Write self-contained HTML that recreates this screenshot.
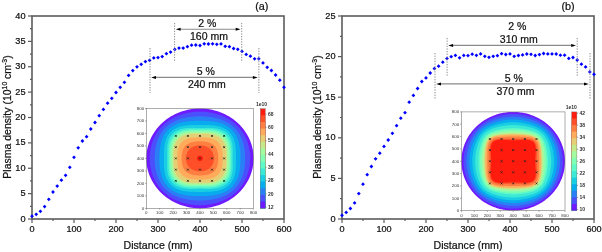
<!DOCTYPE html>
<html><head><meta charset="utf-8"><style>
html,body{margin:0;padding:0;background:#fff;}
svg{display:block;font-family:"Liberation Sans", sans-serif;will-change:transform;}
.t{stroke:#111;stroke-width:0.22px;}
</style></head><body>
<svg width="602" height="252" viewBox="0 0 602 252">
<rect width="602" height="252" fill="#fff"/>
<polygon points="253.60,158.40 253.59,157.53 253.57,156.66 253.53,155.79 253.47,154.92 253.40,154.05 253.31,153.18 253.20,152.32 253.08,151.46 252.94,150.59 252.78,149.73 252.61,148.88 252.43,148.03 252.22,147.17 252.01,146.33 251.77,145.48 251.52,144.65 251.26,143.81 250.97,142.98 250.68,142.15 250.36,141.33 250.04,140.52 249.69,139.71 249.34,138.90 248.96,138.10 248.57,137.31 248.17,136.53 247.75,135.75 247.32,134.97 246.87,134.21 246.41,133.45 245.94,132.70 245.45,131.96 244.94,131.22 244.43,130.50 243.90,129.78 243.35,129.07 242.80,128.37 242.23,127.68 241.64,127.00 241.05,126.32 240.44,125.66 239.82,125.01 239.19,124.37 238.54,123.74 237.89,123.12 237.22,122.50 236.54,121.91 235.85,121.32 235.15,120.74 234.44,120.17 233.71,119.62 232.98,119.08 232.24,118.55 231.48,118.03 230.72,117.52 229.95,117.03 229.17,116.55 228.38,116.08 227.58,115.63 226.77,115.19 225.96,114.76 225.14,114.34 224.31,113.94 223.47,113.55 222.62,113.18 221.77,112.81 220.91,112.47 220.05,112.13 219.18,111.81 218.30,111.51 217.42,111.22 216.53,110.94 215.64,110.68 214.74,110.43 213.84,110.20 212.93,109.98 212.02,109.78 211.10,109.59 210.19,109.42 209.27,109.26 208.34,109.11 207.42,108.99 206.49,108.87 205.56,108.77 204.63,108.69 203.69,108.62 202.76,108.57 201.82,108.53 200.89,108.51 199.95,108.50 199.01,108.51 198.08,108.53 197.14,108.57 196.21,108.62 195.27,108.69 194.34,108.77 193.41,108.87 192.48,108.99 191.56,109.11 190.63,109.26 189.71,109.42 188.80,109.59 187.88,109.78 186.97,109.98 186.06,110.20 185.16,110.43 184.26,110.68 183.37,110.94 182.48,111.22 181.60,111.51 180.72,111.81 179.85,112.13 178.99,112.47 178.13,112.81 177.28,113.18 176.43,113.55 175.59,113.94 174.76,114.34 173.94,114.76 173.13,115.19 172.32,115.63 171.52,116.08 170.73,116.55 169.95,117.03 169.18,117.52 168.42,118.03 167.66,118.55 166.92,119.08 166.19,119.62 165.46,120.17 164.75,120.74 164.05,121.32 163.36,121.91 162.68,122.50 162.01,123.12 161.36,123.74 160.71,124.37 160.08,125.01 159.46,125.66 158.85,126.32 158.26,127.00 157.67,127.68 157.10,128.37 156.55,129.07 156.00,129.78 155.47,130.50 154.96,131.22 154.45,131.96 153.96,132.70 153.49,133.45 153.03,134.21 152.58,134.97 152.15,135.75 151.73,136.53 151.33,137.31 150.94,138.10 150.56,138.90 150.21,139.71 149.86,140.52 149.54,141.33 149.22,142.15 148.93,142.98 148.64,143.81 148.38,144.65 148.13,145.48 147.89,146.33 147.68,147.17 147.47,148.03 147.29,148.88 147.12,149.73 146.96,150.59 146.82,151.46 146.70,152.32 146.59,153.18 146.50,154.05 146.43,154.92 146.37,155.79 146.33,156.66 146.31,157.53 146.30,158.40 146.31,159.27 146.33,160.14 146.37,161.01 146.43,161.88 146.50,162.75 146.59,163.62 146.70,164.48 146.82,165.34 146.96,166.21 147.12,167.07 147.29,167.92 147.47,168.77 147.68,169.63 147.89,170.47 148.13,171.32 148.38,172.15 148.64,172.99 148.93,173.82 149.22,174.65 149.54,175.47 149.86,176.28 150.21,177.09 150.56,177.90 150.94,178.70 151.33,179.49 151.73,180.27 152.15,181.05 152.58,181.83 153.03,182.59 153.49,183.35 153.96,184.10 154.45,184.84 154.96,185.58 155.47,186.30 156.00,187.02 156.55,187.73 157.10,188.43 157.67,189.12 158.26,189.80 158.85,190.48 159.46,191.14 160.08,191.79 160.71,192.43 161.36,193.06 162.01,193.68 162.68,194.30 163.36,194.89 164.05,195.48 164.75,196.06 165.46,196.63 166.19,197.18 166.92,197.72 167.66,198.25 168.42,198.77 169.18,199.28 169.95,199.77 170.73,200.25 171.52,200.72 172.32,201.17 173.12,201.61 173.94,202.04 174.76,202.46 175.59,202.86 176.43,203.25 177.28,203.62 178.13,203.99 178.99,204.33 179.85,204.67 180.72,204.99 181.60,205.29 182.48,205.58 183.37,205.86 184.26,206.12 185.16,206.37 186.06,206.60 186.97,206.82 187.88,207.02 188.80,207.21 189.71,207.38 190.63,207.54 191.56,207.69 192.48,207.81 193.41,207.93 194.34,208.03 195.27,208.11 196.21,208.18 197.14,208.23 198.08,208.27 199.01,208.29 199.95,208.30 200.89,208.29 201.82,208.27 202.76,208.23 203.69,208.18 204.63,208.11 205.56,208.03 206.49,207.93 207.42,207.81 208.34,207.69 209.27,207.54 210.19,207.38 211.10,207.21 212.02,207.02 212.93,206.82 213.84,206.60 214.74,206.37 215.64,206.12 216.53,205.86 217.42,205.58 218.30,205.29 219.18,204.99 220.05,204.67 220.91,204.33 221.77,203.99 222.62,203.62 223.47,203.25 224.31,202.86 225.14,202.46 225.96,202.04 226.77,201.61 227.58,201.17 228.38,200.72 229.17,200.25 229.95,199.77 230.72,199.28 231.48,198.77 232.24,198.25 232.98,197.72 233.71,197.18 234.44,196.63 235.15,196.06 235.85,195.48 236.54,194.89 237.22,194.30 237.89,193.68 238.54,193.06 239.19,192.43 239.82,191.79 240.44,191.14 241.05,190.48 241.64,189.80 242.23,189.12 242.80,188.43 243.35,187.73 243.90,187.02 244.43,186.30 244.94,185.58 245.45,184.84 245.94,184.10 246.41,183.35 246.87,182.59 247.32,181.83 247.75,181.05 248.17,180.27 248.57,179.49 248.96,178.70 249.34,177.90 249.69,177.09 250.04,176.28 250.36,175.47 250.68,174.65 250.97,173.82 251.26,172.99 251.52,172.15 251.77,171.32 252.01,170.47 252.22,169.63 252.43,168.77 252.61,167.92 252.78,167.07 252.94,166.21 253.08,165.34 253.20,164.48 253.31,163.62 253.40,162.75 253.47,161.88 253.53,161.01 253.57,160.14 253.59,159.27" fill="#6e1bff"/>
<polygon points="250.22,158.40 250.21,157.58 250.19,156.77 250.16,155.95 250.12,155.14 250.06,154.32 249.98,153.51 249.90,152.70 249.80,151.88 249.69,151.07 249.56,150.26 249.42,149.46 249.27,148.65 249.10,147.85 248.92,147.04 248.73,146.24 248.52,145.45 248.29,144.65 248.06,143.86 247.81,143.07 247.54,142.29 247.26,141.51 246.97,140.73 246.66,139.96 246.34,139.19 246.00,138.43 245.65,137.67 245.28,136.92 244.90,136.17 244.50,135.43 244.09,134.70 243.67,133.97 243.23,133.25 242.77,132.54 242.30,131.83 241.82,131.13 241.32,130.45 240.80,129.77 240.27,129.10 239.73,128.44 239.17,127.79 238.60,127.15 238.02,126.52 237.42,125.90 236.80,125.30 236.18,124.70 235.54,124.12 234.89,123.55 234.23,122.99 233.55,122.45 232.86,121.92 232.16,121.40 231.45,120.89 230.73,120.40 230.00,119.92 229.26,119.46 228.52,119.01 227.76,118.57 226.99,118.15 226.22,117.74 225.44,117.34 224.65,116.96 223.85,116.59 223.05,116.24 222.24,115.90 221.42,115.57 220.60,115.26 219.78,114.96 218.95,114.67 218.11,114.40 217.27,114.14 216.43,113.89 215.58,113.66 214.73,113.43 213.88,113.23 213.02,113.03 212.16,112.85 211.30,112.68 210.43,112.53 209.57,112.39 208.70,112.26 207.83,112.14 206.96,112.03 206.08,111.94 205.21,111.86 204.33,111.80 203.46,111.74 202.58,111.70 201.70,111.67 200.83,111.65 199.95,111.64 199.07,111.65 198.20,111.67 197.32,111.70 196.44,111.74 195.57,111.80 194.69,111.86 193.82,111.94 192.94,112.03 192.07,112.14 191.20,112.26 190.33,112.39 189.47,112.53 188.60,112.68 187.74,112.85 186.88,113.03 186.02,113.23 185.17,113.43 184.32,113.66 183.47,113.89 182.63,114.14 181.79,114.40 180.95,114.67 180.12,114.96 179.30,115.26 178.48,115.57 177.66,115.90 176.85,116.24 176.05,116.59 175.25,116.96 174.46,117.34 173.68,117.74 172.91,118.15 172.14,118.57 171.38,119.01 170.64,119.46 169.90,119.92 169.17,120.40 168.45,120.89 167.74,121.40 167.04,121.92 166.35,122.45 165.67,122.99 165.01,123.55 164.36,124.12 163.72,124.70 163.10,125.30 162.48,125.90 161.88,126.52 161.30,127.15 160.73,127.79 160.17,128.44 159.63,129.10 159.10,129.77 158.58,130.45 158.08,131.13 157.60,131.83 157.13,132.54 156.67,133.25 156.23,133.97 155.81,134.70 155.40,135.43 155.00,136.17 154.62,136.92 154.25,137.67 153.90,138.43 153.56,139.19 153.24,139.96 152.93,140.73 152.64,141.51 152.36,142.29 152.09,143.07 151.84,143.86 151.61,144.65 151.38,145.45 151.17,146.24 150.98,147.04 150.80,147.85 150.63,148.65 150.48,149.46 150.34,150.26 150.21,151.07 150.10,151.88 150.00,152.70 149.92,153.51 149.84,154.32 149.78,155.14 149.74,155.95 149.71,156.77 149.69,157.58 149.68,158.40 149.69,159.22 149.71,160.03 149.74,160.85 149.78,161.66 149.84,162.48 149.92,163.29 150.00,164.10 150.10,164.92 150.21,165.73 150.34,166.54 150.48,167.34 150.63,168.15 150.80,168.95 150.98,169.76 151.17,170.56 151.38,171.35 151.61,172.15 151.84,172.94 152.09,173.73 152.36,174.51 152.64,175.29 152.93,176.07 153.24,176.84 153.56,177.61 153.90,178.37 154.25,179.13 154.62,179.88 155.00,180.63 155.40,181.37 155.81,182.10 156.23,182.83 156.67,183.55 157.13,184.26 157.60,184.97 158.08,185.67 158.58,186.35 159.10,187.03 159.63,187.70 160.17,188.36 160.73,189.01 161.30,189.65 161.88,190.28 162.48,190.90 163.10,191.50 163.72,192.10 164.36,192.68 165.01,193.25 165.67,193.81 166.35,194.35 167.04,194.88 167.74,195.40 168.45,195.91 169.17,196.40 169.90,196.88 170.64,197.34 171.38,197.79 172.14,198.23 172.91,198.65 173.68,199.06 174.46,199.46 175.25,199.84 176.05,200.21 176.85,200.56 177.66,200.90 178.48,201.23 179.30,201.54 180.12,201.84 180.95,202.13 181.79,202.40 182.63,202.66 183.47,202.91 184.32,203.14 185.17,203.37 186.02,203.57 186.88,203.77 187.74,203.95 188.60,204.12 189.47,204.27 190.33,204.41 191.20,204.54 192.07,204.66 192.94,204.77 193.82,204.86 194.69,204.94 195.57,205.00 196.44,205.06 197.32,205.10 198.20,205.13 199.07,205.15 199.95,205.16 200.83,205.15 201.70,205.13 202.58,205.10 203.46,205.06 204.33,205.00 205.21,204.94 206.08,204.86 206.96,204.77 207.83,204.66 208.70,204.54 209.57,204.41 210.43,204.27 211.30,204.12 212.16,203.95 213.02,203.77 213.88,203.57 214.73,203.37 215.58,203.14 216.43,202.91 217.27,202.66 218.11,202.40 218.95,202.13 219.78,201.84 220.60,201.54 221.42,201.23 222.24,200.90 223.05,200.56 223.85,200.21 224.65,199.84 225.44,199.46 226.22,199.06 226.99,198.65 227.76,198.23 228.52,197.79 229.26,197.34 230.00,196.88 230.73,196.40 231.45,195.91 232.16,195.40 232.86,194.88 233.55,194.35 234.23,193.81 234.89,193.25 235.54,192.68 236.18,192.10 236.80,191.50 237.42,190.90 238.02,190.28 238.60,189.65 239.17,189.01 239.73,188.36 240.27,187.70 240.80,187.03 241.32,186.35 241.82,185.67 242.30,184.97 242.77,184.26 243.23,183.55 243.67,182.83 244.09,182.10 244.50,181.37 244.90,180.63 245.28,179.88 245.65,179.13 246.00,178.37 246.34,177.61 246.66,176.84 246.97,176.07 247.26,175.29 247.54,174.51 247.81,173.73 248.06,172.94 248.29,172.15 248.52,171.35 248.73,170.56 248.92,169.76 249.10,168.95 249.27,168.15 249.42,167.34 249.56,166.54 249.69,165.73 249.80,164.92 249.90,164.10 249.98,163.29 250.06,162.48 250.12,161.66 250.16,160.85 250.19,160.03 250.21,159.22" fill="#4c4ffc"/>
<polygon points="245.18,158.40 245.17,157.67 245.16,156.93 245.14,156.20 245.11,155.46 245.08,154.73 245.03,153.99 244.98,153.26 244.92,152.52 244.85,151.79 244.77,151.05 244.67,150.31 244.57,149.58 244.46,148.84 244.34,148.11 244.21,147.37 244.06,146.63 243.91,145.90 243.74,145.17 243.56,144.43 243.37,143.70 243.17,142.97 242.95,142.24 242.72,141.51 242.47,140.79 242.22,140.07 241.94,139.35 241.66,138.63 241.35,137.92 241.04,137.22 240.70,136.52 240.35,135.82 239.99,135.13 239.61,134.45 239.21,133.77 238.79,133.10 238.36,132.44 237.91,131.79 237.44,131.15 236.96,130.52 236.46,129.90 235.94,129.30 235.41,128.70 234.86,128.12 234.29,127.55 233.71,127.00 233.12,126.46 232.50,125.93 231.88,125.42 231.24,124.92 230.59,124.44 229.92,123.98 229.24,123.53 228.56,123.09 227.86,122.67 227.15,122.27 226.43,121.89 225.70,121.52 224.97,121.16 224.23,120.82 223.48,120.50 222.72,120.19 221.96,119.89 221.20,119.61 220.43,119.34 219.66,119.09 218.88,118.85 218.10,118.62 217.32,118.41 216.54,118.20 215.75,118.01 214.97,117.84 214.18,117.67 213.39,117.51 212.60,117.37 211.81,117.24 211.02,117.11 210.23,117.00 209.43,116.90 208.64,116.80 207.85,116.72 207.06,116.64 206.27,116.57 205.48,116.52 204.69,116.47 203.90,116.43 203.11,116.39 202.32,116.37 201.53,116.35 200.74,116.34 199.95,116.33 199.16,116.34 198.37,116.35 197.58,116.37 196.79,116.39 196.00,116.43 195.21,116.47 194.42,116.52 193.63,116.57 192.84,116.64 192.05,116.72 191.26,116.80 190.47,116.90 189.67,117.00 188.88,117.11 188.09,117.24 187.30,117.37 186.51,117.51 185.72,117.67 184.93,117.84 184.15,118.01 183.36,118.20 182.58,118.41 181.80,118.62 181.02,118.85 180.24,119.09 179.47,119.34 178.70,119.61 177.94,119.89 177.18,120.19 176.42,120.50 175.67,120.82 174.93,121.16 174.20,121.52 173.47,121.89 172.75,122.27 172.04,122.67 171.34,123.09 170.66,123.53 169.98,123.98 169.31,124.44 168.66,124.92 168.02,125.42 167.40,125.93 166.78,126.46 166.19,127.00 165.61,127.55 165.04,128.12 164.49,128.70 163.96,129.30 163.44,129.90 162.94,130.52 162.46,131.15 161.99,131.79 161.54,132.44 161.11,133.10 160.69,133.77 160.29,134.45 159.91,135.13 159.55,135.82 159.20,136.52 158.86,137.22 158.55,137.92 158.24,138.63 157.96,139.35 157.68,140.07 157.43,140.79 157.18,141.51 156.95,142.24 156.73,142.97 156.53,143.70 156.34,144.43 156.16,145.17 155.99,145.90 155.84,146.63 155.69,147.37 155.56,148.11 155.44,148.84 155.33,149.58 155.23,150.31 155.13,151.05 155.05,151.79 154.98,152.52 154.92,153.26 154.87,153.99 154.82,154.73 154.79,155.46 154.76,156.20 154.74,156.93 154.73,157.67 154.72,158.40 154.73,159.13 154.74,159.87 154.76,160.60 154.79,161.34 154.82,162.07 154.87,162.81 154.92,163.54 154.98,164.28 155.05,165.01 155.13,165.75 155.23,166.49 155.33,167.22 155.44,167.96 155.56,168.69 155.69,169.43 155.84,170.17 155.99,170.90 156.16,171.63 156.34,172.37 156.53,173.10 156.73,173.83 156.95,174.56 157.18,175.29 157.43,176.01 157.68,176.73 157.96,177.45 158.24,178.17 158.55,178.88 158.86,179.58 159.20,180.28 159.55,180.98 159.91,181.67 160.29,182.35 160.69,183.03 161.11,183.70 161.54,184.36 161.99,185.01 162.46,185.65 162.94,186.28 163.44,186.90 163.96,187.50 164.49,188.10 165.04,188.68 165.61,189.25 166.19,189.80 166.78,190.34 167.40,190.87 168.02,191.38 168.66,191.88 169.31,192.36 169.98,192.82 170.66,193.27 171.34,193.71 172.04,194.13 172.75,194.53 173.47,194.91 174.20,195.28 174.93,195.64 175.67,195.98 176.42,196.30 177.18,196.61 177.94,196.91 178.70,197.19 179.47,197.46 180.24,197.71 181.02,197.95 181.80,198.18 182.58,198.39 183.36,198.60 184.15,198.79 184.93,198.96 185.72,199.13 186.51,199.29 187.30,199.43 188.09,199.56 188.88,199.69 189.67,199.80 190.47,199.90 191.26,200.00 192.05,200.08 192.84,200.16 193.63,200.23 194.42,200.28 195.21,200.33 196.00,200.37 196.79,200.41 197.58,200.43 198.37,200.45 199.16,200.46 199.95,200.47 200.74,200.46 201.53,200.45 202.32,200.43 203.11,200.41 203.90,200.37 204.69,200.33 205.48,200.28 206.27,200.23 207.06,200.16 207.85,200.08 208.64,200.00 209.43,199.90 210.23,199.80 211.02,199.69 211.81,199.56 212.60,199.43 213.39,199.29 214.18,199.13 214.97,198.96 215.75,198.79 216.54,198.60 217.32,198.39 218.10,198.18 218.88,197.95 219.66,197.71 220.43,197.46 221.20,197.19 221.96,196.91 222.72,196.61 223.48,196.30 224.23,195.98 224.97,195.64 225.70,195.28 226.43,194.91 227.15,194.53 227.86,194.13 228.56,193.71 229.24,193.27 229.92,192.82 230.59,192.36 231.24,191.88 231.88,191.38 232.50,190.87 233.12,190.34 233.71,189.80 234.29,189.25 234.86,188.68 235.41,188.10 235.94,187.50 236.46,186.90 236.96,186.28 237.44,185.65 237.91,185.01 238.36,184.36 238.79,183.70 239.21,183.03 239.61,182.35 239.99,181.67 240.35,180.98 240.70,180.28 241.04,179.58 241.35,178.88 241.66,178.17 241.94,177.45 242.22,176.73 242.47,176.01 242.72,175.29 242.95,174.56 243.17,173.83 243.37,173.10 243.56,172.37 243.74,171.63 243.91,170.90 244.06,170.17 244.21,169.43 244.34,168.69 244.46,167.96 244.57,167.22 244.67,166.49 244.77,165.75 244.85,165.01 244.92,164.28 244.98,163.54 245.03,162.81 245.08,162.07 245.11,161.34 245.14,160.60 245.16,159.87 245.17,159.13" fill="#2b7ff6"/>
<polygon points="240.46,158.40 240.45,157.74 240.45,157.08 240.44,156.43 240.43,155.77 240.41,155.11 240.39,154.45 240.36,153.78 240.33,153.12 240.29,152.46 240.25,151.79 240.20,151.12 240.14,150.45 240.08,149.78 240.01,149.11 239.93,148.44 239.84,147.76 239.74,147.09 239.63,146.41 239.51,145.73 239.38,145.05 239.24,144.37 239.09,143.69 238.93,143.01 238.75,142.33 238.56,141.65 238.36,140.98 238.14,140.30 237.91,139.63 237.66,138.96 237.39,138.29 237.11,137.63 236.81,136.98 236.49,136.33 236.16,135.69 235.80,135.05 235.43,134.42 235.04,133.81 234.63,133.20 234.20,132.60 233.76,132.02 233.29,131.44 232.81,130.88 232.31,130.34 231.79,129.81 231.25,129.29 230.69,128.79 230.12,128.31 229.54,127.84 228.93,127.39 228.32,126.96 227.69,126.54 227.05,126.14 226.39,125.76 225.73,125.40 225.05,125.05 224.37,124.72 223.68,124.41 222.98,124.12 222.28,123.84 221.57,123.58 220.85,123.33 220.13,123.10 219.41,122.88 218.68,122.68 217.96,122.49 217.23,122.31 216.50,122.15 215.76,121.99 215.03,121.85 214.30,121.72 213.57,121.60 212.84,121.49 212.11,121.39 211.39,121.30 210.66,121.22 209.94,121.14 209.21,121.08 208.49,121.02 207.77,120.96 207.06,120.92 206.34,120.88 205.63,120.84 204.91,120.81 204.20,120.79 203.49,120.77 202.78,120.75 202.07,120.74 201.36,120.73 200.66,120.73 199.95,120.73 199.24,120.73 198.54,120.73 197.83,120.74 197.12,120.75 196.41,120.77 195.70,120.79 194.99,120.81 194.27,120.84 193.56,120.88 192.84,120.92 192.13,120.96 191.41,121.02 190.69,121.08 189.96,121.14 189.24,121.22 188.51,121.30 187.79,121.39 187.06,121.49 186.33,121.60 185.60,121.72 184.87,121.85 184.14,121.99 183.40,122.15 182.67,122.31 181.94,122.49 181.22,122.68 180.49,122.88 179.77,123.10 179.05,123.33 178.33,123.58 177.62,123.84 176.92,124.12 176.22,124.41 175.53,124.72 174.85,125.05 174.17,125.40 173.51,125.76 172.85,126.14 172.21,126.54 171.58,126.96 170.97,127.39 170.36,127.84 169.78,128.31 169.21,128.79 168.65,129.29 168.11,129.81 167.59,130.34 167.09,130.88 166.61,131.44 166.14,132.02 165.70,132.60 165.27,133.20 164.86,133.81 164.47,134.42 164.10,135.05 163.74,135.69 163.41,136.33 163.09,136.98 162.79,137.63 162.51,138.29 162.24,138.96 161.99,139.63 161.76,140.30 161.54,140.98 161.34,141.65 161.15,142.33 160.97,143.01 160.81,143.69 160.66,144.37 160.52,145.05 160.39,145.73 160.27,146.41 160.16,147.09 160.06,147.76 159.97,148.44 159.89,149.11 159.82,149.78 159.76,150.45 159.70,151.12 159.65,151.79 159.61,152.46 159.57,153.12 159.54,153.78 159.51,154.45 159.49,155.11 159.47,155.77 159.46,156.43 159.45,157.08 159.45,157.74 159.44,158.40 159.45,159.06 159.45,159.72 159.46,160.37 159.47,161.03 159.49,161.69 159.51,162.35 159.54,163.02 159.57,163.68 159.61,164.34 159.65,165.01 159.70,165.68 159.76,166.35 159.82,167.02 159.89,167.69 159.97,168.36 160.06,169.04 160.16,169.71 160.27,170.39 160.39,171.07 160.52,171.75 160.66,172.43 160.81,173.11 160.97,173.79 161.15,174.47 161.34,175.15 161.54,175.82 161.76,176.50 161.99,177.17 162.24,177.84 162.51,178.51 162.79,179.17 163.09,179.82 163.41,180.47 163.74,181.11 164.10,181.75 164.47,182.38 164.86,182.99 165.27,183.60 165.70,184.20 166.14,184.78 166.61,185.36 167.09,185.92 167.59,186.46 168.11,186.99 168.65,187.51 169.21,188.01 169.78,188.49 170.36,188.96 170.97,189.41 171.58,189.84 172.21,190.26 172.85,190.66 173.51,191.04 174.17,191.40 174.85,191.75 175.53,192.08 176.22,192.39 176.92,192.68 177.62,192.96 178.33,193.22 179.05,193.47 179.77,193.70 180.49,193.92 181.22,194.12 181.94,194.31 182.67,194.49 183.40,194.65 184.14,194.81 184.87,194.95 185.60,195.08 186.33,195.20 187.06,195.31 187.79,195.41 188.51,195.50 189.24,195.58 189.96,195.66 190.69,195.72 191.41,195.78 192.13,195.84 192.84,195.88 193.56,195.92 194.27,195.96 194.99,195.99 195.70,196.01 196.41,196.03 197.12,196.05 197.83,196.06 198.54,196.07 199.24,196.07 199.95,196.07 200.66,196.07 201.36,196.07 202.07,196.06 202.78,196.05 203.49,196.03 204.20,196.01 204.91,195.99 205.63,195.96 206.34,195.92 207.06,195.88 207.77,195.84 208.49,195.78 209.21,195.72 209.94,195.66 210.66,195.58 211.39,195.50 212.11,195.41 212.84,195.31 213.57,195.20 214.30,195.08 215.03,194.95 215.76,194.81 216.50,194.65 217.23,194.49 217.96,194.31 218.68,194.12 219.41,193.92 220.13,193.70 220.85,193.47 221.57,193.22 222.28,192.96 222.98,192.68 223.68,192.39 224.37,192.08 225.05,191.75 225.73,191.40 226.39,191.04 227.05,190.66 227.69,190.26 228.32,189.84 228.93,189.41 229.54,188.96 230.12,188.49 230.69,188.01 231.25,187.51 231.79,186.99 232.31,186.46 232.81,185.92 233.29,185.36 233.76,184.78 234.20,184.20 234.63,183.60 235.04,182.99 235.43,182.38 235.80,181.75 236.16,181.11 236.49,180.47 236.81,179.82 237.11,179.17 237.39,178.51 237.66,177.84 237.91,177.17 238.14,176.50 238.36,175.82 238.56,175.15 238.75,174.47 238.93,173.79 239.09,173.11 239.24,172.43 239.38,171.75 239.51,171.07 239.63,170.39 239.74,169.71 239.84,169.04 239.93,168.36 240.01,167.69 240.08,167.02 240.14,166.35 240.20,165.68 240.25,165.01 240.29,164.34 240.33,163.68 240.36,163.02 240.39,162.35 240.41,161.69 240.43,161.03 240.44,160.37 240.45,159.72 240.45,159.06" fill="#08abee"/>
<polygon points="235.95,158.40 235.95,157.82 235.95,157.23 235.95,156.65 235.95,156.06 235.95,155.47 235.95,154.88 235.95,154.29 235.94,153.70 235.93,153.10 235.92,152.50 235.91,151.90 235.89,151.29 235.87,150.69 235.84,150.08 235.80,149.46 235.76,148.85 235.72,148.23 235.66,147.61 235.60,146.98 235.52,146.36 235.44,145.73 235.35,145.10 235.24,144.47 235.12,143.83 234.99,143.20 234.85,142.57 234.69,141.93 234.52,141.30 234.33,140.67 234.13,140.05 233.91,139.42 233.67,138.80 233.41,138.19 233.13,137.58 232.84,136.98 232.52,136.39 232.19,135.81 231.83,135.23 231.46,134.67 231.06,134.12 230.64,133.58 230.21,133.06 229.75,132.55 229.28,132.06 228.78,131.58 228.27,131.12 227.74,130.68 227.19,130.26 226.63,129.85 226.05,129.47 225.46,129.10 224.86,128.75 224.24,128.42 223.61,128.11 222.98,127.81 222.33,127.54 221.68,127.28 221.02,127.04 220.35,126.82 219.68,126.61 219.01,126.42 218.33,126.25 217.65,126.08 216.97,125.94 216.29,125.81 215.61,125.68 214.93,125.58 214.25,125.48 213.57,125.39 212.90,125.31 212.22,125.25 211.55,125.19 210.88,125.13 210.22,125.09 209.56,125.05 208.90,125.02 208.24,124.99 207.59,124.97 206.94,124.95 206.29,124.94 205.65,124.93 205.01,124.92 204.37,124.92 203.73,124.92 203.10,124.91 202.47,124.91 201.84,124.92 201.21,124.92 200.58,124.92 199.95,124.92 199.32,124.92 198.69,124.92 198.06,124.92 197.43,124.91 196.80,124.91 196.17,124.92 195.53,124.92 194.89,124.92 194.25,124.93 193.61,124.94 192.96,124.95 192.31,124.97 191.66,124.99 191.00,125.02 190.34,125.05 189.68,125.09 189.02,125.13 188.35,125.19 187.68,125.25 187.00,125.31 186.33,125.39 185.65,125.48 184.97,125.58 184.29,125.68 183.61,125.81 182.93,125.94 182.25,126.08 181.57,126.25 180.89,126.42 180.22,126.61 179.55,126.82 178.88,127.04 178.22,127.28 177.57,127.54 176.92,127.81 176.29,128.11 175.66,128.42 175.04,128.75 174.44,129.10 173.85,129.47 173.27,129.85 172.71,130.26 172.16,130.68 171.63,131.12 171.12,131.58 170.62,132.06 170.15,132.55 169.69,133.06 169.26,133.58 168.84,134.12 168.44,134.67 168.07,135.23 167.71,135.81 167.38,136.39 167.06,136.98 166.77,137.58 166.49,138.19 166.23,138.80 165.99,139.42 165.77,140.05 165.57,140.67 165.38,141.30 165.21,141.93 165.05,142.57 164.91,143.20 164.78,143.83 164.66,144.47 164.55,145.10 164.46,145.73 164.38,146.36 164.30,146.98 164.24,147.61 164.18,148.23 164.14,148.85 164.10,149.46 164.06,150.08 164.03,150.69 164.01,151.29 163.99,151.90 163.98,152.50 163.97,153.10 163.96,153.70 163.95,154.29 163.95,154.88 163.95,155.47 163.95,156.06 163.95,156.65 163.95,157.23 163.95,157.82 163.95,158.40 163.95,158.98 163.95,159.57 163.95,160.15 163.95,160.74 163.95,161.33 163.95,161.92 163.95,162.51 163.96,163.10 163.97,163.70 163.98,164.30 163.99,164.90 164.01,165.51 164.03,166.11 164.06,166.72 164.10,167.34 164.14,167.95 164.18,168.57 164.24,169.19 164.30,169.82 164.38,170.44 164.46,171.07 164.55,171.70 164.66,172.33 164.78,172.97 164.91,173.60 165.05,174.23 165.21,174.87 165.38,175.50 165.57,176.13 165.77,176.75 165.99,177.38 166.23,178.00 166.49,178.61 166.77,179.22 167.06,179.82 167.38,180.41 167.71,180.99 168.07,181.57 168.44,182.13 168.84,182.68 169.26,183.22 169.69,183.74 170.15,184.25 170.62,184.74 171.12,185.22 171.63,185.68 172.16,186.12 172.71,186.54 173.27,186.95 173.85,187.33 174.44,187.70 175.04,188.05 175.66,188.38 176.29,188.69 176.92,188.99 177.57,189.26 178.22,189.52 178.88,189.76 179.55,189.98 180.22,190.19 180.89,190.38 181.57,190.55 182.25,190.72 182.93,190.86 183.61,190.99 184.29,191.12 184.97,191.22 185.65,191.32 186.33,191.41 187.00,191.49 187.68,191.55 188.35,191.61 189.02,191.67 189.68,191.71 190.34,191.75 191.00,191.78 191.66,191.81 192.31,191.83 192.96,191.85 193.61,191.86 194.25,191.87 194.89,191.88 195.53,191.88 196.17,191.88 196.80,191.89 197.43,191.89 198.06,191.88 198.69,191.88 199.32,191.88 199.95,191.88 200.58,191.88 201.21,191.88 201.84,191.88 202.47,191.89 203.10,191.89 203.73,191.88 204.37,191.88 205.01,191.88 205.65,191.87 206.29,191.86 206.94,191.85 207.59,191.83 208.24,191.81 208.90,191.78 209.56,191.75 210.22,191.71 210.88,191.67 211.55,191.61 212.22,191.55 212.90,191.49 213.57,191.41 214.25,191.32 214.93,191.22 215.61,191.12 216.29,190.99 216.97,190.86 217.65,190.72 218.33,190.55 219.01,190.38 219.68,190.19 220.35,189.98 221.02,189.76 221.68,189.52 222.33,189.26 222.98,188.99 223.61,188.69 224.24,188.38 224.86,188.05 225.46,187.70 226.05,187.33 226.63,186.95 227.19,186.54 227.74,186.12 228.27,185.68 228.78,185.22 229.28,184.74 229.75,184.25 230.21,183.74 230.64,183.22 231.06,182.68 231.46,182.13 231.83,181.57 232.19,180.99 232.52,180.41 232.84,179.82 233.13,179.22 233.41,178.61 233.67,178.00 233.91,177.38 234.13,176.75 234.33,176.13 234.52,175.50 234.69,174.87 234.85,174.23 234.99,173.60 235.12,172.97 235.24,172.33 235.35,171.70 235.44,171.07 235.52,170.44 235.60,169.82 235.66,169.19 235.72,168.57 235.76,167.95 235.80,167.34 235.84,166.72 235.87,166.11 235.89,165.51 235.91,164.90 235.92,164.30 235.93,163.70 235.94,163.10 235.95,162.51 235.95,161.92 235.95,161.33 235.95,160.74 235.95,160.15 235.95,159.57 235.95,158.98" fill="#19cee3"/>
<polygon points="232.68,158.40 232.68,157.87 232.68,157.34 232.69,156.80 232.70,156.27 232.71,155.73 232.72,155.20 232.73,154.66 232.74,154.11 232.76,153.57 232.77,153.02 232.77,152.47 232.78,151.91 232.78,151.35 232.78,150.79 232.78,150.22 232.77,149.65 232.75,149.07 232.73,148.49 232.70,147.91 232.66,147.33 232.62,146.74 232.56,146.15 232.49,145.55 232.42,144.96 232.33,144.36 232.22,143.76 232.11,143.16 231.98,142.56 231.83,141.96 231.66,141.37 231.48,140.78 231.29,140.19 231.07,139.60 230.83,139.03 230.58,138.45 230.30,137.89 230.00,137.34 229.69,136.79 229.35,136.26 228.99,135.74 228.61,135.23 228.21,134.74 227.79,134.26 227.35,133.79 226.88,133.35 226.41,132.92 225.91,132.51 225.39,132.12 224.86,131.74 224.32,131.39 223.76,131.06 223.18,130.74 222.60,130.45 222.00,130.17 221.39,129.91 220.78,129.68 220.16,129.46 219.53,129.25 218.90,129.07 218.26,128.90 217.62,128.75 216.98,128.61 216.33,128.49 215.69,128.38 215.05,128.29 214.41,128.20 213.76,128.13 213.13,128.07 212.49,128.02 211.86,127.97 211.23,127.94 210.60,127.91 209.98,127.89 209.36,127.88 208.75,127.87 208.14,127.86 207.53,127.86 206.93,127.87 206.33,127.87 205.74,127.88 205.15,127.89 204.56,127.90 203.98,127.91 203.39,127.92 202.82,127.93 202.24,127.94 201.67,127.95 201.09,127.96 200.52,127.96 199.95,127.96 199.38,127.96 198.81,127.96 198.23,127.95 197.66,127.94 197.08,127.93 196.51,127.92 195.92,127.91 195.34,127.90 194.75,127.89 194.16,127.88 193.57,127.87 192.97,127.87 192.37,127.86 191.76,127.86 191.15,127.87 190.54,127.88 189.92,127.89 189.30,127.91 188.67,127.94 188.04,127.97 187.41,128.02 186.77,128.07 186.14,128.13 185.49,128.20 184.85,128.29 184.21,128.38 183.57,128.49 182.92,128.61 182.28,128.75 181.64,128.90 181.00,129.07 180.37,129.25 179.74,129.46 179.12,129.68 178.51,129.91 177.90,130.17 177.30,130.45 176.72,130.74 176.14,131.06 175.58,131.39 175.04,131.74 174.51,132.12 173.99,132.51 173.49,132.92 173.02,133.35 172.55,133.79 172.11,134.26 171.69,134.74 171.29,135.23 170.91,135.74 170.55,136.26 170.21,136.79 169.90,137.34 169.60,137.89 169.32,138.45 169.07,139.03 168.83,139.60 168.61,140.19 168.42,140.78 168.24,141.37 168.07,141.96 167.92,142.56 167.79,143.16 167.68,143.76 167.57,144.36 167.48,144.96 167.41,145.55 167.34,146.15 167.28,146.74 167.24,147.33 167.20,147.91 167.17,148.49 167.15,149.07 167.13,149.65 167.12,150.22 167.12,150.79 167.12,151.35 167.12,151.91 167.13,152.47 167.13,153.02 167.14,153.57 167.16,154.11 167.17,154.66 167.18,155.20 167.19,155.73 167.20,156.27 167.21,156.80 167.22,157.34 167.22,157.87 167.22,158.40 167.22,158.93 167.22,159.46 167.21,160.00 167.20,160.53 167.19,161.07 167.18,161.60 167.17,162.14 167.16,162.69 167.14,163.23 167.13,163.78 167.13,164.33 167.12,164.89 167.12,165.45 167.12,166.01 167.12,166.58 167.13,167.15 167.15,167.73 167.17,168.31 167.20,168.89 167.24,169.47 167.28,170.06 167.34,170.65 167.41,171.25 167.48,171.84 167.57,172.44 167.68,173.04 167.79,173.64 167.92,174.24 168.07,174.84 168.24,175.43 168.42,176.02 168.61,176.61 168.83,177.20 169.07,177.77 169.32,178.35 169.60,178.91 169.90,179.46 170.21,180.01 170.55,180.54 170.91,181.06 171.29,181.57 171.69,182.06 172.11,182.54 172.55,183.01 173.02,183.45 173.49,183.88 173.99,184.29 174.51,184.68 175.04,185.06 175.58,185.41 176.14,185.74 176.72,186.06 177.30,186.35 177.90,186.63 178.51,186.89 179.12,187.12 179.74,187.34 180.37,187.55 181.00,187.73 181.64,187.90 182.28,188.05 182.92,188.19 183.57,188.31 184.21,188.42 184.85,188.51 185.49,188.60 186.14,188.67 186.77,188.73 187.41,188.78 188.04,188.83 188.67,188.86 189.30,188.89 189.92,188.91 190.54,188.92 191.15,188.93 191.76,188.94 192.37,188.94 192.97,188.93 193.57,188.93 194.16,188.92 194.75,188.91 195.34,188.90 195.92,188.89 196.51,188.88 197.08,188.87 197.66,188.86 198.23,188.85 198.81,188.84 199.38,188.84 199.95,188.84 200.52,188.84 201.09,188.84 201.67,188.85 202.24,188.86 202.82,188.87 203.39,188.88 203.98,188.89 204.56,188.90 205.15,188.91 205.74,188.92 206.33,188.93 206.93,188.93 207.53,188.94 208.14,188.94 208.75,188.93 209.36,188.92 209.98,188.91 210.60,188.89 211.23,188.86 211.86,188.83 212.49,188.78 213.13,188.73 213.76,188.67 214.41,188.60 215.05,188.51 215.69,188.42 216.33,188.31 216.98,188.19 217.62,188.05 218.26,187.90 218.90,187.73 219.53,187.55 220.16,187.34 220.78,187.12 221.39,186.89 222.00,186.63 222.60,186.35 223.18,186.06 223.76,185.74 224.32,185.41 224.86,185.06 225.39,184.68 225.91,184.29 226.41,183.88 226.88,183.45 227.35,183.01 227.79,182.54 228.21,182.06 228.61,181.57 228.99,181.06 229.35,180.54 229.69,180.01 230.00,179.46 230.30,178.91 230.58,178.35 230.83,177.77 231.07,177.20 231.29,176.61 231.48,176.02 231.66,175.43 231.83,174.84 231.98,174.24 232.11,173.64 232.22,173.04 232.33,172.44 232.42,171.84 232.49,171.25 232.56,170.65 232.62,170.06 232.66,169.47 232.70,168.89 232.73,168.31 232.75,167.73 232.77,167.15 232.78,166.58 232.78,166.01 232.78,165.45 232.78,164.89 232.77,164.33 232.77,163.78 232.76,163.23 232.74,162.69 232.73,162.14 232.72,161.60 232.71,161.07 232.70,160.53 232.69,160.00 232.68,159.46 232.68,158.93" fill="#3be9d6"/>
<polygon points="231.34,158.40 231.34,157.89 231.34,157.38 231.34,156.87 231.35,156.36 231.35,155.84 231.35,155.33 231.36,154.81 231.36,154.29 231.36,153.77 231.36,153.25 231.35,152.72 231.34,152.19 231.33,151.66 231.32,151.13 231.30,150.59 231.27,150.05 231.24,149.50 231.21,148.95 231.16,148.40 231.11,147.85 231.05,147.30 230.98,146.74 230.90,146.18 230.81,145.62 230.70,145.06 230.59,144.50 230.46,143.94 230.32,143.38 230.17,142.82 230.00,142.26 229.81,141.71 229.61,141.16 229.39,140.62 229.16,140.08 228.90,139.54 228.63,139.02 228.34,138.50 228.04,137.99 227.71,137.49 227.37,137.00 227.00,136.53 226.62,136.06 226.22,135.61 225.80,135.18 225.37,134.76 224.92,134.35 224.45,133.97 223.96,133.59 223.47,133.24 222.95,132.90 222.43,132.58 221.89,132.28 221.35,131.99 220.79,131.72 220.22,131.47 219.65,131.23 219.07,131.02 218.48,130.81 217.89,130.63 217.30,130.45 216.70,130.29 216.10,130.15 215.50,130.02 214.89,129.90 214.29,129.80 213.69,129.70 213.09,129.62 212.49,129.54 211.89,129.48 211.29,129.42 210.70,129.37 210.11,129.33 209.52,129.29 208.93,129.27 208.35,129.24 207.77,129.22 207.20,129.21 206.62,129.20 206.05,129.19 205.49,129.19 204.92,129.19 204.36,129.19 203.81,129.19 203.25,129.19 202.70,129.20 202.15,129.20 201.60,129.20 201.05,129.21 200.50,129.21 199.95,129.21 199.40,129.21 198.85,129.21 198.30,129.20 197.75,129.20 197.20,129.20 196.65,129.19 196.09,129.19 195.54,129.19 194.98,129.19 194.41,129.19 193.85,129.19 193.28,129.20 192.70,129.21 192.13,129.22 191.55,129.24 190.97,129.27 190.38,129.29 189.79,129.33 189.20,129.37 188.61,129.42 188.01,129.48 187.41,129.54 186.81,129.62 186.21,129.70 185.61,129.80 185.01,129.90 184.40,130.02 183.80,130.15 183.20,130.29 182.60,130.45 182.01,130.63 181.42,130.81 180.83,131.02 180.25,131.23 179.68,131.47 179.11,131.72 178.55,131.99 178.01,132.28 177.47,132.58 176.95,132.90 176.43,133.24 175.94,133.59 175.45,133.97 174.98,134.35 174.53,134.76 174.10,135.18 173.68,135.61 173.28,136.06 172.90,136.53 172.53,137.00 172.19,137.49 171.86,137.99 171.56,138.50 171.27,139.02 171.00,139.54 170.74,140.08 170.51,140.62 170.29,141.16 170.09,141.71 169.90,142.26 169.73,142.82 169.58,143.38 169.44,143.94 169.31,144.50 169.20,145.06 169.09,145.62 169.00,146.18 168.92,146.74 168.85,147.30 168.79,147.85 168.74,148.40 168.69,148.95 168.66,149.50 168.63,150.05 168.60,150.59 168.58,151.13 168.57,151.66 168.56,152.19 168.55,152.72 168.54,153.25 168.54,153.77 168.54,154.29 168.54,154.81 168.55,155.33 168.55,155.84 168.55,156.36 168.56,156.87 168.56,157.38 168.56,157.89 168.56,158.40 168.56,158.91 168.56,159.42 168.56,159.93 168.55,160.44 168.55,160.96 168.55,161.47 168.54,161.99 168.54,162.51 168.54,163.03 168.54,163.55 168.55,164.08 168.56,164.61 168.57,165.14 168.58,165.67 168.60,166.21 168.63,166.75 168.66,167.30 168.69,167.85 168.74,168.40 168.79,168.95 168.85,169.50 168.92,170.06 169.00,170.62 169.09,171.18 169.20,171.74 169.31,172.30 169.44,172.86 169.58,173.42 169.73,173.98 169.90,174.54 170.09,175.09 170.29,175.64 170.51,176.18 170.74,176.72 171.00,177.26 171.27,177.78 171.56,178.30 171.86,178.81 172.19,179.31 172.53,179.80 172.90,180.27 173.28,180.74 173.68,181.19 174.10,181.62 174.53,182.04 174.98,182.45 175.45,182.83 175.94,183.21 176.43,183.56 176.95,183.90 177.47,184.22 178.01,184.52 178.55,184.81 179.11,185.08 179.68,185.33 180.25,185.57 180.83,185.78 181.42,185.99 182.01,186.17 182.60,186.35 183.20,186.51 183.80,186.65 184.40,186.78 185.01,186.90 185.61,187.00 186.21,187.10 186.81,187.18 187.41,187.26 188.01,187.32 188.61,187.38 189.20,187.43 189.79,187.47 190.38,187.51 190.97,187.53 191.55,187.56 192.13,187.58 192.70,187.59 193.28,187.60 193.85,187.61 194.41,187.61 194.98,187.61 195.54,187.61 196.09,187.61 196.65,187.61 197.20,187.60 197.75,187.60 198.30,187.60 198.85,187.59 199.40,187.59 199.95,187.59 200.50,187.59 201.05,187.59 201.60,187.60 202.15,187.60 202.70,187.60 203.25,187.61 203.81,187.61 204.36,187.61 204.92,187.61 205.49,187.61 206.05,187.61 206.62,187.60 207.20,187.59 207.77,187.58 208.35,187.56 208.93,187.53 209.52,187.51 210.11,187.47 210.70,187.43 211.29,187.38 211.89,187.32 212.49,187.26 213.09,187.18 213.69,187.10 214.29,187.00 214.89,186.90 215.50,186.78 216.10,186.65 216.70,186.51 217.30,186.35 217.89,186.17 218.48,185.99 219.07,185.78 219.65,185.57 220.22,185.33 220.79,185.08 221.35,184.81 221.89,184.52 222.43,184.22 222.95,183.90 223.47,183.56 223.96,183.21 224.45,182.83 224.92,182.45 225.37,182.04 225.80,181.62 226.22,181.19 226.62,180.74 227.00,180.27 227.37,179.80 227.71,179.31 228.04,178.81 228.34,178.30 228.63,177.78 228.90,177.26 229.16,176.72 229.39,176.18 229.61,175.64 229.81,175.09 230.00,174.54 230.17,173.98 230.32,173.42 230.46,172.86 230.59,172.30 230.70,171.74 230.81,171.18 230.90,170.62 230.98,170.06 231.05,169.50 231.11,168.95 231.16,168.40 231.21,167.85 231.24,167.30 231.27,166.75 231.30,166.21 231.32,165.67 231.33,165.14 231.34,164.61 231.35,164.08 231.36,163.55 231.36,163.03 231.36,162.51 231.36,161.99 231.35,161.47 231.35,160.96 231.35,160.44 231.34,159.93 231.34,159.42 231.34,158.91" fill="#5ef9c6"/>
<polygon points="229.99,158.40 229.99,157.91 230.00,157.42 230.00,156.94 230.00,156.45 230.01,155.95 230.01,155.46 230.01,154.97 230.01,154.47 230.01,153.97 230.01,153.47 230.00,152.97 229.99,152.46 229.98,151.95 229.96,151.44 229.94,150.93 229.92,150.41 229.89,149.89 229.85,149.36 229.80,148.84 229.75,148.31 229.69,147.78 229.62,147.25 229.54,146.72 229.45,146.18 229.35,145.65 229.24,145.11 229.12,144.58 228.98,144.04 228.83,143.51 228.67,142.98 228.49,142.45 228.29,141.93 228.08,141.41 227.86,140.89 227.62,140.38 227.36,139.88 227.08,139.39 226.78,138.90 226.47,138.43 226.14,137.96 225.79,137.51 225.43,137.06 225.04,136.63 224.64,136.22 224.23,135.82 223.80,135.43 223.35,135.06 222.89,134.70 222.41,134.36 221.93,134.04 221.43,133.73 220.91,133.44 220.39,133.17 219.86,132.91 219.32,132.67 218.77,132.44 218.22,132.23 217.66,132.04 217.10,131.86 216.53,131.69 215.96,131.54 215.39,131.40 214.81,131.27 214.24,131.16 213.66,131.05 213.09,130.96 212.51,130.88 211.94,130.80 211.37,130.74 210.80,130.68 210.23,130.63 209.66,130.59 209.10,130.56 208.54,130.53 207.99,130.50 207.43,130.48 206.88,130.47 206.34,130.46 205.79,130.45 205.25,130.44 204.71,130.44 204.17,130.44 203.64,130.44 203.11,130.44 202.58,130.45 202.05,130.45 201.52,130.45 201.00,130.45 200.47,130.46 199.95,130.46 199.43,130.46 198.90,130.45 198.38,130.45 197.85,130.45 197.32,130.45 196.79,130.44 196.26,130.44 195.73,130.44 195.19,130.44 194.65,130.44 194.11,130.45 193.56,130.46 193.02,130.47 192.47,130.48 191.91,130.50 191.36,130.53 190.80,130.56 190.24,130.59 189.67,130.63 189.10,130.68 188.53,130.74 187.96,130.80 187.39,130.88 186.81,130.96 186.24,131.05 185.66,131.16 185.09,131.27 184.51,131.40 183.94,131.54 183.37,131.69 182.80,131.86 182.24,132.04 181.68,132.23 181.13,132.44 180.58,132.67 180.04,132.91 179.51,133.17 178.99,133.44 178.47,133.73 177.97,134.04 177.49,134.36 177.01,134.70 176.55,135.06 176.10,135.43 175.67,135.82 175.26,136.22 174.86,136.63 174.47,137.06 174.11,137.51 173.76,137.96 173.43,138.43 173.12,138.90 172.82,139.39 172.54,139.88 172.28,140.38 172.04,140.89 171.82,141.41 171.61,141.93 171.41,142.45 171.23,142.98 171.07,143.51 170.92,144.04 170.78,144.58 170.66,145.11 170.55,145.65 170.45,146.18 170.36,146.72 170.28,147.25 170.21,147.78 170.15,148.31 170.10,148.84 170.05,149.36 170.01,149.89 169.98,150.41 169.96,150.93 169.94,151.44 169.92,151.95 169.91,152.46 169.90,152.97 169.89,153.47 169.89,153.97 169.89,154.47 169.89,154.97 169.89,155.46 169.89,155.95 169.90,156.45 169.90,156.94 169.90,157.42 169.91,157.91 169.91,158.40 169.91,158.89 169.90,159.38 169.90,159.86 169.90,160.35 169.89,160.85 169.89,161.34 169.89,161.83 169.89,162.33 169.89,162.83 169.89,163.33 169.90,163.83 169.91,164.34 169.92,164.85 169.94,165.36 169.96,165.87 169.98,166.39 170.01,166.91 170.05,167.44 170.10,167.96 170.15,168.49 170.21,169.02 170.28,169.55 170.36,170.08 170.45,170.62 170.55,171.15 170.66,171.69 170.78,172.22 170.92,172.76 171.07,173.29 171.23,173.82 171.41,174.35 171.61,174.87 171.82,175.39 172.04,175.91 172.28,176.42 172.54,176.92 172.82,177.41 173.12,177.90 173.43,178.37 173.76,178.84 174.11,179.29 174.47,179.74 174.86,180.17 175.26,180.58 175.67,180.98 176.10,181.37 176.55,181.74 177.01,182.10 177.49,182.44 177.97,182.76 178.47,183.07 178.99,183.36 179.51,183.63 180.04,183.89 180.58,184.13 181.13,184.36 181.68,184.57 182.24,184.76 182.80,184.94 183.37,185.11 183.94,185.26 184.51,185.40 185.09,185.53 185.66,185.64 186.24,185.75 186.81,185.84 187.39,185.92 187.96,186.00 188.53,186.06 189.10,186.12 189.67,186.17 190.24,186.21 190.80,186.24 191.36,186.27 191.91,186.30 192.47,186.32 193.02,186.33 193.56,186.34 194.11,186.35 194.65,186.36 195.19,186.36 195.73,186.36 196.26,186.36 196.79,186.36 197.32,186.35 197.85,186.35 198.38,186.35 198.90,186.35 199.43,186.34 199.95,186.34 200.47,186.34 201.00,186.35 201.52,186.35 202.05,186.35 202.58,186.35 203.11,186.36 203.64,186.36 204.17,186.36 204.71,186.36 205.25,186.36 205.79,186.35 206.34,186.34 206.88,186.33 207.43,186.32 207.99,186.30 208.54,186.27 209.10,186.24 209.66,186.21 210.23,186.17 210.80,186.12 211.37,186.06 211.94,186.00 212.51,185.92 213.09,185.84 213.66,185.75 214.24,185.64 214.81,185.53 215.39,185.40 215.96,185.26 216.53,185.11 217.10,184.94 217.66,184.76 218.22,184.57 218.77,184.36 219.32,184.13 219.86,183.89 220.39,183.63 220.91,183.36 221.43,183.07 221.93,182.76 222.41,182.44 222.89,182.10 223.35,181.74 223.80,181.37 224.23,180.98 224.64,180.58 225.04,180.17 225.43,179.74 225.79,179.29 226.14,178.84 226.47,178.37 226.78,177.90 227.08,177.41 227.36,176.92 227.62,176.42 227.86,175.91 228.08,175.39 228.29,174.87 228.49,174.35 228.67,173.82 228.83,173.29 228.98,172.76 229.12,172.22 229.24,171.69 229.35,171.15 229.45,170.62 229.54,170.08 229.62,169.55 229.69,169.02 229.75,168.49 229.80,167.96 229.85,167.44 229.89,166.91 229.92,166.39 229.94,165.87 229.96,165.36 229.98,164.85 229.99,164.34 230.00,163.83 230.01,163.33 230.01,162.83 230.01,162.33 230.01,161.83 230.01,161.34 230.01,160.85 230.00,160.35 230.00,159.86 230.00,159.38 229.99,158.89" fill="#80ffb4"/>
<polygon points="228.65,158.40 228.65,157.93 228.65,157.47 228.66,157.00 228.66,156.53 228.66,156.06 228.66,155.59 228.66,155.12 228.66,154.65 228.66,154.17 228.66,153.69 228.65,153.21 228.64,152.73 228.63,152.24 228.61,151.75 228.59,151.26 228.56,150.77 228.53,150.27 228.49,149.78 228.44,149.27 228.39,148.77 228.33,148.27 228.26,147.76 228.19,147.25 228.10,146.74 228.00,146.23 227.89,145.72 227.77,145.21 227.64,144.71 227.50,144.20 227.34,143.69 227.16,143.19 226.98,142.69 226.78,142.20 226.56,141.71 226.33,141.22 226.08,140.74 225.81,140.27 225.53,139.81 225.23,139.36 224.91,138.92 224.58,138.48 224.23,138.06 223.87,137.65 223.49,137.26 223.09,136.88 222.68,136.51 222.25,136.15 221.81,135.81 221.36,135.49 220.90,135.18 220.42,134.89 219.93,134.61 219.44,134.35 218.93,134.10 218.42,133.87 217.90,133.65 217.37,133.45 216.84,133.26 216.30,133.09 215.76,132.93 215.22,132.78 214.67,132.65 214.13,132.52 213.58,132.41 213.03,132.31 212.48,132.22 211.94,132.14 211.39,132.07 210.84,132.00 210.30,131.95 209.76,131.90 209.22,131.86 208.69,131.82 208.15,131.79 207.62,131.77 207.10,131.75 206.57,131.73 206.05,131.72 205.53,131.71 205.01,131.70 204.50,131.70 203.99,131.69 203.48,131.69 202.97,131.69 202.46,131.70 201.96,131.70 201.45,131.70 200.95,131.70 200.45,131.70 199.95,131.70 199.45,131.70 198.95,131.70 198.45,131.70 197.94,131.70 197.44,131.70 196.93,131.69 196.42,131.69 195.91,131.69 195.40,131.70 194.89,131.70 194.37,131.71 193.85,131.72 193.33,131.73 192.80,131.75 192.28,131.77 191.75,131.79 191.21,131.82 190.68,131.86 190.14,131.90 189.60,131.95 189.06,132.00 188.51,132.07 187.96,132.14 187.42,132.22 186.87,132.31 186.32,132.41 185.77,132.52 185.23,132.65 184.68,132.78 184.14,132.93 183.60,133.09 183.06,133.26 182.53,133.45 182.00,133.65 181.48,133.87 180.97,134.10 180.46,134.35 179.97,134.61 179.48,134.89 179.00,135.18 178.54,135.49 178.09,135.81 177.65,136.15 177.22,136.51 176.81,136.88 176.41,137.26 176.03,137.65 175.67,138.06 175.32,138.48 174.99,138.92 174.67,139.36 174.37,139.81 174.09,140.27 173.82,140.74 173.57,141.22 173.34,141.71 173.12,142.20 172.92,142.69 172.74,143.19 172.56,143.69 172.40,144.20 172.26,144.71 172.13,145.21 172.01,145.72 171.90,146.23 171.80,146.74 171.71,147.25 171.64,147.76 171.57,148.27 171.51,148.77 171.46,149.27 171.41,149.78 171.37,150.27 171.34,150.77 171.31,151.26 171.29,151.75 171.27,152.24 171.26,152.73 171.25,153.21 171.24,153.69 171.24,154.17 171.24,154.65 171.24,155.12 171.24,155.59 171.24,156.06 171.24,156.53 171.24,157.00 171.25,157.47 171.25,157.93 171.25,158.40 171.25,158.87 171.25,159.33 171.24,159.80 171.24,160.27 171.24,160.74 171.24,161.21 171.24,161.68 171.24,162.15 171.24,162.63 171.24,163.11 171.25,163.59 171.26,164.07 171.27,164.56 171.29,165.05 171.31,165.54 171.34,166.03 171.37,166.53 171.41,167.02 171.46,167.53 171.51,168.03 171.57,168.53 171.64,169.04 171.71,169.55 171.80,170.06 171.90,170.57 172.01,171.08 172.13,171.59 172.26,172.09 172.40,172.60 172.56,173.11 172.74,173.61 172.92,174.11 173.12,174.60 173.34,175.09 173.57,175.58 173.82,176.06 174.09,176.53 174.37,176.99 174.67,177.44 174.99,177.88 175.32,178.32 175.67,178.74 176.03,179.15 176.41,179.54 176.81,179.92 177.22,180.29 177.65,180.65 178.09,180.99 178.54,181.31 179.00,181.62 179.48,181.91 179.97,182.19 180.46,182.45 180.97,182.70 181.48,182.93 182.00,183.15 182.53,183.35 183.06,183.54 183.60,183.71 184.14,183.87 184.68,184.02 185.23,184.15 185.77,184.28 186.32,184.39 186.87,184.49 187.42,184.58 187.96,184.66 188.51,184.73 189.06,184.80 189.60,184.85 190.14,184.90 190.68,184.94 191.21,184.98 191.75,185.01 192.28,185.03 192.80,185.05 193.33,185.07 193.85,185.08 194.37,185.09 194.89,185.10 195.40,185.10 195.91,185.11 196.42,185.11 196.93,185.11 197.44,185.10 197.94,185.10 198.45,185.10 198.95,185.10 199.45,185.10 199.95,185.10 200.45,185.10 200.95,185.10 201.45,185.10 201.96,185.10 202.46,185.10 202.97,185.11 203.48,185.11 203.99,185.11 204.50,185.10 205.01,185.10 205.53,185.09 206.05,185.08 206.57,185.07 207.10,185.05 207.62,185.03 208.15,185.01 208.69,184.98 209.22,184.94 209.76,184.90 210.30,184.85 210.84,184.80 211.39,184.73 211.94,184.66 212.48,184.58 213.03,184.49 213.58,184.39 214.13,184.28 214.67,184.15 215.22,184.02 215.76,183.87 216.30,183.71 216.84,183.54 217.37,183.35 217.90,183.15 218.42,182.93 218.93,182.70 219.44,182.45 219.93,182.19 220.42,181.91 220.90,181.62 221.36,181.31 221.81,180.99 222.25,180.65 222.68,180.29 223.09,179.92 223.49,179.54 223.87,179.15 224.23,178.74 224.58,178.32 224.91,177.88 225.23,177.44 225.53,176.99 225.81,176.53 226.08,176.06 226.33,175.58 226.56,175.09 226.78,174.60 226.98,174.11 227.16,173.61 227.34,173.11 227.50,172.60 227.64,172.09 227.77,171.59 227.89,171.08 228.00,170.57 228.10,170.06 228.19,169.55 228.26,169.04 228.33,168.53 228.39,168.03 228.44,167.53 228.49,167.02 228.53,166.53 228.56,166.03 228.59,165.54 228.61,165.05 228.63,164.56 228.64,164.07 228.65,163.59 228.66,163.11 228.66,162.63 228.66,162.15 228.66,161.68 228.66,161.21 228.66,160.74 228.66,160.27 228.66,159.80 228.65,159.33 228.65,158.87" fill="#a2f9a0"/>
<polygon points="227.31,158.40 227.31,157.96 227.31,157.51 227.31,157.07 227.32,156.62 227.32,156.17 227.32,155.72 227.32,155.27 227.32,154.82 227.31,154.37 227.31,153.91 227.30,153.46 227.29,153.00 227.27,152.53 227.25,152.07 227.23,151.60 227.20,151.13 227.17,150.66 227.13,150.19 227.09,149.71 227.03,149.23 226.97,148.75 226.91,148.27 226.83,147.79 226.74,147.30 226.65,146.82 226.54,146.34 226.43,145.85 226.30,145.37 226.16,144.89 226.01,144.41 225.84,143.93 225.66,143.46 225.47,142.99 225.26,142.52 225.04,142.06 224.80,141.61 224.54,141.16 224.27,140.72 223.99,140.29 223.69,139.87 223.37,139.46 223.04,139.06 222.69,138.67 222.33,138.30 221.95,137.93 221.56,137.58 221.16,137.25 220.74,136.92 220.31,136.62 219.87,136.32 219.42,136.04 218.95,135.78 218.48,135.53 218.00,135.29 217.52,135.07 217.02,134.86 216.52,134.67 216.02,134.49 215.51,134.32 214.99,134.16 214.48,134.02 213.96,133.89 213.44,133.77 212.92,133.66 212.40,133.57 211.88,133.48 211.36,133.40 210.84,133.33 210.32,133.27 209.81,133.21 209.29,133.16 208.78,133.12 208.27,133.08 207.76,133.05 207.26,133.03 206.76,133.01 206.26,132.99 205.76,132.97 205.27,132.96 204.77,132.96 204.28,132.95 203.80,132.95 203.31,132.95 202.83,132.95 202.34,132.95 201.86,132.95 201.38,132.95 200.91,132.95 200.43,132.95 199.95,132.95 199.47,132.95 198.99,132.95 198.52,132.95 198.04,132.95 197.56,132.95 197.07,132.95 196.59,132.95 196.10,132.95 195.62,132.95 195.13,132.96 194.63,132.96 194.14,132.97 193.64,132.99 193.14,133.01 192.64,133.03 192.14,133.05 191.63,133.08 191.12,133.12 190.61,133.16 190.09,133.21 189.58,133.27 189.06,133.33 188.54,133.40 188.02,133.48 187.50,133.57 186.98,133.66 186.46,133.77 185.94,133.89 185.42,134.02 184.91,134.16 184.39,134.32 183.88,134.49 183.38,134.67 182.88,134.86 182.38,135.07 181.90,135.29 181.42,135.53 180.95,135.78 180.48,136.04 180.03,136.32 179.59,136.62 179.16,136.92 178.74,137.25 178.34,137.58 177.95,137.93 177.57,138.30 177.21,138.67 176.86,139.06 176.53,139.46 176.21,139.87 175.91,140.29 175.63,140.72 175.36,141.16 175.10,141.61 174.86,142.06 174.64,142.52 174.43,142.99 174.24,143.46 174.06,143.93 173.89,144.41 173.74,144.89 173.60,145.37 173.47,145.85 173.36,146.34 173.25,146.82 173.16,147.30 173.07,147.79 172.99,148.27 172.93,148.75 172.87,149.23 172.81,149.71 172.77,150.19 172.73,150.66 172.70,151.13 172.67,151.60 172.65,152.07 172.63,152.53 172.61,153.00 172.60,153.46 172.59,153.91 172.59,154.37 172.58,154.82 172.58,155.27 172.58,155.72 172.58,156.17 172.58,156.62 172.59,157.07 172.59,157.51 172.59,157.96 172.59,158.40 172.59,158.84 172.59,159.29 172.59,159.73 172.58,160.18 172.58,160.63 172.58,161.08 172.58,161.53 172.58,161.98 172.59,162.43 172.59,162.89 172.60,163.34 172.61,163.80 172.63,164.27 172.65,164.73 172.67,165.20 172.70,165.67 172.73,166.14 172.77,166.61 172.81,167.09 172.87,167.57 172.93,168.05 172.99,168.53 173.07,169.01 173.16,169.50 173.25,169.98 173.36,170.46 173.47,170.95 173.60,171.43 173.74,171.91 173.89,172.39 174.06,172.87 174.24,173.34 174.43,173.81 174.64,174.28 174.86,174.74 175.10,175.19 175.36,175.64 175.63,176.08 175.91,176.51 176.21,176.93 176.53,177.34 176.86,177.74 177.21,178.13 177.57,178.50 177.95,178.87 178.34,179.22 178.74,179.55 179.16,179.88 179.59,180.18 180.03,180.48 180.48,180.76 180.95,181.02 181.42,181.27 181.90,181.51 182.38,181.73 182.88,181.94 183.38,182.13 183.88,182.31 184.39,182.48 184.91,182.64 185.42,182.78 185.94,182.91 186.46,183.03 186.98,183.14 187.50,183.23 188.02,183.32 188.54,183.40 189.06,183.47 189.58,183.53 190.09,183.59 190.61,183.64 191.12,183.68 191.63,183.72 192.14,183.75 192.64,183.77 193.14,183.79 193.64,183.81 194.14,183.83 194.63,183.84 195.13,183.84 195.62,183.85 196.10,183.85 196.59,183.85 197.07,183.85 197.56,183.85 198.04,183.85 198.52,183.85 198.99,183.85 199.47,183.85 199.95,183.85 200.43,183.85 200.91,183.85 201.38,183.85 201.86,183.85 202.34,183.85 202.83,183.85 203.31,183.85 203.80,183.85 204.28,183.85 204.77,183.84 205.27,183.84 205.76,183.83 206.26,183.81 206.76,183.79 207.26,183.77 207.76,183.75 208.27,183.72 208.78,183.68 209.29,183.64 209.81,183.59 210.32,183.53 210.84,183.47 211.36,183.40 211.88,183.32 212.40,183.23 212.92,183.14 213.44,183.03 213.96,182.91 214.48,182.78 214.99,182.64 215.51,182.48 216.02,182.31 216.52,182.13 217.02,181.94 217.52,181.73 218.00,181.51 218.48,181.27 218.95,181.02 219.42,180.76 219.87,180.48 220.31,180.18 220.74,179.88 221.16,179.55 221.56,179.22 221.95,178.87 222.33,178.50 222.69,178.13 223.04,177.74 223.37,177.34 223.69,176.93 223.99,176.51 224.27,176.08 224.54,175.64 224.80,175.19 225.04,174.74 225.26,174.28 225.47,173.81 225.66,173.34 225.84,172.87 226.01,172.39 226.16,171.91 226.30,171.43 226.43,170.95 226.54,170.46 226.65,169.98 226.74,169.50 226.83,169.01 226.91,168.53 226.97,168.05 227.03,167.57 227.09,167.09 227.13,166.61 227.17,166.14 227.20,165.67 227.23,165.20 227.25,164.73 227.27,164.27 227.29,163.80 227.30,163.34 227.31,162.89 227.31,162.43 227.32,161.98 227.32,161.53 227.32,161.08 227.32,160.63 227.32,160.18 227.31,159.73 227.31,159.29 227.31,158.84" fill="#c3e98b"/>
<polygon points="226.24,158.40 226.24,157.97 226.24,157.55 226.24,157.12 226.24,156.69 226.23,156.26 226.23,155.83 226.22,155.40 226.21,154.97 226.20,154.53 226.19,154.10 226.17,153.66 226.15,153.22 226.13,152.78 226.10,152.33 226.07,151.89 226.04,151.44 225.99,150.99 225.94,150.54 225.89,150.09 225.83,149.64 225.76,149.18 225.68,148.73 225.60,148.27 225.51,147.82 225.41,147.36 225.29,146.90 225.17,146.45 225.04,145.99 224.90,145.54 224.74,145.09 224.57,144.64 224.39,144.19 224.20,143.75 223.99,143.32 223.78,142.88 223.54,142.46 223.30,142.04 223.03,141.63 222.76,141.22 222.47,140.82 222.17,140.44 221.85,140.06 221.52,139.69 221.17,139.34 220.81,138.99 220.44,138.66 220.06,138.34 219.67,138.03 219.26,137.74 218.85,137.45 218.42,137.19 217.99,136.93 217.54,136.69 217.09,136.46 216.63,136.24 216.17,136.04 215.70,135.84 215.22,135.67 214.74,135.50 214.26,135.34 213.78,135.20 213.29,135.06 212.80,134.94 212.31,134.83 211.82,134.72 211.33,134.63 210.84,134.54 210.35,134.46 209.86,134.39 209.37,134.33 208.88,134.27 208.40,134.22 207.91,134.18 207.43,134.14 206.95,134.10 206.47,134.07 205.99,134.05 205.52,134.03 205.05,134.01 204.58,133.99 204.11,133.98 203.64,133.97 203.18,133.96 202.71,133.96 202.25,133.95 201.79,133.95 201.33,133.95 200.87,133.95 200.41,133.95 199.95,133.95 199.49,133.95 199.03,133.95 198.57,133.95 198.11,133.95 197.65,133.95 197.19,133.96 196.72,133.96 196.26,133.97 195.79,133.98 195.32,133.99 194.85,134.01 194.38,134.03 193.91,134.05 193.43,134.07 192.95,134.10 192.47,134.14 191.99,134.18 191.50,134.22 191.02,134.27 190.53,134.33 190.04,134.39 189.55,134.46 189.06,134.54 188.57,134.63 188.08,134.72 187.59,134.83 187.10,134.94 186.61,135.06 186.12,135.20 185.64,135.34 185.16,135.50 184.68,135.67 184.20,135.84 183.73,136.04 183.27,136.24 182.81,136.46 182.36,136.69 181.91,136.93 181.48,137.19 181.05,137.45 180.64,137.74 180.23,138.03 179.84,138.34 179.46,138.66 179.09,138.99 178.73,139.34 178.38,139.69 178.05,140.06 177.73,140.44 177.43,140.82 177.14,141.22 176.87,141.63 176.60,142.04 176.36,142.46 176.12,142.88 175.91,143.32 175.70,143.75 175.51,144.19 175.33,144.64 175.16,145.09 175.00,145.54 174.86,145.99 174.73,146.45 174.61,146.90 174.49,147.36 174.39,147.82 174.30,148.27 174.22,148.73 174.14,149.18 174.07,149.64 174.01,150.09 173.96,150.54 173.91,150.99 173.86,151.44 173.83,151.89 173.80,152.33 173.77,152.78 173.75,153.22 173.73,153.66 173.71,154.10 173.70,154.53 173.69,154.97 173.68,155.40 173.67,155.83 173.67,156.26 173.66,156.69 173.66,157.12 173.66,157.55 173.66,157.97 173.66,158.40 173.66,158.83 173.66,159.25 173.66,159.68 173.66,160.11 173.67,160.54 173.67,160.97 173.68,161.40 173.69,161.83 173.70,162.27 173.71,162.70 173.73,163.14 173.75,163.58 173.77,164.02 173.80,164.47 173.83,164.91 173.86,165.36 173.91,165.81 173.96,166.26 174.01,166.71 174.07,167.16 174.14,167.62 174.22,168.07 174.30,168.53 174.39,168.98 174.49,169.44 174.61,169.90 174.73,170.35 174.86,170.81 175.00,171.26 175.16,171.71 175.33,172.16 175.51,172.61 175.70,173.05 175.91,173.48 176.12,173.92 176.36,174.34 176.60,174.76 176.87,175.17 177.14,175.58 177.43,175.98 177.73,176.36 178.05,176.74 178.38,177.11 178.73,177.46 179.09,177.81 179.46,178.14 179.84,178.46 180.23,178.77 180.64,179.06 181.05,179.35 181.48,179.61 181.91,179.87 182.36,180.11 182.81,180.34 183.27,180.56 183.73,180.76 184.20,180.96 184.68,181.13 185.16,181.30 185.64,181.46 186.12,181.60 186.61,181.74 187.10,181.86 187.59,181.97 188.08,182.08 188.57,182.17 189.06,182.26 189.55,182.34 190.04,182.41 190.53,182.47 191.02,182.53 191.50,182.58 191.99,182.62 192.47,182.66 192.95,182.70 193.43,182.73 193.91,182.75 194.38,182.77 194.85,182.79 195.32,182.81 195.79,182.82 196.26,182.83 196.72,182.84 197.19,182.84 197.65,182.85 198.11,182.85 198.57,182.85 199.03,182.85 199.49,182.85 199.95,182.85 200.41,182.85 200.87,182.85 201.33,182.85 201.79,182.85 202.25,182.85 202.71,182.84 203.18,182.84 203.64,182.83 204.11,182.82 204.58,182.81 205.05,182.79 205.52,182.77 205.99,182.75 206.47,182.73 206.95,182.70 207.43,182.66 207.91,182.62 208.40,182.58 208.88,182.53 209.37,182.47 209.86,182.41 210.35,182.34 210.84,182.26 211.33,182.17 211.82,182.08 212.31,181.97 212.80,181.86 213.29,181.74 213.78,181.60 214.26,181.46 214.74,181.30 215.22,181.13 215.70,180.96 216.17,180.76 216.63,180.56 217.09,180.34 217.54,180.11 217.99,179.87 218.42,179.61 218.85,179.35 219.26,179.06 219.67,178.77 220.06,178.46 220.44,178.14 220.81,177.81 221.17,177.46 221.52,177.11 221.85,176.74 222.17,176.36 222.47,175.98 222.76,175.58 223.03,175.17 223.30,174.76 223.54,174.34 223.78,173.92 223.99,173.48 224.20,173.05 224.39,172.61 224.57,172.16 224.74,171.71 224.90,171.26 225.04,170.81 225.17,170.35 225.29,169.90 225.41,169.44 225.51,168.98 225.60,168.53 225.68,168.07 225.76,167.62 225.83,167.16 225.89,166.71 225.94,166.26 225.99,165.81 226.04,165.36 226.07,164.91 226.10,164.47 226.13,164.02 226.15,163.58 226.17,163.14 226.19,162.70 226.20,162.27 226.21,161.83 226.22,161.40 226.23,160.97 226.23,160.54 226.24,160.11 226.24,159.68 226.24,159.25 226.24,158.83" fill="#e5ce74"/>
<polygon points="222.59,158.40 222.59,158.03 222.59,157.66 222.59,157.30 222.58,156.93 222.58,156.56 222.57,156.19 222.57,155.82 222.56,155.45 222.54,155.07 222.53,154.70 222.51,154.32 222.49,153.94 222.46,153.57 222.43,153.19 222.40,152.80 222.37,152.42 222.32,152.04 222.28,151.65 222.22,151.27 222.17,150.88 222.10,150.49 222.03,150.10 221.95,149.71 221.87,149.32 221.77,148.94 221.67,148.55 221.56,148.16 221.44,147.77 221.31,147.39 221.18,147.00 221.03,146.62 220.87,146.24 220.70,145.87 220.52,145.50 220.33,145.13 220.13,144.77 219.91,144.41 219.69,144.06 219.45,143.71 219.20,143.38 218.94,143.05 218.66,142.73 218.38,142.41 218.09,142.11 217.78,141.82 217.46,141.53 217.14,141.26 216.80,140.99 216.46,140.74 216.10,140.50 215.74,140.27 215.37,140.04 214.99,139.83 214.61,139.63 214.22,139.45 213.82,139.27 213.43,139.10 213.02,138.94 212.61,138.80 212.20,138.66 211.79,138.53 211.38,138.41 210.96,138.30 210.54,138.20 210.13,138.10 209.71,138.02 209.29,137.94 208.87,137.86 208.45,137.80 208.04,137.74 207.62,137.68 207.20,137.63 206.79,137.59 206.38,137.55 205.97,137.52 205.56,137.49 205.15,137.46 204.74,137.44 204.34,137.42 203.93,137.40 203.53,137.39 203.13,137.37 202.73,137.37 202.33,137.36 201.93,137.35 201.53,137.35 201.14,137.35 200.74,137.34 200.35,137.34 199.95,137.34 199.55,137.34 199.16,137.34 198.76,137.35 198.37,137.35 197.97,137.35 197.57,137.36 197.17,137.37 196.77,137.37 196.37,137.39 195.97,137.40 195.56,137.42 195.16,137.44 194.75,137.46 194.34,137.49 193.93,137.52 193.52,137.55 193.11,137.59 192.70,137.63 192.28,137.68 191.86,137.74 191.45,137.80 191.03,137.86 190.61,137.94 190.19,138.02 189.77,138.10 189.36,138.20 188.94,138.30 188.52,138.41 188.11,138.53 187.70,138.66 187.29,138.80 186.88,138.94 186.47,139.10 186.08,139.27 185.68,139.45 185.29,139.63 184.91,139.83 184.53,140.04 184.16,140.27 183.80,140.50 183.44,140.74 183.10,140.99 182.76,141.26 182.44,141.53 182.12,141.82 181.81,142.11 181.52,142.41 181.24,142.73 180.96,143.05 180.70,143.38 180.45,143.71 180.21,144.06 179.99,144.41 179.77,144.77 179.57,145.13 179.38,145.50 179.20,145.87 179.03,146.24 178.87,146.62 178.72,147.00 178.59,147.39 178.46,147.77 178.34,148.16 178.23,148.55 178.13,148.94 178.03,149.32 177.95,149.71 177.87,150.10 177.80,150.49 177.73,150.88 177.68,151.27 177.62,151.65 177.58,152.04 177.53,152.42 177.50,152.80 177.47,153.19 177.44,153.57 177.41,153.94 177.39,154.32 177.37,154.70 177.36,155.07 177.34,155.45 177.33,155.82 177.33,156.19 177.32,156.56 177.32,156.93 177.31,157.30 177.31,157.66 177.31,158.03 177.31,158.40 177.31,158.77 177.31,159.14 177.31,159.50 177.32,159.87 177.32,160.24 177.33,160.61 177.33,160.98 177.34,161.35 177.36,161.73 177.37,162.10 177.39,162.48 177.41,162.86 177.44,163.23 177.47,163.61 177.50,164.00 177.53,164.38 177.58,164.76 177.62,165.15 177.68,165.53 177.73,165.92 177.80,166.31 177.87,166.70 177.95,167.09 178.03,167.48 178.13,167.86 178.23,168.25 178.34,168.64 178.46,169.03 178.59,169.41 178.72,169.80 178.87,170.18 179.03,170.56 179.20,170.93 179.38,171.30 179.57,171.67 179.77,172.03 179.99,172.39 180.21,172.74 180.45,173.09 180.70,173.42 180.96,173.75 181.24,174.07 181.52,174.39 181.81,174.69 182.12,174.98 182.44,175.27 182.76,175.54 183.10,175.81 183.44,176.06 183.80,176.30 184.16,176.53 184.53,176.76 184.91,176.97 185.29,177.17 185.68,177.35 186.08,177.53 186.47,177.70 186.88,177.86 187.29,178.00 187.70,178.14 188.11,178.27 188.52,178.39 188.94,178.50 189.36,178.60 189.77,178.70 190.19,178.78 190.61,178.86 191.03,178.94 191.45,179.00 191.86,179.06 192.28,179.12 192.70,179.17 193.11,179.21 193.52,179.25 193.93,179.28 194.34,179.31 194.75,179.34 195.16,179.36 195.56,179.38 195.97,179.40 196.37,179.41 196.77,179.43 197.17,179.43 197.57,179.44 197.97,179.45 198.37,179.45 198.76,179.45 199.16,179.46 199.55,179.46 199.95,179.46 200.35,179.46 200.74,179.46 201.14,179.45 201.53,179.45 201.93,179.45 202.33,179.44 202.73,179.43 203.13,179.43 203.53,179.41 203.93,179.40 204.34,179.38 204.74,179.36 205.15,179.34 205.56,179.31 205.97,179.28 206.38,179.25 206.79,179.21 207.20,179.17 207.62,179.12 208.04,179.06 208.45,179.00 208.87,178.94 209.29,178.86 209.71,178.78 210.13,178.70 210.54,178.60 210.96,178.50 211.38,178.39 211.79,178.27 212.20,178.14 212.61,178.00 213.02,177.86 213.43,177.70 213.82,177.53 214.22,177.35 214.61,177.17 214.99,176.97 215.37,176.76 215.74,176.53 216.10,176.30 216.46,176.06 216.80,175.81 217.14,175.54 217.46,175.27 217.78,174.98 218.09,174.69 218.38,174.39 218.66,174.07 218.94,173.75 219.20,173.42 219.45,173.09 219.69,172.74 219.91,172.39 220.13,172.03 220.33,171.67 220.52,171.30 220.70,170.93 220.87,170.56 221.03,170.18 221.18,169.80 221.31,169.41 221.44,169.03 221.56,168.64 221.67,168.25 221.77,167.86 221.87,167.48 221.95,167.09 222.03,166.70 222.10,166.31 222.17,165.92 222.22,165.53 222.28,165.15 222.32,164.76 222.37,164.38 222.40,164.00 222.43,163.61 222.46,163.23 222.49,162.86 222.51,162.48 222.53,162.10 222.54,161.73 222.56,161.35 222.57,160.98 222.57,160.61 222.58,160.24 222.58,159.87 222.59,159.50 222.59,159.14 222.59,158.77" fill="#ffab5b"/>
<polygon points="218.30,158.40 218.30,158.10 218.29,157.80 218.29,157.51 218.28,157.21 218.27,156.91 218.26,156.61 218.25,156.31 218.23,156.01 218.21,155.71 218.18,155.41 218.16,155.11 218.13,154.81 218.09,154.50 218.05,154.20 218.01,153.90 217.97,153.59 217.92,153.29 217.86,152.99 217.80,152.68 217.74,152.38 217.67,152.07 217.60,151.77 217.52,151.46 217.43,151.16 217.34,150.86 217.24,150.56 217.14,150.25 217.03,149.95 216.91,149.66 216.78,149.36 216.65,149.07 216.51,148.77 216.37,148.48 216.21,148.20 216.05,147.92 215.88,147.64 215.70,147.36 215.51,147.09 215.32,146.82 215.12,146.56 214.91,146.31 214.69,146.06 214.46,145.81 214.23,145.58 213.99,145.34 213.74,145.12 213.48,144.90 213.22,144.69 212.95,144.49 212.68,144.29 212.40,144.10 212.11,143.92 211.82,143.75 211.52,143.58 211.22,143.43 210.92,143.28 210.61,143.13 210.30,142.99 209.99,142.86 209.67,142.74 209.35,142.63 209.03,142.52 208.71,142.41 208.38,142.32 208.06,142.23 207.73,142.14 207.41,142.06 207.08,141.99 206.75,141.92 206.43,141.85 206.10,141.79 205.77,141.74 205.44,141.69 205.12,141.64 204.79,141.60 204.46,141.56 204.14,141.53 203.81,141.49 203.49,141.47 203.17,141.44 202.84,141.42 202.52,141.40 202.20,141.38 201.87,141.37 201.55,141.36 201.23,141.35 200.91,141.34 200.59,141.34 200.27,141.34 199.95,141.33 199.63,141.34 199.31,141.34 198.99,141.34 198.67,141.35 198.35,141.36 198.03,141.37 197.70,141.38 197.38,141.40 197.06,141.42 196.73,141.44 196.41,141.47 196.09,141.49 195.76,141.53 195.44,141.56 195.11,141.60 194.78,141.64 194.46,141.69 194.13,141.74 193.80,141.79 193.47,141.85 193.15,141.92 192.82,141.99 192.49,142.06 192.17,142.14 191.84,142.23 191.52,142.32 191.19,142.41 190.87,142.52 190.55,142.63 190.23,142.74 189.91,142.86 189.60,142.99 189.29,143.13 188.98,143.28 188.68,143.43 188.38,143.58 188.08,143.75 187.79,143.92 187.50,144.10 187.22,144.29 186.95,144.49 186.68,144.69 186.42,144.90 186.16,145.12 185.91,145.34 185.67,145.58 185.44,145.81 185.21,146.06 184.99,146.31 184.78,146.56 184.58,146.82 184.39,147.09 184.20,147.36 184.02,147.64 183.85,147.92 183.69,148.20 183.53,148.48 183.39,148.77 183.25,149.07 183.12,149.36 182.99,149.66 182.87,149.95 182.76,150.25 182.66,150.56 182.56,150.86 182.47,151.16 182.38,151.46 182.30,151.77 182.23,152.07 182.16,152.38 182.10,152.68 182.04,152.99 181.98,153.29 181.93,153.59 181.89,153.90 181.85,154.20 181.81,154.50 181.77,154.81 181.74,155.11 181.72,155.41 181.69,155.71 181.67,156.01 181.65,156.31 181.64,156.61 181.63,156.91 181.62,157.21 181.61,157.51 181.61,157.80 181.60,158.10 181.60,158.40 181.60,158.70 181.61,159.00 181.61,159.29 181.62,159.59 181.63,159.89 181.64,160.19 181.65,160.49 181.67,160.79 181.69,161.09 181.72,161.39 181.74,161.69 181.77,161.99 181.81,162.30 181.85,162.60 181.89,162.90 181.93,163.21 181.98,163.51 182.04,163.81 182.10,164.12 182.16,164.42 182.23,164.73 182.30,165.03 182.38,165.34 182.47,165.64 182.56,165.94 182.66,166.24 182.76,166.55 182.87,166.85 182.99,167.14 183.12,167.44 183.25,167.73 183.39,168.03 183.53,168.32 183.69,168.60 183.85,168.88 184.02,169.16 184.20,169.44 184.39,169.71 184.58,169.98 184.78,170.24 184.99,170.49 185.21,170.74 185.44,170.99 185.67,171.22 185.91,171.46 186.16,171.68 186.42,171.90 186.68,172.11 186.95,172.31 187.22,172.51 187.50,172.70 187.79,172.88 188.08,173.05 188.38,173.22 188.68,173.37 188.98,173.52 189.29,173.67 189.60,173.81 189.91,173.94 190.23,174.06 190.55,174.17 190.87,174.28 191.19,174.39 191.52,174.48 191.84,174.57 192.17,174.66 192.49,174.74 192.82,174.81 193.15,174.88 193.47,174.95 193.80,175.01 194.13,175.06 194.46,175.11 194.78,175.16 195.11,175.20 195.44,175.24 195.76,175.27 196.09,175.31 196.41,175.33 196.73,175.36 197.06,175.38 197.38,175.40 197.70,175.42 198.03,175.43 198.35,175.44 198.67,175.45 198.99,175.46 199.31,175.46 199.63,175.46 199.95,175.47 200.27,175.46 200.59,175.46 200.91,175.46 201.23,175.45 201.55,175.44 201.87,175.43 202.20,175.42 202.52,175.40 202.84,175.38 203.17,175.36 203.49,175.33 203.81,175.31 204.14,175.27 204.46,175.24 204.79,175.20 205.12,175.16 205.44,175.11 205.77,175.06 206.10,175.01 206.43,174.95 206.75,174.88 207.08,174.81 207.41,174.74 207.73,174.66 208.06,174.57 208.38,174.48 208.71,174.39 209.03,174.28 209.35,174.17 209.67,174.06 209.99,173.94 210.30,173.81 210.61,173.67 210.92,173.52 211.22,173.37 211.52,173.22 211.82,173.05 212.11,172.88 212.40,172.70 212.68,172.51 212.95,172.31 213.22,172.11 213.48,171.90 213.74,171.68 213.99,171.46 214.23,171.22 214.46,170.99 214.69,170.74 214.91,170.49 215.12,170.24 215.32,169.98 215.51,169.71 215.70,169.44 215.88,169.16 216.05,168.88 216.21,168.60 216.37,168.32 216.51,168.03 216.65,167.73 216.78,167.44 216.91,167.14 217.03,166.85 217.14,166.55 217.24,166.24 217.34,165.94 217.43,165.64 217.52,165.34 217.60,165.03 217.67,164.73 217.74,164.42 217.80,164.12 217.86,163.81 217.92,163.51 217.97,163.21 218.01,162.90 218.05,162.60 218.09,162.30 218.13,161.99 218.16,161.69 218.18,161.39 218.21,161.09 218.23,160.79 218.25,160.49 218.26,160.19 218.27,159.89 218.28,159.59 218.29,159.29 218.29,159.00 218.30,158.70" fill="#ff7f42"/>
<polygon points="213.90,158.40 213.90,158.17 213.89,157.95 213.88,157.72 213.87,157.49 213.86,157.27 213.84,157.04 213.82,156.82 213.79,156.59 213.77,156.36 213.73,156.14 213.70,155.91 213.66,155.69 213.62,155.47 213.57,155.24 213.52,155.02 213.47,154.79 213.41,154.57 213.35,154.35 213.28,154.13 213.21,153.91 213.14,153.69 213.06,153.47 212.98,153.25 212.90,153.04 212.81,152.82 212.72,152.61 212.62,152.40 212.52,152.19 212.41,151.98 212.30,151.77 212.19,151.56 212.07,151.36 211.94,151.16 211.81,150.96 211.68,150.76 211.54,150.56 211.40,150.37 211.26,150.18 211.11,150.00 210.95,149.81 210.79,149.63 210.63,149.45 210.46,149.28 210.29,149.11 210.12,148.94 209.94,148.78 209.75,148.62 209.57,148.47 209.38,148.31 209.18,148.17 208.99,148.02 208.78,147.88 208.58,147.75 208.37,147.62 208.16,147.49 207.95,147.36 207.74,147.25 207.52,147.13 207.30,147.02 207.08,146.91 206.86,146.81 206.63,146.71 206.40,146.62 206.18,146.53 205.95,146.44 205.72,146.36 205.48,146.28 205.25,146.20 205.01,146.13 204.78,146.06 204.54,146.00 204.30,145.94 204.07,145.88 203.83,145.83 203.59,145.78 203.35,145.73 203.11,145.69 202.86,145.65 202.62,145.61 202.38,145.58 202.14,145.55 201.90,145.52 201.65,145.50 201.41,145.48 201.17,145.46 200.92,145.45 200.68,145.44 200.44,145.43 200.19,145.43 199.95,145.43 199.71,145.43 199.46,145.43 199.22,145.44 198.98,145.45 198.73,145.46 198.49,145.48 198.25,145.50 198.00,145.52 197.76,145.55 197.52,145.58 197.28,145.61 197.04,145.65 196.79,145.69 196.55,145.73 196.31,145.78 196.07,145.83 195.83,145.88 195.60,145.94 195.36,146.00 195.12,146.06 194.89,146.13 194.65,146.20 194.42,146.28 194.18,146.36 193.95,146.44 193.72,146.53 193.50,146.62 193.27,146.71 193.04,146.81 192.82,146.91 192.60,147.02 192.38,147.13 192.16,147.25 191.95,147.36 191.74,147.49 191.53,147.62 191.32,147.75 191.12,147.88 190.91,148.02 190.72,148.17 190.52,148.31 190.33,148.47 190.15,148.62 189.96,148.78 189.78,148.94 189.61,149.11 189.44,149.28 189.27,149.45 189.11,149.63 188.95,149.81 188.79,150.00 188.64,150.18 188.50,150.37 188.36,150.56 188.22,150.76 188.09,150.96 187.96,151.16 187.83,151.36 187.71,151.56 187.60,151.77 187.49,151.98 187.38,152.19 187.28,152.40 187.18,152.61 187.09,152.82 187.00,153.04 186.92,153.25 186.84,153.47 186.76,153.69 186.69,153.91 186.62,154.13 186.55,154.35 186.49,154.57 186.43,154.79 186.38,155.02 186.33,155.24 186.28,155.47 186.24,155.69 186.20,155.91 186.17,156.14 186.13,156.36 186.11,156.59 186.08,156.82 186.06,157.04 186.04,157.27 186.03,157.49 186.02,157.72 186.01,157.95 186.00,158.17 186.00,158.40 186.00,158.63 186.01,158.85 186.02,159.08 186.03,159.31 186.04,159.53 186.06,159.76 186.08,159.98 186.11,160.21 186.13,160.44 186.17,160.66 186.20,160.89 186.24,161.11 186.28,161.33 186.33,161.56 186.38,161.78 186.43,162.01 186.49,162.23 186.55,162.45 186.62,162.67 186.69,162.89 186.76,163.11 186.84,163.33 186.92,163.55 187.00,163.76 187.09,163.98 187.18,164.19 187.28,164.40 187.38,164.61 187.49,164.82 187.60,165.03 187.71,165.24 187.83,165.44 187.96,165.64 188.09,165.84 188.22,166.04 188.36,166.24 188.50,166.43 188.64,166.62 188.79,166.80 188.95,166.99 189.11,167.17 189.27,167.35 189.44,167.52 189.61,167.69 189.78,167.86 189.96,168.02 190.15,168.18 190.33,168.33 190.52,168.49 190.72,168.63 190.91,168.78 191.12,168.92 191.32,169.05 191.53,169.18 191.74,169.31 191.95,169.44 192.16,169.55 192.38,169.67 192.60,169.78 192.82,169.89 193.04,169.99 193.27,170.09 193.50,170.18 193.72,170.27 193.95,170.36 194.18,170.44 194.42,170.52 194.65,170.60 194.89,170.67 195.12,170.74 195.36,170.80 195.60,170.86 195.83,170.92 196.07,170.97 196.31,171.02 196.55,171.07 196.79,171.11 197.04,171.15 197.28,171.19 197.52,171.22 197.76,171.25 198.00,171.28 198.25,171.30 198.49,171.32 198.73,171.34 198.98,171.35 199.22,171.36 199.46,171.37 199.71,171.37 199.95,171.37 200.19,171.37 200.44,171.37 200.68,171.36 200.92,171.35 201.17,171.34 201.41,171.32 201.65,171.30 201.90,171.28 202.14,171.25 202.38,171.22 202.62,171.19 202.86,171.15 203.11,171.11 203.35,171.07 203.59,171.02 203.83,170.97 204.07,170.92 204.30,170.86 204.54,170.80 204.78,170.74 205.01,170.67 205.25,170.60 205.48,170.52 205.72,170.44 205.95,170.36 206.18,170.27 206.40,170.18 206.63,170.09 206.86,169.99 207.08,169.89 207.30,169.78 207.52,169.67 207.74,169.55 207.95,169.44 208.16,169.31 208.37,169.18 208.58,169.05 208.78,168.92 208.99,168.78 209.18,168.63 209.38,168.49 209.57,168.33 209.75,168.18 209.94,168.02 210.12,167.86 210.29,167.69 210.46,167.52 210.63,167.35 210.79,167.17 210.95,166.99 211.11,166.80 211.26,166.62 211.40,166.43 211.54,166.24 211.68,166.04 211.81,165.84 211.94,165.64 212.07,165.44 212.19,165.24 212.30,165.03 212.41,164.82 212.52,164.61 212.62,164.40 212.72,164.19 212.81,163.98 212.90,163.76 212.98,163.55 213.06,163.33 213.14,163.11 213.21,162.89 213.28,162.67 213.35,162.45 213.41,162.23 213.47,162.01 213.52,161.78 213.57,161.56 213.62,161.33 213.66,161.11 213.70,160.89 213.73,160.66 213.77,160.44 213.79,160.21 213.82,159.98 213.84,159.76 213.86,159.53 213.87,159.31 213.88,159.08 213.89,158.85 213.90,158.63" fill="#ff4f28"/>
<polygon points="202.85,158.40 202.85,158.35 202.85,158.31 202.84,158.26 202.84,158.21 202.84,158.16 202.84,158.12 202.83,158.07 202.83,158.02 202.82,157.98 202.81,157.93 202.81,157.88 202.80,157.84 202.79,157.79 202.78,157.74 202.77,157.70 202.76,157.65 202.75,157.60 202.74,157.56 202.73,157.51 202.71,157.47 202.70,157.42 202.68,157.37 202.67,157.33 202.65,157.28 202.63,157.24 202.61,157.19 202.59,157.15 202.57,157.10 202.55,157.06 202.53,157.02 202.50,156.97 202.48,156.93 202.45,156.89 202.43,156.85 202.40,156.80 202.37,156.76 202.34,156.72 202.31,156.68 202.28,156.64 202.25,156.61 202.22,156.57 202.18,156.53 202.15,156.49 202.11,156.46 202.07,156.42 202.04,156.39 202.00,156.36 201.96,156.32 201.92,156.29 201.88,156.26 201.84,156.23 201.80,156.20 201.75,156.18 201.71,156.15 201.67,156.12 201.62,156.10 201.58,156.07 201.53,156.05 201.48,156.03 201.44,156.00 201.39,155.98 201.34,155.96 201.30,155.94 201.25,155.92 201.20,155.91 201.15,155.89 201.10,155.87 201.05,155.86 201.00,155.85 200.96,155.83 200.91,155.82 200.86,155.81 200.81,155.80 200.76,155.78 200.71,155.77 200.66,155.77 200.61,155.76 200.56,155.75 200.51,155.74 200.46,155.74 200.40,155.73 200.35,155.72 200.30,155.72 200.25,155.72 200.20,155.71 200.15,155.71 200.10,155.71 200.05,155.71 200.00,155.71 199.95,155.71 199.90,155.71 199.85,155.71 199.80,155.71 199.75,155.71 199.70,155.71 199.65,155.72 199.60,155.72 199.55,155.72 199.50,155.73 199.44,155.74 199.39,155.74 199.34,155.75 199.29,155.76 199.24,155.77 199.19,155.77 199.14,155.78 199.09,155.80 199.04,155.81 198.99,155.82 198.94,155.83 198.90,155.85 198.85,155.86 198.80,155.87 198.75,155.89 198.70,155.91 198.65,155.92 198.60,155.94 198.56,155.96 198.51,155.98 198.46,156.00 198.42,156.03 198.37,156.05 198.32,156.07 198.28,156.10 198.23,156.12 198.19,156.15 198.15,156.18 198.10,156.20 198.06,156.23 198.02,156.26 197.98,156.29 197.94,156.32 197.90,156.36 197.86,156.39 197.83,156.42 197.79,156.46 197.75,156.49 197.72,156.53 197.68,156.57 197.65,156.61 197.62,156.64 197.59,156.68 197.56,156.72 197.53,156.76 197.50,156.80 197.47,156.85 197.45,156.89 197.42,156.93 197.40,156.97 197.37,157.02 197.35,157.06 197.33,157.10 197.31,157.15 197.29,157.19 197.27,157.24 197.25,157.28 197.23,157.33 197.22,157.37 197.20,157.42 197.19,157.47 197.17,157.51 197.16,157.56 197.15,157.60 197.14,157.65 197.13,157.70 197.12,157.74 197.11,157.79 197.10,157.84 197.09,157.88 197.09,157.93 197.08,157.98 197.07,158.02 197.07,158.07 197.06,158.12 197.06,158.16 197.06,158.21 197.06,158.26 197.05,158.31 197.05,158.35 197.05,158.40 197.05,158.45 197.05,158.49 197.06,158.54 197.06,158.59 197.06,158.64 197.06,158.68 197.07,158.73 197.07,158.78 197.08,158.82 197.09,158.87 197.09,158.92 197.10,158.96 197.11,159.01 197.12,159.06 197.13,159.10 197.14,159.15 197.15,159.20 197.16,159.24 197.17,159.29 197.19,159.33 197.20,159.38 197.22,159.43 197.23,159.47 197.25,159.52 197.27,159.56 197.29,159.61 197.31,159.65 197.33,159.70 197.35,159.74 197.37,159.78 197.40,159.83 197.42,159.87 197.45,159.91 197.47,159.95 197.50,160.00 197.53,160.04 197.56,160.08 197.59,160.12 197.62,160.16 197.65,160.19 197.68,160.23 197.72,160.27 197.75,160.31 197.79,160.34 197.83,160.38 197.86,160.41 197.90,160.44 197.94,160.48 197.98,160.51 198.02,160.54 198.06,160.57 198.10,160.60 198.15,160.62 198.19,160.65 198.23,160.68 198.28,160.70 198.32,160.73 198.37,160.75 198.42,160.77 198.46,160.80 198.51,160.82 198.56,160.84 198.60,160.86 198.65,160.88 198.70,160.89 198.75,160.91 198.80,160.93 198.85,160.94 198.90,160.95 198.94,160.97 198.99,160.98 199.04,160.99 199.09,161.00 199.14,161.02 199.19,161.03 199.24,161.03 199.29,161.04 199.34,161.05 199.39,161.06 199.44,161.06 199.50,161.07 199.55,161.08 199.60,161.08 199.65,161.08 199.70,161.09 199.75,161.09 199.80,161.09 199.85,161.09 199.90,161.09 199.95,161.09 200.00,161.09 200.05,161.09 200.10,161.09 200.15,161.09 200.20,161.09 200.25,161.08 200.30,161.08 200.35,161.08 200.40,161.07 200.46,161.06 200.51,161.06 200.56,161.05 200.61,161.04 200.66,161.03 200.71,161.03 200.76,161.02 200.81,161.00 200.86,160.99 200.91,160.98 200.96,160.97 201.00,160.95 201.05,160.94 201.10,160.93 201.15,160.91 201.20,160.89 201.25,160.88 201.30,160.86 201.34,160.84 201.39,160.82 201.44,160.80 201.48,160.77 201.53,160.75 201.58,160.73 201.62,160.70 201.67,160.68 201.71,160.65 201.75,160.62 201.80,160.60 201.84,160.57 201.88,160.54 201.92,160.51 201.96,160.48 202.00,160.44 202.04,160.41 202.07,160.38 202.11,160.34 202.15,160.31 202.18,160.27 202.22,160.23 202.25,160.19 202.28,160.16 202.31,160.12 202.34,160.08 202.37,160.04 202.40,160.00 202.43,159.95 202.45,159.91 202.48,159.87 202.50,159.83 202.53,159.78 202.55,159.74 202.57,159.70 202.59,159.65 202.61,159.61 202.63,159.56 202.65,159.52 202.67,159.47 202.68,159.43 202.70,159.38 202.71,159.33 202.73,159.29 202.74,159.24 202.75,159.20 202.76,159.15 202.77,159.10 202.78,159.06 202.79,159.01 202.80,158.96 202.81,158.92 202.81,158.87 202.82,158.82 202.83,158.78 202.83,158.73 202.84,158.68 202.84,158.64 202.84,158.59 202.84,158.54 202.85,158.49 202.85,158.45" fill="#ff1b0d"/>
<rect x="146.3" y="108.5" width="107.30" height="99.80" fill="none" stroke="#777" stroke-width="0.6"/>
<line x1="146.30" y1="208.3" x2="146.30" y2="209.60000000000002" stroke="#555" stroke-width="0.5"/>
<line x1="145.0" y1="208.30" x2="146.3" y2="208.30" stroke="#555" stroke-width="0.5"/>
<text x="146.30" y="214.30" text-anchor="middle" font-size="4.4" fill="#333">0</text>
<text x="144.10" y="209.80" text-anchor="end" font-size="4.4" fill="#333">0</text>
<line x1="159.71" y1="208.3" x2="159.71" y2="209.60000000000002" stroke="#555" stroke-width="0.5"/>
<line x1="145.0" y1="195.83" x2="146.3" y2="195.83" stroke="#555" stroke-width="0.5"/>
<text x="159.71" y="214.30" text-anchor="middle" font-size="4.4" fill="#333">100</text>
<text x="144.10" y="197.33" text-anchor="end" font-size="4.4" fill="#333">100</text>
<line x1="173.12" y1="208.3" x2="173.12" y2="209.60000000000002" stroke="#555" stroke-width="0.5"/>
<line x1="145.0" y1="183.35" x2="146.3" y2="183.35" stroke="#555" stroke-width="0.5"/>
<text x="173.12" y="214.30" text-anchor="middle" font-size="4.4" fill="#333">200</text>
<text x="144.10" y="184.85" text-anchor="end" font-size="4.4" fill="#333">200</text>
<line x1="186.54" y1="208.3" x2="186.54" y2="209.60000000000002" stroke="#555" stroke-width="0.5"/>
<line x1="145.0" y1="170.88" x2="146.3" y2="170.88" stroke="#555" stroke-width="0.5"/>
<text x="186.54" y="214.30" text-anchor="middle" font-size="4.4" fill="#333">300</text>
<text x="144.10" y="172.38" text-anchor="end" font-size="4.4" fill="#333">300</text>
<line x1="199.95" y1="208.3" x2="199.95" y2="209.60000000000002" stroke="#555" stroke-width="0.5"/>
<line x1="145.0" y1="158.40" x2="146.3" y2="158.40" stroke="#555" stroke-width="0.5"/>
<text x="199.95" y="214.30" text-anchor="middle" font-size="4.4" fill="#333">400</text>
<text x="144.10" y="159.90" text-anchor="end" font-size="4.4" fill="#333">400</text>
<line x1="213.36" y1="208.3" x2="213.36" y2="209.60000000000002" stroke="#555" stroke-width="0.5"/>
<line x1="145.0" y1="145.93" x2="146.3" y2="145.93" stroke="#555" stroke-width="0.5"/>
<text x="213.36" y="214.30" text-anchor="middle" font-size="4.4" fill="#333">500</text>
<text x="144.10" y="147.43" text-anchor="end" font-size="4.4" fill="#333">500</text>
<line x1="226.77" y1="208.3" x2="226.77" y2="209.60000000000002" stroke="#555" stroke-width="0.5"/>
<line x1="145.0" y1="133.45" x2="146.3" y2="133.45" stroke="#555" stroke-width="0.5"/>
<text x="226.77" y="214.30" text-anchor="middle" font-size="4.4" fill="#333">600</text>
<text x="144.10" y="134.95" text-anchor="end" font-size="4.4" fill="#333">600</text>
<line x1="240.19" y1="208.3" x2="240.19" y2="209.60000000000002" stroke="#555" stroke-width="0.5"/>
<line x1="145.0" y1="120.98" x2="146.3" y2="120.98" stroke="#555" stroke-width="0.5"/>
<text x="240.19" y="214.30" text-anchor="middle" font-size="4.4" fill="#333">700</text>
<text x="144.10" y="122.48" text-anchor="end" font-size="4.4" fill="#333">700</text>
<line x1="253.60" y1="208.3" x2="253.60" y2="209.60000000000002" stroke="#555" stroke-width="0.5"/>
<line x1="145.0" y1="108.50" x2="146.3" y2="108.50" stroke="#555" stroke-width="0.5"/>
<text x="253.60" y="214.30" text-anchor="middle" font-size="4.4" fill="#333">800</text>
<text x="144.10" y="110.00" text-anchor="end" font-size="4.4" fill="#333">800</text>
<path d="M174.91 179.96L176.71 181.76M174.91 181.76L176.71 179.96M174.91 168.73L176.71 170.53M174.91 170.53L176.71 168.73M174.91 157.50L176.71 159.30M174.91 159.30L176.71 157.50M174.91 146.27L176.71 148.07M174.91 148.07L176.71 146.27M174.91 135.04L176.71 136.84M174.91 136.84L176.71 135.04M186.98 179.96L188.78 181.76M186.98 181.76L188.78 179.96M186.98 168.73L188.78 170.53M186.98 170.53L188.78 168.73M186.98 157.50L188.78 159.30M186.98 159.30L188.78 157.50M186.98 146.27L188.78 148.07M186.98 148.07L188.78 146.27M186.98 135.04L188.78 136.84M186.98 136.84L188.78 135.04M199.05 179.96L200.85 181.76M199.05 181.76L200.85 179.96M199.05 168.73L200.85 170.53M199.05 170.53L200.85 168.73M199.05 157.50L200.85 159.30M199.05 159.30L200.85 157.50M199.05 146.27L200.85 148.07M199.05 148.07L200.85 146.27M199.05 135.04L200.85 136.84M199.05 136.84L200.85 135.04M211.12 179.96L212.92 181.76M211.12 181.76L212.92 179.96M211.12 168.73L212.92 170.53M211.12 170.53L212.92 168.73M211.12 157.50L212.92 159.30M211.12 159.30L212.92 157.50M211.12 146.27L212.92 148.07M211.12 148.07L212.92 146.27M211.12 135.04L212.92 136.84M211.12 136.84L212.92 135.04M223.19 179.96L224.99 181.76M223.19 181.76L224.99 179.96M223.19 168.73L224.99 170.53M223.19 170.53L224.99 168.73M223.19 157.50L224.99 159.30M223.19 159.30L224.99 157.50M223.19 146.27L224.99 148.07M223.19 148.07L224.99 146.27M223.19 135.04L224.99 136.84M223.19 136.84L224.99 135.04" stroke="#222" stroke-width="0.85" fill="none"/>
<rect x="260.3" y="108.70" width="5.00" height="99.50" fill="#ff1b0d"/>
<rect x="260.3" y="115.33" width="5.00" height="92.87" fill="#ff4f28"/>
<rect x="260.3" y="121.97" width="5.00" height="86.23" fill="#ff7f42"/>
<rect x="260.3" y="128.60" width="5.00" height="79.60" fill="#ffab5b"/>
<rect x="260.3" y="135.23" width="5.00" height="72.97" fill="#e5ce74"/>
<rect x="260.3" y="141.87" width="5.00" height="66.33" fill="#c3e98b"/>
<rect x="260.3" y="148.50" width="5.00" height="59.70" fill="#a2f9a0"/>
<rect x="260.3" y="155.13" width="5.00" height="53.07" fill="#80ffb4"/>
<rect x="260.3" y="161.77" width="5.00" height="46.43" fill="#5ef9c6"/>
<rect x="260.3" y="168.40" width="5.00" height="39.80" fill="#3be9d6"/>
<rect x="260.3" y="175.03" width="5.00" height="33.17" fill="#19cee3"/>
<rect x="260.3" y="181.67" width="5.00" height="26.53" fill="#08abee"/>
<rect x="260.3" y="188.30" width="5.00" height="19.90" fill="#2b7ff6"/>
<rect x="260.3" y="194.93" width="5.00" height="13.27" fill="#4c4ffc"/>
<rect x="260.3" y="201.57" width="5.00" height="6.63" fill="#6e1bff"/>
<rect x="260.3" y="108.7" width="5.00" height="99.50" fill="none" stroke="#777" stroke-width="0.4"/>
<line x1="265.3" y1="207.20" x2="266.6" y2="207.20" stroke="#555" stroke-width="0.5"/>
<text x="267.90" y="208.90" font-size="5" font-weight="bold" fill="#333">12</text>
<line x1="265.3" y1="193.89" x2="266.6" y2="193.89" stroke="#555" stroke-width="0.5"/>
<text x="267.90" y="195.59" font-size="5" font-weight="bold" fill="#333">20</text>
<line x1="265.3" y1="180.58" x2="266.6" y2="180.58" stroke="#555" stroke-width="0.5"/>
<text x="267.90" y="182.28" font-size="5" font-weight="bold" fill="#333">28</text>
<line x1="265.3" y1="167.27" x2="266.6" y2="167.27" stroke="#555" stroke-width="0.5"/>
<text x="267.90" y="168.97" font-size="5" font-weight="bold" fill="#333">36</text>
<line x1="265.3" y1="153.96" x2="266.6" y2="153.96" stroke="#555" stroke-width="0.5"/>
<text x="267.90" y="155.66" font-size="5" font-weight="bold" fill="#333">44</text>
<line x1="265.3" y1="140.65" x2="266.6" y2="140.65" stroke="#555" stroke-width="0.5"/>
<text x="267.90" y="142.35" font-size="5" font-weight="bold" fill="#333">52</text>
<line x1="265.3" y1="127.34" x2="266.6" y2="127.34" stroke="#555" stroke-width="0.5"/>
<text x="267.90" y="129.04" font-size="5" font-weight="bold" fill="#333">60</text>
<line x1="265.3" y1="114.02" x2="266.6" y2="114.02" stroke="#555" stroke-width="0.5"/>
<text x="267.90" y="115.72" font-size="5" font-weight="bold" fill="#333">68</text>
<text x="261.50" y="105.90" text-anchor="middle" font-size="5" font-weight="bold" fill="#333">1e10</text>
<polygon points="565.00,161.25 564.99,160.39 564.97,159.53 564.93,158.67 564.87,157.81 564.80,156.95 564.72,156.09 564.61,155.24 564.50,154.38 564.36,153.53 564.21,152.68 564.05,151.83 563.87,150.99 563.67,150.15 563.46,149.31 563.23,148.48 562.99,147.65 562.74,146.82 562.46,146.00 562.18,145.18 561.88,144.37 561.56,143.56 561.23,142.76 560.88,141.97 560.52,141.18 560.15,140.39 559.76,139.62 559.35,138.85 558.94,138.08 558.51,137.32 558.06,136.57 557.60,135.83 557.13,135.10 556.64,134.37 556.14,133.65 555.63,132.94 555.11,132.24 554.57,131.55 554.02,130.87 553.46,130.19 552.88,129.53 552.29,128.87 551.69,128.23 551.08,127.59 550.46,126.97 549.83,126.35 549.18,125.75 548.53,125.16 547.86,124.58 547.18,124.01 546.50,123.45 545.80,122.90 545.09,122.36 544.37,121.84 543.65,121.33 542.91,120.82 542.17,120.34 541.41,119.86 540.65,119.40 539.88,118.95 539.10,118.51 538.31,118.09 537.52,117.68 536.72,117.28 535.91,116.89 535.09,116.52 534.27,116.17 533.44,115.82 532.60,115.49 531.76,115.18 530.92,114.88 530.06,114.59 529.21,114.32 528.34,114.06 527.48,113.81 526.61,113.58 525.73,113.37 524.85,113.16 523.97,112.98 523.08,112.81 522.19,112.65 521.30,112.51 520.41,112.38 519.51,112.27 518.61,112.17 517.71,112.09 516.81,112.02 515.91,111.97 515.01,111.93 514.10,111.91 513.20,111.90 512.30,111.91 511.39,111.93 510.49,111.97 509.59,112.02 508.69,112.09 507.79,112.17 506.89,112.27 505.99,112.38 505.10,112.51 504.21,112.65 503.32,112.81 502.43,112.98 501.55,113.16 500.67,113.37 499.79,113.58 498.92,113.81 498.06,114.06 497.19,114.32 496.34,114.59 495.48,114.88 494.64,115.18 493.80,115.49 492.96,115.82 492.13,116.17 491.31,116.52 490.49,116.89 489.68,117.28 488.88,117.68 488.09,118.09 487.30,118.51 486.52,118.95 485.75,119.40 484.99,119.86 484.23,120.34 483.49,120.82 482.75,121.33 482.03,121.84 481.31,122.36 480.60,122.90 479.90,123.45 479.22,124.01 478.54,124.58 477.87,125.16 477.22,125.75 476.57,126.35 475.94,126.97 475.32,127.59 474.71,128.23 474.11,128.87 473.52,129.53 472.94,130.19 472.38,130.87 471.83,131.55 471.29,132.24 470.77,132.94 470.26,133.65 469.76,134.37 469.27,135.10 468.80,135.83 468.34,136.57 467.89,137.32 467.46,138.08 467.05,138.85 466.64,139.62 466.25,140.39 465.88,141.18 465.52,141.97 465.17,142.76 464.84,143.56 464.52,144.37 464.22,145.18 463.94,146.00 463.66,146.82 463.41,147.65 463.17,148.48 462.94,149.31 462.73,150.15 462.53,150.99 462.35,151.83 462.19,152.68 462.04,153.53 461.90,154.38 461.79,155.24 461.68,156.09 461.60,156.95 461.53,157.81 461.47,158.67 461.43,159.53 461.41,160.39 461.40,161.25 461.41,162.11 461.43,162.97 461.47,163.83 461.53,164.69 461.60,165.55 461.68,166.41 461.79,167.26 461.90,168.12 462.04,168.97 462.19,169.82 462.35,170.67 462.53,171.51 462.73,172.35 462.94,173.19 463.17,174.02 463.41,174.85 463.66,175.68 463.94,176.50 464.22,177.32 464.52,178.13 464.84,178.94 465.17,179.74 465.52,180.53 465.88,181.32 466.25,182.11 466.64,182.88 467.05,183.65 467.46,184.42 467.89,185.18 468.34,185.93 468.80,186.67 469.27,187.40 469.76,188.13 470.26,188.85 470.77,189.56 471.29,190.26 471.83,190.95 472.38,191.63 472.94,192.31 473.52,192.97 474.11,193.63 474.71,194.27 475.32,194.91 475.94,195.53 476.57,196.15 477.22,196.75 477.87,197.34 478.54,197.92 479.22,198.49 479.90,199.05 480.60,199.60 481.31,200.14 482.03,200.66 482.75,201.17 483.49,201.68 484.23,202.16 484.99,202.64 485.75,203.10 486.52,203.55 487.30,203.99 488.09,204.41 488.88,204.82 489.68,205.22 490.49,205.61 491.31,205.98 492.13,206.33 492.96,206.68 493.80,207.01 494.64,207.32 495.48,207.62 496.34,207.91 497.19,208.18 498.06,208.44 498.92,208.69 499.79,208.92 500.67,209.13 501.55,209.34 502.43,209.52 503.32,209.69 504.21,209.85 505.10,209.99 505.99,210.12 506.89,210.23 507.79,210.33 508.69,210.41 509.59,210.48 510.49,210.53 511.39,210.57 512.30,210.59 513.20,210.60 514.10,210.59 515.01,210.57 515.91,210.53 516.81,210.48 517.71,210.41 518.61,210.33 519.51,210.23 520.41,210.12 521.30,209.99 522.19,209.85 523.08,209.69 523.97,209.52 524.85,209.34 525.73,209.13 526.61,208.92 527.48,208.69 528.34,208.44 529.21,208.18 530.06,207.91 530.92,207.62 531.76,207.32 532.60,207.01 533.44,206.68 534.27,206.33 535.09,205.98 535.91,205.61 536.72,205.22 537.52,204.82 538.31,204.41 539.10,203.99 539.88,203.55 540.65,203.10 541.41,202.64 542.17,202.16 542.91,201.68 543.65,201.17 544.37,200.66 545.09,200.14 545.80,199.60 546.50,199.05 547.18,198.49 547.86,197.92 548.53,197.34 549.18,196.75 549.83,196.15 550.46,195.53 551.08,194.91 551.69,194.27 552.29,193.63 552.88,192.97 553.46,192.31 554.02,191.63 554.57,190.95 555.11,190.26 555.63,189.56 556.14,188.85 556.64,188.13 557.13,187.40 557.60,186.67 558.06,185.93 558.51,185.18 558.94,184.42 559.35,183.65 559.76,182.88 560.15,182.11 560.52,181.32 560.88,180.53 561.23,179.74 561.56,178.94 561.88,178.13 562.18,177.32 562.46,176.50 562.74,175.68 562.99,174.85 563.23,174.02 563.46,173.19 563.67,172.35 563.87,171.51 564.05,170.67 564.21,169.82 564.36,168.97 564.50,168.12 564.61,167.26 564.72,166.41 564.80,165.55 564.87,164.69 564.93,163.83 564.97,162.97 564.99,162.11" fill="#6e1bff"/>
<polygon points="562.88,161.25 562.87,160.42 562.85,159.60 562.81,158.77 562.76,157.95 562.69,157.12 562.62,156.30 562.52,155.48 562.41,154.66 562.29,153.84 562.15,153.03 562.00,152.21 561.83,151.40 561.65,150.59 561.46,149.79 561.25,148.98 561.03,148.18 560.79,147.39 560.54,146.60 560.28,145.81 560.00,145.02 559.71,144.24 559.40,143.47 559.08,142.70 558.75,141.93 558.40,141.17 558.04,140.41 557.67,139.66 557.28,138.92 556.88,138.18 556.47,137.45 556.04,136.73 555.60,136.01 555.14,135.30 554.68,134.60 554.20,133.90 553.70,133.22 553.19,132.54 552.67,131.87 552.14,131.21 551.59,130.56 551.03,129.92 550.46,129.29 549.87,128.67 549.27,128.07 548.66,127.47 548.03,126.89 547.39,126.32 546.75,125.76 546.08,125.21 545.41,124.68 544.73,124.15 544.04,123.64 543.34,123.15 542.63,122.66 541.91,122.19 541.18,121.74 540.44,121.29 539.69,120.86 538.94,120.44 538.18,120.03 537.41,119.64 536.64,119.25 535.86,118.89 535.07,118.53 534.28,118.19 533.48,117.86 532.68,117.54 531.87,117.23 531.05,116.94 530.23,116.66 529.41,116.40 528.58,116.15 527.75,115.91 526.91,115.68 526.08,115.47 525.23,115.27 524.39,115.09 523.54,114.92 522.69,114.76 521.83,114.61 520.97,114.48 520.12,114.37 519.26,114.26 518.39,114.17 517.53,114.10 516.67,114.03 515.80,113.99 514.93,113.95 514.07,113.93 513.20,113.92 512.33,113.93 511.47,113.95 510.60,113.99 509.73,114.03 508.87,114.10 508.01,114.17 507.14,114.26 506.28,114.37 505.43,114.48 504.57,114.61 503.71,114.76 502.86,114.92 502.01,115.09 501.17,115.27 500.32,115.47 499.49,115.68 498.65,115.91 497.82,116.15 496.99,116.40 496.17,116.66 495.35,116.94 494.53,117.23 493.72,117.54 492.92,117.86 492.12,118.19 491.33,118.53 490.54,118.89 489.76,119.25 488.99,119.64 488.22,120.03 487.46,120.44 486.71,120.86 485.96,121.29 485.22,121.74 484.49,122.19 483.77,122.66 483.06,123.15 482.36,123.64 481.67,124.15 480.99,124.68 480.32,125.21 479.65,125.76 479.01,126.32 478.37,126.89 477.74,127.47 477.13,128.07 476.53,128.67 475.94,129.29 475.37,129.92 474.81,130.56 474.26,131.21 473.73,131.87 473.21,132.54 472.70,133.22 472.20,133.90 471.72,134.60 471.26,135.30 470.80,136.01 470.36,136.73 469.93,137.45 469.52,138.18 469.12,138.92 468.73,139.66 468.36,140.41 468.00,141.17 467.65,141.93 467.32,142.70 467.00,143.47 466.69,144.24 466.40,145.02 466.12,145.81 465.86,146.60 465.61,147.39 465.37,148.18 465.15,148.98 464.94,149.79 464.75,150.59 464.57,151.40 464.40,152.21 464.25,153.03 464.11,153.84 463.99,154.66 463.88,155.48 463.78,156.30 463.71,157.12 463.64,157.95 463.59,158.77 463.55,159.60 463.53,160.42 463.52,161.25 463.53,162.08 463.55,162.90 463.59,163.73 463.64,164.55 463.71,165.38 463.78,166.20 463.88,167.02 463.99,167.84 464.11,168.66 464.25,169.47 464.40,170.29 464.57,171.10 464.75,171.91 464.94,172.71 465.15,173.52 465.37,174.32 465.61,175.11 465.86,175.90 466.12,176.69 466.40,177.48 466.69,178.26 467.00,179.03 467.32,179.80 467.65,180.57 468.00,181.33 468.36,182.09 468.73,182.84 469.12,183.58 469.52,184.32 469.93,185.05 470.36,185.77 470.80,186.49 471.26,187.20 471.72,187.90 472.20,188.60 472.70,189.28 473.21,189.96 473.73,190.63 474.26,191.29 474.81,191.94 475.37,192.58 475.94,193.21 476.53,193.83 477.13,194.43 477.74,195.03 478.37,195.61 479.01,196.18 479.65,196.74 480.32,197.29 480.99,197.82 481.67,198.35 482.36,198.86 483.06,199.35 483.77,199.84 484.49,200.31 485.22,200.76 485.96,201.21 486.71,201.64 487.46,202.06 488.22,202.47 488.99,202.86 489.76,203.25 490.54,203.61 491.33,203.97 492.12,204.31 492.92,204.64 493.72,204.96 494.53,205.27 495.35,205.56 496.17,205.84 496.99,206.10 497.82,206.35 498.65,206.59 499.49,206.82 500.32,207.03 501.17,207.23 502.01,207.41 502.86,207.58 503.71,207.74 504.57,207.89 505.43,208.02 506.28,208.13 507.14,208.24 508.01,208.33 508.87,208.40 509.73,208.47 510.60,208.51 511.47,208.55 512.33,208.57 513.20,208.58 514.07,208.57 514.93,208.55 515.80,208.51 516.67,208.47 517.53,208.40 518.39,208.33 519.26,208.24 520.12,208.13 520.97,208.02 521.83,207.89 522.69,207.74 523.54,207.58 524.39,207.41 525.23,207.23 526.08,207.03 526.91,206.82 527.75,206.59 528.58,206.35 529.41,206.10 530.23,205.84 531.05,205.56 531.87,205.27 532.68,204.96 533.48,204.64 534.28,204.31 535.07,203.97 535.86,203.61 536.64,203.25 537.41,202.86 538.18,202.47 538.94,202.06 539.69,201.64 540.44,201.21 541.18,200.76 541.91,200.31 542.63,199.84 543.34,199.35 544.04,198.86 544.73,198.35 545.41,197.82 546.08,197.29 546.75,196.74 547.39,196.18 548.03,195.61 548.66,195.03 549.27,194.43 549.87,193.83 550.46,193.21 551.03,192.58 551.59,191.94 552.14,191.29 552.67,190.63 553.19,189.96 553.70,189.28 554.20,188.60 554.68,187.90 555.14,187.20 555.60,186.49 556.04,185.77 556.47,185.05 556.88,184.32 557.28,183.58 557.67,182.84 558.04,182.09 558.40,181.33 558.75,180.57 559.08,179.80 559.40,179.03 559.71,178.26 560.00,177.48 560.28,176.69 560.54,175.90 560.79,175.11 561.03,174.32 561.25,173.52 561.46,172.71 561.65,171.91 561.83,171.10 562.00,170.29 562.15,169.47 562.29,168.66 562.41,167.84 562.52,167.02 562.62,166.20 562.69,165.38 562.76,164.55 562.81,163.73 562.85,162.90 562.87,162.08" fill="#4c4ffc"/>
<polygon points="559.98,161.25 559.97,160.47 559.95,159.69 559.92,158.92 559.87,158.14 559.82,157.36 559.74,156.59 559.66,155.82 559.57,155.04 559.46,154.27 559.34,153.50 559.20,152.73 559.06,151.96 558.90,151.20 558.72,150.44 558.54,149.68 558.34,148.92 558.13,148.16 557.91,147.41 557.68,146.66 557.43,145.91 557.17,145.17 556.90,144.43 556.62,143.69 556.32,142.96 556.01,142.23 555.69,141.51 555.36,140.79 555.01,140.07 554.65,139.36 554.28,138.65 553.90,137.95 553.50,137.26 553.09,136.57 552.66,135.89 552.22,135.22 551.77,134.55 551.30,133.89 550.82,133.25 550.33,132.61 549.82,131.98 549.29,131.36 548.75,130.75 548.20,130.16 547.63,129.58 547.04,129.01 546.45,128.45 545.84,127.91 545.21,127.38 544.57,126.87 543.93,126.37 543.26,125.88 542.59,125.41 541.91,124.95 541.22,124.50 540.52,124.07 539.82,123.65 539.10,123.25 538.38,122.86 537.65,122.48 536.92,122.11 536.18,121.76 535.43,121.42 534.68,121.09 533.92,120.77 533.16,120.46 532.40,120.17 531.63,119.89 530.86,119.61 530.08,119.36 529.30,119.11 528.52,118.87 527.73,118.65 526.94,118.44 526.14,118.24 525.35,118.05 524.55,117.88 523.75,117.71 522.95,117.56 522.14,117.42 521.34,117.30 520.53,117.18 519.72,117.08 518.90,116.99 518.09,116.91 517.28,116.84 516.46,116.78 515.65,116.74 514.83,116.71 514.02,116.69 513.20,116.69 512.38,116.69 511.57,116.71 510.75,116.74 509.94,116.78 509.12,116.84 508.31,116.91 507.50,116.99 506.68,117.08 505.87,117.18 505.06,117.30 504.26,117.42 503.45,117.56 502.65,117.71 501.85,117.88 501.05,118.05 500.26,118.24 499.46,118.44 498.67,118.65 497.88,118.87 497.10,119.11 496.32,119.36 495.54,119.61 494.77,119.89 494.00,120.17 493.24,120.46 492.48,120.77 491.72,121.09 490.97,121.42 490.22,121.76 489.48,122.11 488.75,122.48 488.02,122.86 487.30,123.25 486.58,123.65 485.88,124.07 485.18,124.50 484.49,124.95 483.81,125.41 483.14,125.88 482.47,126.37 481.83,126.87 481.19,127.38 480.56,127.91 479.95,128.45 479.36,129.01 478.77,129.58 478.20,130.16 477.65,130.75 477.11,131.36 476.58,131.98 476.07,132.61 475.58,133.25 475.10,133.89 474.63,134.55 474.18,135.22 473.74,135.89 473.31,136.57 472.90,137.26 472.50,137.95 472.12,138.65 471.75,139.36 471.39,140.07 471.04,140.79 470.71,141.51 470.39,142.23 470.08,142.96 469.78,143.69 469.50,144.43 469.23,145.17 468.97,145.91 468.72,146.66 468.49,147.41 468.27,148.16 468.06,148.92 467.86,149.68 467.68,150.44 467.50,151.20 467.34,151.96 467.20,152.73 467.06,153.50 466.94,154.27 466.83,155.04 466.74,155.82 466.66,156.59 466.58,157.36 466.53,158.14 466.48,158.92 466.45,159.69 466.43,160.47 466.42,161.25 466.43,162.03 466.45,162.81 466.48,163.58 466.53,164.36 466.58,165.14 466.66,165.91 466.74,166.68 466.83,167.46 466.94,168.23 467.06,169.00 467.20,169.77 467.34,170.54 467.50,171.30 467.68,172.06 467.86,172.82 468.06,173.58 468.27,174.34 468.49,175.09 468.72,175.84 468.97,176.59 469.23,177.33 469.50,178.07 469.78,178.81 470.08,179.54 470.39,180.27 470.71,180.99 471.04,181.71 471.39,182.43 471.75,183.14 472.12,183.85 472.50,184.55 472.90,185.24 473.31,185.93 473.74,186.61 474.18,187.28 474.63,187.95 475.10,188.61 475.58,189.25 476.07,189.89 476.58,190.52 477.11,191.14 477.65,191.75 478.20,192.34 478.77,192.92 479.36,193.49 479.95,194.05 480.56,194.59 481.19,195.12 481.83,195.63 482.47,196.13 483.14,196.62 483.81,197.09 484.49,197.55 485.18,198.00 485.88,198.43 486.58,198.85 487.30,199.25 488.02,199.64 488.75,200.02 489.48,200.39 490.22,200.74 490.97,201.08 491.72,201.41 492.48,201.73 493.24,202.04 494.00,202.33 494.77,202.61 495.54,202.89 496.32,203.14 497.10,203.39 497.88,203.63 498.67,203.85 499.46,204.06 500.26,204.26 501.05,204.45 501.85,204.62 502.65,204.79 503.45,204.94 504.26,205.08 505.06,205.20 505.87,205.32 506.68,205.42 507.50,205.51 508.31,205.59 509.12,205.66 509.94,205.72 510.75,205.76 511.57,205.79 512.38,205.81 513.20,205.81 514.02,205.81 514.83,205.79 515.65,205.76 516.46,205.72 517.28,205.66 518.09,205.59 518.90,205.51 519.72,205.42 520.53,205.32 521.34,205.20 522.14,205.08 522.95,204.94 523.75,204.79 524.55,204.62 525.35,204.45 526.14,204.26 526.94,204.06 527.73,203.85 528.52,203.63 529.30,203.39 530.08,203.14 530.86,202.89 531.63,202.61 532.40,202.33 533.16,202.04 533.92,201.73 534.68,201.41 535.43,201.08 536.18,200.74 536.92,200.39 537.65,200.02 538.38,199.64 539.10,199.25 539.82,198.85 540.52,198.43 541.22,198.00 541.91,197.55 542.59,197.09 543.26,196.62 543.93,196.13 544.57,195.63 545.21,195.12 545.84,194.59 546.45,194.05 547.04,193.49 547.63,192.92 548.20,192.34 548.75,191.75 549.29,191.14 549.82,190.52 550.33,189.89 550.82,189.25 551.30,188.61 551.77,187.95 552.22,187.28 552.66,186.61 553.09,185.93 553.50,185.24 553.90,184.55 554.28,183.85 554.65,183.14 555.01,182.43 555.36,181.71 555.69,180.99 556.01,180.27 556.32,179.54 556.62,178.81 556.90,178.07 557.17,177.33 557.43,176.59 557.68,175.84 557.91,175.09 558.13,174.34 558.34,173.58 558.54,172.82 558.72,172.06 558.90,171.30 559.06,170.54 559.20,169.77 559.34,169.00 559.46,168.23 559.57,167.46 559.66,166.68 559.74,165.91 559.82,165.14 559.87,164.36 559.92,163.58 559.95,162.81 559.97,162.03" fill="#2b7ff6"/>
<polygon points="557.07,161.25 557.07,160.52 557.05,159.79 557.02,159.06 556.99,158.33 556.94,157.60 556.87,156.88 556.80,156.15 556.72,155.42 556.63,154.70 556.52,153.97 556.40,153.25 556.28,152.53 556.14,151.81 555.99,151.09 555.83,150.37 555.66,149.65 555.48,148.94 555.28,148.22 555.08,147.51 554.87,146.80 554.64,146.10 554.40,145.39 554.15,144.69 553.90,143.99 553.62,143.29 553.34,142.60 553.05,141.91 552.74,141.22 552.43,140.54 552.10,139.86 551.75,139.18 551.40,138.51 551.03,137.85 550.65,137.19 550.25,136.53 549.84,135.89 549.41,135.25 548.97,134.62 548.52,134.00 548.04,133.40 547.55,132.80 547.05,132.21 546.53,131.64 545.99,131.09 545.43,130.54 544.86,130.01 544.28,129.50 543.68,129.00 543.06,128.52 542.44,128.05 541.80,127.60 541.15,127.17 540.49,126.75 539.82,126.34 539.14,125.95 538.46,125.57 537.77,125.21 537.07,124.86 536.37,124.52 535.66,124.19 534.94,123.88 534.23,123.58 533.50,123.29 532.78,123.01 532.05,122.74 531.32,122.48 530.58,122.23 529.85,122.00 529.11,121.77 528.36,121.56 527.62,121.35 526.87,121.16 526.13,120.97 525.37,120.80 524.62,120.64 523.87,120.48 523.11,120.34 522.36,120.21 521.60,120.09 520.84,119.98 520.08,119.88 519.32,119.79 518.55,119.71 517.79,119.64 517.03,119.58 516.26,119.54 515.50,119.50 514.73,119.47 513.97,119.46 513.20,119.45 512.43,119.46 511.67,119.47 510.90,119.50 510.14,119.54 509.37,119.58 508.61,119.64 507.85,119.71 507.08,119.79 506.32,119.88 505.56,119.98 504.80,120.09 504.04,120.21 503.29,120.34 502.53,120.48 501.78,120.64 501.03,120.80 500.27,120.97 499.53,121.16 498.78,121.35 498.04,121.56 497.29,121.77 496.55,122.00 495.82,122.23 495.08,122.48 494.35,122.74 493.62,123.01 492.90,123.29 492.17,123.58 491.46,123.88 490.74,124.19 490.03,124.52 489.33,124.86 488.63,125.21 487.94,125.57 487.26,125.95 486.58,126.34 485.91,126.75 485.25,127.17 484.60,127.60 483.96,128.05 483.34,128.52 482.72,129.00 482.12,129.50 481.54,130.01 480.97,130.54 480.41,131.09 479.87,131.64 479.35,132.21 478.85,132.80 478.36,133.40 477.88,134.00 477.43,134.62 476.99,135.25 476.56,135.89 476.15,136.53 475.75,137.19 475.37,137.85 475.00,138.51 474.65,139.18 474.30,139.86 473.97,140.54 473.66,141.22 473.35,141.91 473.06,142.60 472.78,143.29 472.50,143.99 472.25,144.69 472.00,145.39 471.76,146.10 471.53,146.80 471.32,147.51 471.12,148.22 470.92,148.94 470.74,149.65 470.57,150.37 470.41,151.09 470.26,151.81 470.12,152.53 470.00,153.25 469.88,153.97 469.77,154.70 469.68,155.42 469.60,156.15 469.53,156.88 469.46,157.60 469.41,158.33 469.38,159.06 469.35,159.79 469.33,160.52 469.33,161.25 469.33,161.98 469.35,162.71 469.38,163.44 469.41,164.17 469.46,164.90 469.53,165.62 469.60,166.35 469.68,167.08 469.77,167.80 469.88,168.53 470.00,169.25 470.12,169.97 470.26,170.69 470.41,171.41 470.57,172.13 470.74,172.85 470.92,173.56 471.12,174.28 471.32,174.99 471.53,175.70 471.76,176.40 472.00,177.11 472.25,177.81 472.50,178.51 472.78,179.21 473.06,179.90 473.35,180.59 473.66,181.28 473.97,181.96 474.30,182.64 474.65,183.32 475.00,183.99 475.37,184.65 475.75,185.31 476.15,185.97 476.56,186.61 476.99,187.25 477.43,187.88 477.88,188.50 478.36,189.10 478.85,189.70 479.35,190.29 479.87,190.86 480.41,191.41 480.97,191.96 481.54,192.49 482.12,193.00 482.72,193.50 483.34,193.98 483.96,194.45 484.60,194.90 485.25,195.33 485.91,195.75 486.58,196.16 487.26,196.55 487.94,196.93 488.63,197.29 489.33,197.64 490.03,197.98 490.74,198.31 491.46,198.62 492.17,198.92 492.90,199.21 493.62,199.49 494.35,199.76 495.08,200.02 495.82,200.27 496.55,200.50 497.29,200.73 498.04,200.94 498.78,201.15 499.53,201.34 500.27,201.53 501.03,201.70 501.78,201.86 502.53,202.02 503.29,202.16 504.04,202.29 504.80,202.41 505.56,202.52 506.32,202.62 507.08,202.71 507.85,202.79 508.61,202.86 509.37,202.92 510.14,202.96 510.90,203.00 511.67,203.03 512.43,203.04 513.20,203.05 513.97,203.04 514.73,203.03 515.50,203.00 516.26,202.96 517.03,202.92 517.79,202.86 518.55,202.79 519.32,202.71 520.08,202.62 520.84,202.52 521.60,202.41 522.36,202.29 523.11,202.16 523.87,202.02 524.62,201.86 525.37,201.70 526.13,201.53 526.87,201.34 527.62,201.15 528.36,200.94 529.11,200.73 529.85,200.50 530.58,200.27 531.32,200.02 532.05,199.76 532.78,199.49 533.50,199.21 534.23,198.92 534.94,198.62 535.66,198.31 536.37,197.98 537.07,197.64 537.77,197.29 538.46,196.93 539.14,196.55 539.82,196.16 540.49,195.75 541.15,195.33 541.80,194.90 542.44,194.45 543.06,193.98 543.68,193.50 544.28,193.00 544.86,192.49 545.43,191.96 545.99,191.41 546.53,190.86 547.05,190.29 547.55,189.70 548.04,189.10 548.52,188.50 548.97,187.88 549.41,187.25 549.84,186.61 550.25,185.97 550.65,185.31 551.03,184.65 551.40,183.99 551.75,183.32 552.10,182.64 552.43,181.96 552.74,181.28 553.05,180.59 553.34,179.90 553.62,179.21 553.90,178.51 554.15,177.81 554.40,177.11 554.64,176.40 554.87,175.70 555.08,174.99 555.28,174.28 555.48,173.56 555.66,172.85 555.83,172.13 555.99,171.41 556.14,170.69 556.28,169.97 556.40,169.25 556.52,168.53 556.63,167.80 556.72,167.08 556.80,166.35 556.87,165.62 556.94,164.90 556.99,164.17 557.02,163.44 557.05,162.71 557.07,161.98" fill="#08abee"/>
<polygon points="554.12,161.25 554.12,160.57 554.10,159.89 554.08,159.21 554.05,158.53 554.01,157.85 553.95,157.17 553.89,156.49 553.82,155.81 553.74,155.13 553.66,154.45 553.56,153.78 553.45,153.10 553.34,152.42 553.21,151.75 553.08,151.07 552.93,150.40 552.78,149.72 552.62,149.05 552.44,148.38 552.26,147.70 552.07,147.03 551.87,146.36 551.66,145.70 551.44,145.03 551.21,144.36 550.97,143.70 550.72,143.04 550.45,142.38 550.18,141.72 549.89,141.07 549.60,140.42 549.28,139.77 548.96,139.13 548.62,138.49 548.27,137.86 547.90,137.23 547.52,136.61 547.12,136.00 546.70,135.40 546.27,134.82 545.81,134.24 545.34,133.68 544.85,133.13 544.35,132.59 543.82,132.08 543.28,131.58 542.72,131.09 542.14,130.63 541.55,130.18 540.95,129.75 540.33,129.33 539.70,128.94 539.06,128.55 538.41,128.19 537.76,127.84 537.09,127.50 536.42,127.18 535.75,126.87 535.07,126.58 534.38,126.29 533.70,126.02 533.01,125.76 532.32,125.51 531.62,125.27 530.92,125.04 530.23,124.82 529.53,124.61 528.82,124.41 528.12,124.22 527.42,124.03 526.71,123.86 526.01,123.70 525.30,123.54 524.59,123.40 523.88,123.26 523.18,123.13 522.47,123.01 521.76,122.90 521.04,122.80 520.33,122.71 519.62,122.62 518.91,122.55 518.20,122.48 517.48,122.42 516.77,122.37 516.06,122.33 515.34,122.30 514.63,122.28 513.91,122.27 513.20,122.26 512.49,122.27 511.77,122.28 511.06,122.30 510.34,122.33 509.63,122.37 508.92,122.42 508.20,122.48 507.49,122.55 506.78,122.62 506.07,122.71 505.36,122.80 504.64,122.90 503.93,123.01 503.22,123.13 502.52,123.26 501.81,123.40 501.10,123.54 500.39,123.70 499.69,123.86 498.98,124.03 498.28,124.22 497.58,124.41 496.87,124.61 496.17,124.82 495.48,125.04 494.78,125.27 494.08,125.51 493.39,125.76 492.70,126.02 492.02,126.29 491.33,126.58 490.65,126.87 489.98,127.18 489.31,127.50 488.64,127.84 487.99,128.19 487.34,128.55 486.70,128.94 486.07,129.33 485.45,129.75 484.85,130.18 484.26,130.63 483.68,131.09 483.12,131.58 482.58,132.08 482.05,132.59 481.55,133.13 481.06,133.68 480.59,134.24 480.13,134.82 479.70,135.40 479.28,136.00 478.88,136.61 478.50,137.23 478.13,137.86 477.78,138.49 477.44,139.13 477.12,139.77 476.80,140.42 476.51,141.07 476.22,141.72 475.95,142.38 475.68,143.04 475.43,143.70 475.19,144.36 474.96,145.03 474.74,145.70 474.53,146.36 474.33,147.03 474.14,147.70 473.96,148.38 473.78,149.05 473.62,149.72 473.47,150.40 473.32,151.07 473.19,151.75 473.06,152.42 472.95,153.10 472.84,153.78 472.74,154.45 472.66,155.13 472.58,155.81 472.51,156.49 472.45,157.17 472.39,157.85 472.35,158.53 472.32,159.21 472.30,159.89 472.28,160.57 472.28,161.25 472.28,161.93 472.30,162.61 472.32,163.29 472.35,163.97 472.39,164.65 472.45,165.33 472.51,166.01 472.58,166.69 472.66,167.37 472.74,168.05 472.84,168.72 472.95,169.40 473.06,170.08 473.19,170.75 473.32,171.43 473.47,172.10 473.62,172.78 473.78,173.45 473.96,174.12 474.14,174.80 474.33,175.47 474.53,176.14 474.74,176.80 474.96,177.47 475.19,178.14 475.43,178.80 475.68,179.46 475.95,180.12 476.22,180.78 476.51,181.43 476.80,182.08 477.12,182.73 477.44,183.37 477.78,184.01 478.13,184.64 478.50,185.27 478.88,185.89 479.28,186.50 479.70,187.10 480.13,187.68 480.59,188.26 481.06,188.82 481.55,189.37 482.05,189.91 482.58,190.42 483.12,190.92 483.68,191.41 484.26,191.87 484.85,192.32 485.45,192.75 486.07,193.17 486.70,193.56 487.34,193.95 487.99,194.31 488.64,194.66 489.31,195.00 489.98,195.32 490.65,195.63 491.33,195.92 492.02,196.21 492.70,196.48 493.39,196.74 494.08,196.99 494.78,197.23 495.48,197.46 496.17,197.68 496.87,197.89 497.58,198.09 498.28,198.28 498.98,198.47 499.69,198.64 500.39,198.80 501.10,198.96 501.81,199.10 502.52,199.24 503.22,199.37 503.93,199.49 504.64,199.60 505.36,199.70 506.07,199.79 506.78,199.88 507.49,199.95 508.20,200.02 508.92,200.08 509.63,200.13 510.34,200.17 511.06,200.20 511.77,200.22 512.49,200.23 513.20,200.24 513.91,200.23 514.63,200.22 515.34,200.20 516.06,200.17 516.77,200.13 517.48,200.08 518.20,200.02 518.91,199.95 519.62,199.88 520.33,199.79 521.04,199.70 521.76,199.60 522.47,199.49 523.18,199.37 523.88,199.24 524.59,199.10 525.30,198.96 526.01,198.80 526.71,198.64 527.42,198.47 528.12,198.28 528.82,198.09 529.53,197.89 530.23,197.68 530.92,197.46 531.62,197.23 532.32,196.99 533.01,196.74 533.70,196.48 534.38,196.21 535.07,195.92 535.75,195.63 536.42,195.32 537.09,195.00 537.76,194.66 538.41,194.31 539.06,193.95 539.70,193.56 540.33,193.17 540.95,192.75 541.55,192.32 542.14,191.87 542.72,191.41 543.28,190.92 543.82,190.42 544.35,189.91 544.85,189.37 545.34,188.82 545.81,188.26 546.27,187.68 546.70,187.10 547.12,186.50 547.52,185.89 547.90,185.27 548.27,184.64 548.62,184.01 548.96,183.37 549.28,182.73 549.60,182.08 549.89,181.43 550.18,180.78 550.45,180.12 550.72,179.46 550.97,178.80 551.21,178.14 551.44,177.47 551.66,176.80 551.87,176.14 552.07,175.47 552.26,174.80 552.44,174.12 552.62,173.45 552.78,172.78 552.93,172.10 553.08,171.43 553.21,170.75 553.34,170.08 553.45,169.40 553.56,168.72 553.66,168.05 553.74,167.37 553.82,166.69 553.89,166.01 553.95,165.33 554.01,164.65 554.05,163.97 554.08,163.29 554.10,162.61 554.12,161.93" fill="#19cee3"/>
<polygon points="551.22,161.25 551.22,160.62 551.21,159.99 551.19,159.35 551.16,158.72 551.13,158.09 551.08,157.46 551.03,156.82 550.98,156.19 550.91,155.56 550.84,154.93 550.76,154.29 550.67,153.66 550.58,153.03 550.48,152.40 550.36,151.76 550.25,151.13 550.12,150.50 549.99,149.86 549.85,149.23 549.70,148.59 549.54,147.96 549.37,147.33 549.20,146.69 549.01,146.06 548.82,145.43 548.62,144.79 548.41,144.16 548.18,143.53 547.95,142.90 547.71,142.27 547.45,141.64 547.18,141.02 546.90,140.40 546.61,139.78 546.30,139.17 545.97,138.57 545.63,137.97 545.27,137.38 544.89,136.80 544.49,136.23 544.08,135.68 543.64,135.14 543.18,134.61 542.71,134.10 542.21,133.61 541.69,133.14 541.16,132.69 540.61,132.25 540.04,131.83 539.46,131.44 538.86,131.06 538.26,130.70 537.64,130.35 537.01,130.03 536.38,129.72 535.73,129.42 535.09,129.14 534.44,128.87 533.78,128.62 533.12,128.37 532.46,128.14 531.80,127.92 531.14,127.71 530.47,127.51 529.81,127.31 529.14,127.13 528.48,126.96 527.81,126.79 527.15,126.63 526.48,126.48 525.82,126.34 525.15,126.20 524.49,126.08 523.82,125.96 523.16,125.84 522.49,125.74 521.83,125.64 521.17,125.55 520.50,125.47 519.84,125.39 519.17,125.32 518.51,125.26 517.85,125.20 517.18,125.16 516.52,125.12 515.85,125.09 515.19,125.06 514.53,125.04 513.86,125.03 513.20,125.03 512.54,125.03 511.87,125.04 511.21,125.06 510.55,125.09 509.88,125.12 509.22,125.16 508.55,125.20 507.89,125.26 507.23,125.32 506.56,125.39 505.90,125.47 505.23,125.55 504.57,125.64 503.91,125.74 503.24,125.84 502.58,125.96 501.91,126.08 501.25,126.20 500.58,126.34 499.92,126.48 499.25,126.63 498.59,126.79 497.92,126.96 497.26,127.13 496.59,127.31 495.93,127.51 495.26,127.71 494.60,127.92 493.94,128.14 493.28,128.37 492.62,128.62 491.96,128.87 491.31,129.14 490.67,129.42 490.02,129.72 489.39,130.03 488.76,130.35 488.14,130.70 487.54,131.06 486.94,131.44 486.36,131.83 485.79,132.25 485.24,132.69 484.71,133.14 484.19,133.61 483.69,134.10 483.22,134.61 482.76,135.14 482.32,135.68 481.91,136.23 481.51,136.80 481.13,137.38 480.77,137.97 480.43,138.57 480.10,139.17 479.79,139.78 479.50,140.40 479.22,141.02 478.95,141.64 478.69,142.27 478.45,142.90 478.22,143.53 477.99,144.16 477.78,144.79 477.58,145.43 477.39,146.06 477.20,146.69 477.03,147.33 476.86,147.96 476.70,148.59 476.55,149.23 476.41,149.86 476.28,150.50 476.15,151.13 476.04,151.76 475.92,152.40 475.82,153.03 475.73,153.66 475.64,154.29 475.56,154.93 475.49,155.56 475.42,156.19 475.37,156.82 475.32,157.46 475.27,158.09 475.24,158.72 475.21,159.35 475.19,159.99 475.18,160.62 475.18,161.25 475.18,161.88 475.19,162.51 475.21,163.15 475.24,163.78 475.27,164.41 475.32,165.04 475.37,165.68 475.42,166.31 475.49,166.94 475.56,167.57 475.64,168.21 475.73,168.84 475.82,169.47 475.92,170.10 476.04,170.74 476.15,171.37 476.28,172.00 476.41,172.64 476.55,173.27 476.70,173.91 476.86,174.54 477.03,175.17 477.20,175.81 477.39,176.44 477.58,177.07 477.78,177.71 477.99,178.34 478.22,178.97 478.45,179.60 478.69,180.23 478.95,180.86 479.22,181.48 479.50,182.10 479.79,182.72 480.10,183.33 480.43,183.93 480.77,184.53 481.13,185.12 481.51,185.70 481.91,186.27 482.32,186.82 482.76,187.36 483.22,187.89 483.69,188.40 484.19,188.89 484.71,189.36 485.24,189.81 485.79,190.25 486.36,190.67 486.94,191.06 487.54,191.44 488.14,191.80 488.76,192.15 489.39,192.47 490.02,192.78 490.67,193.08 491.31,193.36 491.96,193.63 492.62,193.88 493.28,194.13 493.94,194.36 494.60,194.58 495.26,194.79 495.93,194.99 496.59,195.19 497.26,195.37 497.92,195.54 498.59,195.71 499.25,195.87 499.92,196.02 500.58,196.16 501.25,196.30 501.91,196.42 502.58,196.54 503.24,196.66 503.91,196.76 504.57,196.86 505.23,196.95 505.90,197.03 506.56,197.11 507.23,197.18 507.89,197.24 508.55,197.30 509.22,197.34 509.88,197.38 510.55,197.41 511.21,197.44 511.87,197.46 512.54,197.47 513.20,197.47 513.86,197.47 514.53,197.46 515.19,197.44 515.85,197.41 516.52,197.38 517.18,197.34 517.85,197.30 518.51,197.24 519.17,197.18 519.84,197.11 520.50,197.03 521.17,196.95 521.83,196.86 522.49,196.76 523.16,196.66 523.82,196.54 524.49,196.42 525.15,196.30 525.82,196.16 526.48,196.02 527.15,195.87 527.81,195.71 528.48,195.54 529.14,195.37 529.81,195.19 530.47,194.99 531.14,194.79 531.80,194.58 532.46,194.36 533.12,194.13 533.78,193.88 534.44,193.63 535.09,193.36 535.73,193.08 536.38,192.78 537.01,192.47 537.64,192.15 538.26,191.80 538.86,191.44 539.46,191.06 540.04,190.67 540.61,190.25 541.16,189.81 541.69,189.36 542.21,188.89 542.71,188.40 543.18,187.89 543.64,187.36 544.08,186.82 544.49,186.27 544.89,185.70 545.27,185.12 545.63,184.53 545.97,183.93 546.30,183.33 546.61,182.72 546.90,182.10 547.18,181.48 547.45,180.86 547.71,180.23 547.95,179.60 548.18,178.97 548.41,178.34 548.62,177.71 548.82,177.07 549.01,176.44 549.20,175.81 549.37,175.17 549.54,174.54 549.70,173.91 549.85,173.27 549.99,172.64 550.12,172.00 550.25,171.37 550.36,170.74 550.48,170.10 550.58,169.47 550.67,168.84 550.76,168.21 550.84,167.57 550.91,166.94 550.98,166.31 551.03,165.68 551.08,165.04 551.13,164.41 551.16,163.78 551.19,163.15 551.21,162.51 551.22,161.88" fill="#3be9d6"/>
<polygon points="548.01,161.25 548.01,160.67 548.00,160.09 547.98,159.51 547.96,158.93 547.94,158.35 547.91,157.77 547.87,157.19 547.83,156.61 547.78,156.03 547.72,155.45 547.66,154.87 547.60,154.28 547.52,153.70 547.45,153.12 547.36,152.53 547.27,151.94 547.18,151.35 547.07,150.76 546.96,150.17 546.85,149.58 546.73,148.99 546.60,148.39 546.46,147.80 546.32,147.20 546.17,146.60 546.01,146.00 545.84,145.40 545.67,144.80 545.48,144.20 545.28,143.60 545.07,143.01 544.85,142.41 544.62,141.81 544.37,141.22 544.10,140.63 543.82,140.05 543.53,139.48 543.21,138.91 542.88,138.36 542.52,137.81 542.14,137.28 541.74,136.77 541.32,136.27 540.88,135.78 540.41,135.32 539.93,134.88 539.42,134.46 538.90,134.06 538.36,133.68 537.80,133.32 537.23,132.98 536.65,132.66 536.05,132.36 535.45,132.07 534.84,131.81 534.22,131.56 533.60,131.32 532.98,131.10 532.35,130.89 531.72,130.69 531.09,130.50 530.46,130.32 529.83,130.15 529.20,129.99 528.57,129.84 527.95,129.70 527.32,129.56 526.69,129.43 526.07,129.31 525.45,129.19 524.83,129.08 524.21,128.98 523.59,128.88 522.97,128.79 522.35,128.70 521.74,128.62 521.12,128.55 520.51,128.48 519.90,128.42 519.29,128.36 518.68,128.31 518.07,128.26 517.46,128.22 516.85,128.19 516.24,128.16 515.63,128.13 515.02,128.11 514.42,128.10 513.81,128.09 513.20,128.09 512.59,128.09 511.98,128.10 511.38,128.11 510.77,128.13 510.16,128.16 509.55,128.19 508.94,128.22 508.33,128.26 507.72,128.31 507.11,128.36 506.50,128.42 505.89,128.48 505.28,128.55 504.66,128.62 504.05,128.70 503.43,128.79 502.81,128.88 502.19,128.98 501.57,129.08 500.95,129.19 500.33,129.31 499.71,129.43 499.08,129.56 498.45,129.70 497.83,129.84 497.20,129.99 496.57,130.15 495.94,130.32 495.31,130.50 494.68,130.69 494.05,130.89 493.42,131.10 492.80,131.32 492.18,131.56 491.56,131.81 490.95,132.07 490.35,132.36 489.75,132.66 489.17,132.98 488.60,133.32 488.04,133.68 487.50,134.06 486.98,134.46 486.47,134.88 485.99,135.32 485.52,135.78 485.08,136.27 484.66,136.77 484.26,137.28 483.88,137.81 483.52,138.36 483.19,138.91 482.87,139.48 482.58,140.05 482.30,140.63 482.03,141.22 481.78,141.81 481.55,142.41 481.33,143.01 481.12,143.60 480.92,144.20 480.73,144.80 480.56,145.40 480.39,146.00 480.23,146.60 480.08,147.20 479.94,147.80 479.80,148.39 479.67,148.99 479.55,149.58 479.44,150.17 479.33,150.76 479.22,151.35 479.13,151.94 479.04,152.53 478.95,153.12 478.88,153.70 478.80,154.28 478.74,154.87 478.68,155.45 478.62,156.03 478.57,156.61 478.53,157.19 478.49,157.77 478.46,158.35 478.44,158.93 478.42,159.51 478.40,160.09 478.39,160.67 478.39,161.25 478.39,161.83 478.40,162.41 478.42,162.99 478.44,163.57 478.46,164.15 478.49,164.73 478.53,165.31 478.57,165.89 478.62,166.47 478.68,167.05 478.74,167.63 478.80,168.22 478.88,168.80 478.95,169.38 479.04,169.97 479.13,170.56 479.22,171.15 479.33,171.74 479.44,172.33 479.55,172.92 479.67,173.51 479.80,174.11 479.94,174.70 480.08,175.30 480.23,175.90 480.39,176.50 480.56,177.10 480.73,177.70 480.92,178.30 481.12,178.90 481.33,179.49 481.55,180.09 481.78,180.69 482.03,181.28 482.30,181.87 482.58,182.45 482.87,183.02 483.19,183.59 483.52,184.14 483.88,184.69 484.26,185.22 484.66,185.73 485.08,186.23 485.52,186.72 485.99,187.18 486.47,187.62 486.98,188.04 487.50,188.44 488.04,188.82 488.60,189.18 489.17,189.52 489.75,189.84 490.35,190.14 490.95,190.43 491.56,190.69 492.18,190.94 492.80,191.18 493.42,191.40 494.05,191.61 494.68,191.81 495.31,192.00 495.94,192.18 496.57,192.35 497.20,192.51 497.83,192.66 498.45,192.80 499.08,192.94 499.71,193.07 500.33,193.19 500.95,193.31 501.57,193.42 502.19,193.52 502.81,193.62 503.43,193.71 504.05,193.80 504.66,193.88 505.28,193.95 505.89,194.02 506.50,194.08 507.11,194.14 507.72,194.19 508.33,194.24 508.94,194.28 509.55,194.31 510.16,194.34 510.77,194.37 511.38,194.39 511.98,194.40 512.59,194.41 513.20,194.41 513.81,194.41 514.42,194.40 515.02,194.39 515.63,194.37 516.24,194.34 516.85,194.31 517.46,194.28 518.07,194.24 518.68,194.19 519.29,194.14 519.90,194.08 520.51,194.02 521.12,193.95 521.74,193.88 522.35,193.80 522.97,193.71 523.59,193.62 524.21,193.52 524.83,193.42 525.45,193.31 526.07,193.19 526.69,193.07 527.32,192.94 527.95,192.80 528.57,192.66 529.20,192.51 529.83,192.35 530.46,192.18 531.09,192.00 531.72,191.81 532.35,191.61 532.98,191.40 533.60,191.18 534.22,190.94 534.84,190.69 535.45,190.43 536.05,190.14 536.65,189.84 537.23,189.52 537.80,189.18 538.36,188.82 538.90,188.44 539.42,188.04 539.93,187.62 540.41,187.18 540.88,186.72 541.32,186.23 541.74,185.73 542.14,185.22 542.52,184.69 542.88,184.14 543.21,183.59 543.53,183.02 543.82,182.45 544.10,181.87 544.37,181.28 544.62,180.69 544.85,180.09 545.07,179.49 545.28,178.90 545.48,178.30 545.67,177.70 545.84,177.10 546.01,176.50 546.17,175.90 546.32,175.30 546.46,174.70 546.60,174.11 546.73,173.51 546.85,172.92 546.96,172.33 547.07,171.74 547.18,171.15 547.27,170.56 547.36,169.97 547.45,169.38 547.52,168.80 547.60,168.22 547.66,167.63 547.72,167.05 547.78,166.47 547.83,165.89 547.87,165.31 547.91,164.73 547.94,164.15 547.96,163.57 547.98,162.99 548.00,162.41 548.01,161.83" fill="#5ef9c6"/>
<polygon points="546.35,161.25 546.35,160.70 546.34,160.15 546.33,159.60 546.31,159.04 546.29,158.49 546.27,157.94 546.24,157.39 546.20,156.83 546.16,156.28 546.11,155.72 546.06,155.16 546.01,154.61 545.95,154.05 545.88,153.49 545.81,152.92 545.74,152.36 545.66,151.80 545.57,151.23 545.48,150.66 545.38,150.09 545.28,149.52 545.17,148.94 545.06,148.37 544.94,147.79 544.81,147.21 544.67,146.63 544.53,146.04 544.37,145.46 544.21,144.87 544.04,144.29 543.85,143.70 543.66,143.12 543.45,142.54 543.22,141.96 542.98,141.38 542.73,140.81 542.45,140.25 542.16,139.69 541.85,139.15 541.51,138.62 541.15,138.10 540.77,137.60 540.37,137.11 539.95,136.64 539.50,136.19 539.03,135.77 538.54,135.36 538.03,134.98 537.50,134.62 536.96,134.28 536.40,133.96 535.83,133.66 535.24,133.38 534.65,133.12 534.05,132.88 533.45,132.65 532.84,132.43 532.23,132.24 531.62,132.05 531.00,131.87 530.39,131.71 529.77,131.55 529.16,131.41 528.55,131.27 527.94,131.14 527.33,131.01 526.72,130.90 526.12,130.79 525.52,130.69 524.91,130.59 524.32,130.50 523.72,130.41 523.12,130.33 522.53,130.25 521.94,130.18 521.35,130.11 520.76,130.05 520.17,129.99 519.59,129.94 519.00,129.89 518.42,129.85 517.84,129.81 517.26,129.78 516.68,129.75 516.10,129.72 515.52,129.70 514.94,129.69 514.36,129.68 513.78,129.67 513.20,129.67 512.62,129.67 512.04,129.68 511.46,129.69 510.88,129.70 510.30,129.72 509.72,129.75 509.14,129.78 508.56,129.81 507.98,129.85 507.40,129.89 506.81,129.94 506.23,129.99 505.64,130.05 505.05,130.11 504.46,130.18 503.87,130.25 503.28,130.33 502.68,130.41 502.08,130.50 501.49,130.59 500.88,130.69 500.28,130.79 499.68,130.90 499.07,131.01 498.46,131.14 497.85,131.27 497.24,131.41 496.63,131.55 496.01,131.71 495.40,131.87 494.78,132.05 494.17,132.24 493.56,132.43 492.95,132.65 492.35,132.88 491.75,133.12 491.16,133.38 490.57,133.66 490.00,133.96 489.44,134.28 488.90,134.62 488.37,134.98 487.86,135.36 487.37,135.77 486.90,136.19 486.45,136.64 486.03,137.11 485.63,137.60 485.25,138.10 484.89,138.62 484.55,139.15 484.24,139.69 483.95,140.25 483.67,140.81 483.42,141.38 483.18,141.96 482.95,142.54 482.74,143.12 482.55,143.70 482.36,144.29 482.19,144.87 482.03,145.46 481.87,146.04 481.73,146.63 481.59,147.21 481.46,147.79 481.34,148.37 481.23,148.94 481.12,149.52 481.02,150.09 480.92,150.66 480.83,151.23 480.74,151.80 480.66,152.36 480.59,152.92 480.52,153.49 480.45,154.05 480.39,154.61 480.34,155.16 480.29,155.72 480.24,156.28 480.20,156.83 480.16,157.39 480.13,157.94 480.11,158.49 480.09,159.04 480.07,159.60 480.06,160.15 480.05,160.70 480.05,161.25 480.05,161.80 480.06,162.35 480.07,162.90 480.09,163.46 480.11,164.01 480.13,164.56 480.16,165.11 480.20,165.67 480.24,166.22 480.29,166.78 480.34,167.34 480.39,167.89 480.45,168.45 480.52,169.01 480.59,169.58 480.66,170.14 480.74,170.70 480.83,171.27 480.92,171.84 481.02,172.41 481.12,172.98 481.23,173.56 481.34,174.13 481.46,174.71 481.59,175.29 481.73,175.87 481.87,176.46 482.03,177.04 482.19,177.63 482.36,178.21 482.55,178.80 482.74,179.38 482.95,179.96 483.18,180.54 483.42,181.12 483.67,181.69 483.95,182.25 484.24,182.81 484.55,183.35 484.89,183.88 485.25,184.40 485.63,184.90 486.03,185.39 486.45,185.86 486.90,186.31 487.37,186.73 487.86,187.14 488.37,187.52 488.90,187.88 489.44,188.22 490.00,188.54 490.57,188.84 491.16,189.12 491.75,189.38 492.35,189.62 492.95,189.85 493.56,190.07 494.17,190.26 494.78,190.45 495.40,190.63 496.01,190.79 496.63,190.95 497.24,191.09 497.85,191.23 498.46,191.36 499.07,191.49 499.68,191.60 500.28,191.71 500.88,191.81 501.49,191.91 502.08,192.00 502.68,192.09 503.28,192.17 503.87,192.25 504.46,192.32 505.05,192.39 505.64,192.45 506.23,192.51 506.81,192.56 507.40,192.61 507.98,192.65 508.56,192.69 509.14,192.72 509.72,192.75 510.30,192.78 510.88,192.80 511.46,192.81 512.04,192.82 512.62,192.83 513.20,192.83 513.78,192.83 514.36,192.82 514.94,192.81 515.52,192.80 516.10,192.78 516.68,192.75 517.26,192.72 517.84,192.69 518.42,192.65 519.00,192.61 519.59,192.56 520.17,192.51 520.76,192.45 521.35,192.39 521.94,192.32 522.53,192.25 523.12,192.17 523.72,192.09 524.32,192.00 524.91,191.91 525.52,191.81 526.12,191.71 526.72,191.60 527.33,191.49 527.94,191.36 528.55,191.23 529.16,191.09 529.77,190.95 530.39,190.79 531.00,190.63 531.62,190.45 532.23,190.26 532.84,190.07 533.45,189.85 534.05,189.62 534.65,189.38 535.24,189.12 535.83,188.84 536.40,188.54 536.96,188.22 537.50,187.88 538.03,187.52 538.54,187.14 539.03,186.73 539.50,186.31 539.95,185.86 540.37,185.39 540.77,184.90 541.15,184.40 541.51,183.88 541.85,183.35 542.16,182.81 542.45,182.25 542.73,181.69 542.98,181.12 543.22,180.54 543.45,179.96 543.66,179.38 543.85,178.80 544.04,178.21 544.21,177.63 544.37,177.04 544.53,176.46 544.67,175.87 544.81,175.29 544.94,174.71 545.06,174.13 545.17,173.56 545.28,172.98 545.38,172.41 545.48,171.84 545.57,171.27 545.66,170.70 545.74,170.14 545.81,169.58 545.88,169.01 545.95,168.45 546.01,167.89 546.06,167.34 546.11,166.78 546.16,166.22 546.20,165.67 546.24,165.11 546.27,164.56 546.29,164.01 546.31,163.46 546.33,162.90 546.34,162.35 546.35,161.80" fill="#80ffb4"/>
<polygon points="544.49,161.25 544.49,160.73 544.48,160.21 544.47,159.69 544.46,159.17 544.44,158.65 544.42,158.12 544.40,157.60 544.37,157.08 544.34,156.55 544.30,156.02 544.27,155.50 544.22,154.97 544.18,154.44 544.13,153.90 544.07,153.37 544.01,152.83 543.95,152.29 543.89,151.75 543.81,151.21 543.74,150.66 543.66,150.11 543.57,149.56 543.48,149.01 543.38,148.45 543.28,147.89 543.17,147.33 543.05,146.76 542.92,146.19 542.79,145.63 542.64,145.06 542.48,144.49 542.31,143.92 542.13,143.35 541.94,142.78 541.72,142.22 541.49,141.66 541.25,141.11 540.98,140.57 540.69,140.04 540.38,139.52 540.05,139.02 539.69,138.53 539.31,138.05 538.90,137.60 538.47,137.17 538.02,136.76 537.55,136.38 537.05,136.01 536.54,135.67 536.01,135.35 535.46,135.06 534.90,134.78 534.34,134.53 533.76,134.29 533.17,134.08 532.58,133.87 531.99,133.69 531.39,133.51 530.79,133.35 530.20,133.20 529.60,133.06 529.00,132.93 528.41,132.81 527.82,132.70 527.23,132.59 526.64,132.50 526.05,132.40 525.47,132.32 524.89,132.23 524.31,132.16 523.74,132.08 523.17,132.02 522.60,131.95 522.04,131.89 521.47,131.84 520.91,131.79 520.35,131.74 519.79,131.69 519.24,131.65 518.68,131.62 518.13,131.58 517.58,131.55 517.03,131.53 516.48,131.51 515.93,131.49 515.39,131.47 514.84,131.46 514.29,131.45 513.75,131.44 513.20,131.44 512.65,131.44 512.11,131.45 511.56,131.46 511.01,131.47 510.47,131.49 509.92,131.51 509.37,131.53 508.82,131.55 508.27,131.58 507.72,131.62 507.16,131.65 506.61,131.69 506.05,131.74 505.49,131.79 504.93,131.84 504.36,131.89 503.80,131.95 503.23,132.02 502.66,132.08 502.09,132.16 501.51,132.23 500.93,132.32 500.35,132.40 499.76,132.50 499.17,132.59 498.58,132.70 497.99,132.81 497.40,132.93 496.80,133.06 496.20,133.20 495.61,133.35 495.01,133.51 494.41,133.69 493.82,133.87 493.23,134.08 492.64,134.29 492.06,134.53 491.50,134.78 490.94,135.06 490.39,135.35 489.86,135.67 489.35,136.01 488.85,136.38 488.38,136.76 487.93,137.17 487.50,137.60 487.09,138.05 486.71,138.53 486.35,139.02 486.02,139.52 485.71,140.04 485.42,140.57 485.15,141.11 484.91,141.66 484.68,142.22 484.46,142.78 484.27,143.35 484.09,143.92 483.92,144.49 483.76,145.06 483.61,145.63 483.48,146.19 483.35,146.76 483.23,147.33 483.12,147.89 483.02,148.45 482.92,149.01 482.83,149.56 482.74,150.11 482.66,150.66 482.59,151.21 482.51,151.75 482.45,152.29 482.39,152.83 482.33,153.37 482.27,153.90 482.22,154.44 482.18,154.97 482.13,155.50 482.10,156.02 482.06,156.55 482.03,157.08 482.00,157.60 481.98,158.12 481.96,158.65 481.94,159.17 481.93,159.69 481.92,160.21 481.91,160.73 481.91,161.25 481.91,161.77 481.92,162.29 481.93,162.81 481.94,163.33 481.96,163.85 481.98,164.38 482.00,164.90 482.03,165.42 482.06,165.95 482.10,166.48 482.13,167.00 482.18,167.53 482.22,168.06 482.27,168.60 482.33,169.13 482.39,169.67 482.45,170.21 482.51,170.75 482.59,171.29 482.66,171.84 482.74,172.39 482.83,172.94 482.92,173.49 483.02,174.05 483.12,174.61 483.23,175.17 483.35,175.74 483.48,176.31 483.61,176.87 483.76,177.44 483.92,178.01 484.09,178.58 484.27,179.15 484.46,179.72 484.68,180.28 484.91,180.84 485.15,181.39 485.42,181.93 485.71,182.46 486.02,182.98 486.35,183.48 486.71,183.97 487.09,184.45 487.50,184.90 487.93,185.33 488.38,185.74 488.85,186.12 489.35,186.49 489.86,186.83 490.39,187.15 490.94,187.44 491.50,187.72 492.06,187.97 492.64,188.21 493.23,188.42 493.82,188.63 494.41,188.81 495.01,188.99 495.61,189.15 496.20,189.30 496.80,189.44 497.40,189.57 497.99,189.69 498.58,189.80 499.17,189.91 499.76,190.00 500.35,190.10 500.93,190.18 501.51,190.27 502.09,190.34 502.66,190.42 503.23,190.48 503.80,190.55 504.36,190.61 504.93,190.66 505.49,190.71 506.05,190.76 506.61,190.81 507.16,190.85 507.72,190.88 508.27,190.92 508.82,190.95 509.37,190.97 509.92,190.99 510.47,191.01 511.01,191.03 511.56,191.04 512.11,191.05 512.65,191.06 513.20,191.06 513.75,191.06 514.29,191.05 514.84,191.04 515.39,191.03 515.93,191.01 516.48,190.99 517.03,190.97 517.58,190.95 518.13,190.92 518.68,190.88 519.24,190.85 519.79,190.81 520.35,190.76 520.91,190.71 521.47,190.66 522.04,190.61 522.60,190.55 523.17,190.48 523.74,190.42 524.31,190.34 524.89,190.27 525.47,190.18 526.05,190.10 526.64,190.00 527.23,189.91 527.82,189.80 528.41,189.69 529.00,189.57 529.60,189.44 530.20,189.30 530.79,189.15 531.39,188.99 531.99,188.81 532.58,188.63 533.17,188.42 533.76,188.21 534.34,187.97 534.90,187.72 535.46,187.44 536.01,187.15 536.54,186.83 537.05,186.49 537.55,186.12 538.02,185.74 538.47,185.33 538.90,184.90 539.31,184.45 539.69,183.97 540.05,183.48 540.38,182.98 540.69,182.46 540.98,181.93 541.25,181.39 541.49,180.84 541.72,180.28 541.94,179.72 542.13,179.15 542.31,178.58 542.48,178.01 542.64,177.44 542.79,176.87 542.92,176.31 543.05,175.74 543.17,175.17 543.28,174.61 543.38,174.05 543.48,173.49 543.57,172.94 543.66,172.39 543.74,171.84 543.81,171.29 543.89,170.75 543.95,170.21 544.01,169.67 544.07,169.13 544.13,168.60 544.18,168.06 544.22,167.53 544.27,167.00 544.30,166.48 544.34,165.95 544.37,165.42 544.40,164.90 544.42,164.38 544.44,163.85 544.46,163.33 544.47,162.81 544.48,162.29 544.49,161.77" fill="#a2f9a0"/>
<polygon points="542.78,161.25 542.78,160.76 542.77,160.27 542.77,159.77 542.76,159.28 542.74,158.79 542.73,158.29 542.71,157.80 542.69,157.30 542.67,156.80 542.64,156.30 542.62,155.80 542.59,155.30 542.55,154.79 542.51,154.29 542.47,153.78 542.43,153.26 542.38,152.75 542.34,152.23 542.28,151.71 542.22,151.19 542.16,150.66 542.10,150.13 542.03,149.59 541.95,149.05 541.87,148.51 541.78,147.97 541.69,147.42 541.58,146.87 541.47,146.32 541.35,145.77 541.22,145.21 541.07,144.66 540.92,144.10 540.75,143.55 540.56,143.00 540.35,142.45 540.13,141.92 539.89,141.39 539.62,140.87 539.33,140.36 539.02,139.87 538.68,139.39 538.32,138.93 537.93,138.49 537.52,138.08 537.08,137.69 536.63,137.32 536.15,136.97 535.65,136.65 535.13,136.35 534.60,136.08 534.05,135.82 533.49,135.59 532.93,135.38 532.36,135.18 531.78,135.01 531.20,134.84 530.62,134.69 530.03,134.56 529.45,134.43 528.87,134.32 528.29,134.21 527.71,134.11 527.14,134.02 526.57,133.94 526.00,133.86 525.44,133.79 524.88,133.72 524.32,133.66 523.76,133.60 523.21,133.54 522.67,133.49 522.12,133.45 521.58,133.40 521.04,133.36 520.51,133.32 519.98,133.29 519.45,133.25 518.92,133.23 518.39,133.20 517.87,133.17 517.34,133.15 516.82,133.13 516.30,133.12 515.78,133.10 515.27,133.09 514.75,133.08 514.23,133.08 513.72,133.07 513.20,133.07 512.68,133.07 512.17,133.08 511.65,133.08 511.13,133.09 510.62,133.10 510.10,133.12 509.58,133.13 509.06,133.15 508.53,133.17 508.01,133.20 507.48,133.23 506.95,133.25 506.42,133.29 505.89,133.32 505.36,133.36 504.82,133.40 504.28,133.45 503.73,133.49 503.19,133.54 502.64,133.60 502.08,133.66 501.52,133.72 500.96,133.79 500.40,133.86 499.83,133.94 499.26,134.02 498.69,134.11 498.11,134.21 497.53,134.32 496.95,134.43 496.37,134.56 495.78,134.69 495.20,134.84 494.62,135.01 494.04,135.18 493.47,135.38 492.91,135.59 492.35,135.82 491.80,136.08 491.27,136.35 490.75,136.65 490.25,136.97 489.77,137.32 489.32,137.69 488.88,138.08 488.47,138.49 488.08,138.93 487.72,139.39 487.38,139.87 487.07,140.36 486.78,140.87 486.51,141.39 486.27,141.92 486.05,142.45 485.84,143.00 485.65,143.55 485.48,144.10 485.33,144.66 485.18,145.21 485.05,145.77 484.93,146.32 484.82,146.87 484.71,147.42 484.62,147.97 484.53,148.51 484.45,149.05 484.37,149.59 484.30,150.13 484.24,150.66 484.18,151.19 484.12,151.71 484.06,152.23 484.02,152.75 483.97,153.26 483.93,153.78 483.89,154.29 483.85,154.79 483.81,155.30 483.78,155.80 483.76,156.30 483.73,156.80 483.71,157.30 483.69,157.80 483.67,158.29 483.66,158.79 483.64,159.28 483.63,159.77 483.63,160.27 483.62,160.76 483.62,161.25 483.62,161.74 483.63,162.23 483.63,162.73 483.64,163.22 483.66,163.71 483.67,164.21 483.69,164.70 483.71,165.20 483.73,165.70 483.76,166.20 483.78,166.70 483.81,167.20 483.85,167.71 483.89,168.21 483.93,168.72 483.97,169.24 484.02,169.75 484.06,170.27 484.12,170.79 484.18,171.31 484.24,171.84 484.30,172.37 484.37,172.91 484.45,173.45 484.53,173.99 484.62,174.53 484.71,175.08 484.82,175.63 484.93,176.18 485.05,176.73 485.18,177.29 485.33,177.84 485.48,178.40 485.65,178.95 485.84,179.50 486.05,180.05 486.27,180.58 486.51,181.11 486.78,181.63 487.07,182.14 487.38,182.63 487.72,183.11 488.08,183.57 488.47,184.01 488.88,184.42 489.32,184.81 489.77,185.18 490.25,185.53 490.75,185.85 491.27,186.15 491.80,186.42 492.35,186.68 492.91,186.91 493.47,187.12 494.04,187.32 494.62,187.49 495.20,187.66 495.78,187.81 496.37,187.94 496.95,188.07 497.53,188.18 498.11,188.29 498.69,188.39 499.26,188.48 499.83,188.56 500.40,188.64 500.96,188.71 501.52,188.78 502.08,188.84 502.64,188.90 503.19,188.96 503.73,189.01 504.28,189.05 504.82,189.10 505.36,189.14 505.89,189.18 506.42,189.21 506.95,189.25 507.48,189.27 508.01,189.30 508.53,189.33 509.06,189.35 509.58,189.37 510.10,189.38 510.62,189.40 511.13,189.41 511.65,189.42 512.17,189.42 512.68,189.43 513.20,189.43 513.72,189.43 514.23,189.42 514.75,189.42 515.27,189.41 515.78,189.40 516.30,189.38 516.82,189.37 517.34,189.35 517.87,189.33 518.39,189.30 518.92,189.27 519.45,189.25 519.98,189.21 520.51,189.18 521.04,189.14 521.58,189.10 522.12,189.05 522.67,189.01 523.21,188.96 523.76,188.90 524.32,188.84 524.88,188.78 525.44,188.71 526.00,188.64 526.57,188.56 527.14,188.48 527.71,188.39 528.29,188.29 528.87,188.18 529.45,188.07 530.03,187.94 530.62,187.81 531.20,187.66 531.78,187.49 532.36,187.32 532.93,187.12 533.49,186.91 534.05,186.68 534.60,186.42 535.13,186.15 535.65,185.85 536.15,185.53 536.63,185.18 537.08,184.81 537.52,184.42 537.93,184.01 538.32,183.57 538.68,183.11 539.02,182.63 539.33,182.14 539.62,181.63 539.89,181.11 540.13,180.58 540.35,180.05 540.56,179.50 540.75,178.95 540.92,178.40 541.07,177.84 541.22,177.29 541.35,176.73 541.47,176.18 541.58,175.63 541.69,175.08 541.78,174.53 541.87,173.99 541.95,173.45 542.03,172.91 542.10,172.37 542.16,171.84 542.22,171.31 542.28,170.79 542.34,170.27 542.38,169.75 542.43,169.24 542.47,168.72 542.51,168.21 542.55,167.71 542.59,167.20 542.62,166.70 542.64,166.20 542.67,165.70 542.69,165.20 542.71,164.70 542.73,164.21 542.74,163.71 542.76,163.22 542.77,162.73 542.77,162.23 542.78,161.74" fill="#c3e98b"/>
<polygon points="541.85,161.25 541.84,160.77 541.84,160.30 541.84,159.82 541.83,159.34 541.82,158.86 541.81,158.39 541.79,157.91 541.78,157.42 541.76,156.94 541.74,156.46 541.72,155.97 541.69,155.48 541.67,154.99 541.64,154.50 541.60,154.00 541.57,153.50 541.53,153.00 541.49,152.49 541.45,151.98 541.40,151.47 541.35,150.96 541.30,150.44 541.24,149.91 541.17,149.38 541.10,148.85 541.03,148.32 540.95,147.78 540.86,147.24 540.76,146.70 540.65,146.15 540.53,145.60 540.40,145.06 540.26,144.51 540.10,143.96 539.93,143.42 539.74,142.88 539.53,142.35 539.30,141.82 539.05,141.31 538.77,140.81 538.47,140.32 538.14,139.86 537.79,139.40 537.41,138.98 537.01,138.57 536.58,138.18 536.13,137.82 535.66,137.49 535.16,137.18 534.65,136.89 534.13,136.63 533.59,136.39 533.04,136.17 532.48,135.97 531.92,135.78 531.35,135.62 530.77,135.47 530.20,135.33 529.62,135.21 529.05,135.10 528.48,134.99 527.91,134.90 527.34,134.82 526.77,134.74 526.21,134.67 525.65,134.60 525.10,134.54 524.55,134.48 524.01,134.43 523.46,134.38 522.93,134.34 522.39,134.30 521.86,134.26 521.33,134.22 520.81,134.19 520.29,134.16 519.77,134.13 519.26,134.11 518.74,134.08 518.23,134.06 517.72,134.04 517.22,134.02 516.71,134.01 516.21,134.00 515.70,133.98 515.20,133.98 514.70,133.97 514.20,133.96 513.70,133.96 513.20,133.96 512.70,133.96 512.20,133.96 511.70,133.97 511.20,133.98 510.70,133.98 510.19,134.00 509.69,134.01 509.18,134.02 508.68,134.04 508.17,134.06 507.66,134.08 507.14,134.11 506.63,134.13 506.11,134.16 505.59,134.19 505.07,134.22 504.54,134.26 504.01,134.30 503.47,134.34 502.94,134.38 502.39,134.43 501.85,134.48 501.30,134.54 500.75,134.60 500.19,134.67 499.63,134.74 499.06,134.82 498.49,134.90 497.92,134.99 497.35,135.10 496.78,135.21 496.20,135.33 495.63,135.47 495.05,135.62 494.48,135.78 493.92,135.97 493.36,136.17 492.81,136.39 492.27,136.63 491.75,136.89 491.24,137.18 490.74,137.49 490.27,137.82 489.82,138.18 489.39,138.57 488.99,138.98 488.61,139.40 488.26,139.86 487.93,140.32 487.63,140.81 487.35,141.31 487.10,141.82 486.87,142.35 486.66,142.88 486.47,143.42 486.30,143.96 486.14,144.51 486.00,145.06 485.87,145.60 485.75,146.15 485.64,146.70 485.54,147.24 485.45,147.78 485.37,148.32 485.30,148.85 485.23,149.38 485.16,149.91 485.10,150.44 485.05,150.96 485.00,151.47 484.95,151.98 484.91,152.49 484.87,153.00 484.83,153.50 484.80,154.00 484.76,154.50 484.73,154.99 484.71,155.48 484.68,155.97 484.66,156.46 484.64,156.94 484.62,157.42 484.61,157.91 484.59,158.39 484.58,158.86 484.57,159.34 484.56,159.82 484.56,160.30 484.56,160.77 484.55,161.25 484.56,161.73 484.56,162.20 484.56,162.68 484.57,163.16 484.58,163.64 484.59,164.11 484.61,164.59 484.62,165.08 484.64,165.56 484.66,166.04 484.68,166.53 484.71,167.02 484.73,167.51 484.76,168.00 484.80,168.50 484.83,169.00 484.87,169.50 484.91,170.01 484.95,170.52 485.00,171.03 485.05,171.54 485.10,172.06 485.16,172.59 485.23,173.12 485.30,173.65 485.37,174.18 485.45,174.72 485.54,175.26 485.64,175.80 485.75,176.35 485.87,176.90 486.00,177.44 486.14,177.99 486.30,178.54 486.47,179.08 486.66,179.62 486.87,180.15 487.10,180.68 487.35,181.19 487.63,181.69 487.93,182.18 488.26,182.64 488.61,183.10 488.99,183.52 489.39,183.93 489.82,184.32 490.27,184.68 490.74,185.01 491.24,185.32 491.75,185.61 492.27,185.87 492.81,186.11 493.36,186.33 493.92,186.53 494.48,186.72 495.05,186.88 495.63,187.03 496.20,187.17 496.78,187.29 497.35,187.40 497.92,187.51 498.49,187.60 499.06,187.68 499.63,187.76 500.19,187.83 500.75,187.90 501.30,187.96 501.85,188.02 502.39,188.07 502.94,188.12 503.47,188.16 504.01,188.20 504.54,188.24 505.07,188.28 505.59,188.31 506.11,188.34 506.63,188.37 507.14,188.39 507.66,188.42 508.17,188.44 508.68,188.46 509.18,188.48 509.69,188.49 510.19,188.50 510.70,188.52 511.20,188.52 511.70,188.53 512.20,188.54 512.70,188.54 513.20,188.54 513.70,188.54 514.20,188.54 514.70,188.53 515.20,188.52 515.70,188.52 516.21,188.50 516.71,188.49 517.22,188.48 517.72,188.46 518.23,188.44 518.74,188.42 519.26,188.39 519.77,188.37 520.29,188.34 520.81,188.31 521.33,188.28 521.86,188.24 522.39,188.20 522.93,188.16 523.46,188.12 524.01,188.07 524.55,188.02 525.10,187.96 525.65,187.90 526.21,187.83 526.77,187.76 527.34,187.68 527.91,187.60 528.48,187.51 529.05,187.40 529.62,187.29 530.20,187.17 530.77,187.03 531.35,186.88 531.92,186.72 532.48,186.53 533.04,186.33 533.59,186.11 534.13,185.87 534.65,185.61 535.16,185.32 535.66,185.01 536.13,184.68 536.58,184.32 537.01,183.93 537.41,183.52 537.79,183.10 538.14,182.64 538.47,182.18 538.77,181.69 539.05,181.19 539.30,180.68 539.53,180.15 539.74,179.62 539.93,179.08 540.10,178.54 540.26,177.99 540.40,177.44 540.53,176.90 540.65,176.35 540.76,175.80 540.86,175.26 540.95,174.72 541.03,174.18 541.10,173.65 541.17,173.12 541.24,172.59 541.30,172.06 541.35,171.54 541.40,171.03 541.45,170.52 541.49,170.01 541.53,169.50 541.57,169.00 541.60,168.50 541.64,168.00 541.67,167.51 541.69,167.02 541.72,166.53 541.74,166.04 541.76,165.56 541.78,165.08 541.79,164.59 541.81,164.11 541.82,163.64 541.83,163.16 541.84,162.68 541.84,162.20 541.84,161.73" fill="#e5ce74"/>
<polygon points="540.96,161.25 540.96,160.79 540.96,160.33 540.96,159.86 540.95,159.40 540.95,158.94 540.94,158.47 540.93,158.01 540.91,157.54 540.90,157.07 540.89,156.60 540.87,156.13 540.85,155.65 540.83,155.17 540.81,154.69 540.78,154.21 540.76,153.72 540.73,153.23 540.70,152.74 540.66,152.24 540.63,151.74 540.59,151.23 540.54,150.73 540.50,150.21 540.44,149.69 540.39,149.17 540.32,148.65 540.25,148.12 540.18,147.58 540.09,147.05 540.00,146.51 539.89,145.97 539.78,145.43 539.65,144.89 539.50,144.35 539.34,143.81 539.17,143.28 538.97,142.75 538.75,142.23 538.51,141.72 538.24,141.23 537.95,140.75 537.64,140.29 537.30,139.84 536.93,139.42 536.53,139.02 536.11,138.65 535.67,138.29 535.20,137.97 534.72,137.67 534.21,137.39 533.69,137.14 533.16,136.91 532.62,136.70 532.07,136.51 531.51,136.34 530.94,136.19 530.38,136.05 529.81,135.93 529.24,135.82 528.67,135.72 528.11,135.63 527.54,135.55 526.98,135.48 526.43,135.41 525.88,135.35 525.33,135.30 524.79,135.25 524.25,135.20 523.71,135.16 523.18,135.12 522.66,135.09 522.13,135.05 521.62,135.02 521.10,135.00 520.59,134.97 520.08,134.95 519.58,134.93 519.08,134.91 518.58,134.89 518.08,134.87 517.59,134.86 517.10,134.85 516.60,134.83 516.12,134.83 515.63,134.82 515.14,134.81 514.65,134.81 514.17,134.80 513.68,134.80 513.20,134.80 512.72,134.80 512.23,134.80 511.75,134.81 511.26,134.81 510.77,134.82 510.28,134.83 509.80,134.83 509.30,134.85 508.81,134.86 508.32,134.87 507.82,134.89 507.32,134.91 506.82,134.93 506.32,134.95 505.81,134.97 505.30,135.00 504.78,135.02 504.27,135.05 503.74,135.09 503.22,135.12 502.69,135.16 502.15,135.20 501.61,135.25 501.07,135.30 500.52,135.35 499.97,135.41 499.42,135.48 498.86,135.55 498.29,135.63 497.73,135.72 497.16,135.82 496.59,135.93 496.02,136.05 495.46,136.19 494.89,136.34 494.33,136.51 493.78,136.70 493.24,136.91 492.71,137.14 492.19,137.39 491.68,137.67 491.20,137.97 490.73,138.29 490.29,138.65 489.87,139.02 489.47,139.42 489.10,139.84 488.76,140.29 488.45,140.75 488.16,141.23 487.89,141.72 487.65,142.23 487.43,142.75 487.23,143.28 487.06,143.81 486.90,144.35 486.75,144.89 486.62,145.43 486.51,145.97 486.40,146.51 486.31,147.05 486.22,147.58 486.15,148.12 486.08,148.65 486.01,149.17 485.96,149.69 485.90,150.21 485.86,150.73 485.81,151.23 485.77,151.74 485.74,152.24 485.70,152.74 485.67,153.23 485.64,153.72 485.62,154.21 485.59,154.69 485.57,155.17 485.55,155.65 485.53,156.13 485.51,156.60 485.50,157.07 485.49,157.54 485.47,158.01 485.46,158.47 485.45,158.94 485.45,159.40 485.44,159.86 485.44,160.33 485.44,160.79 485.44,161.25 485.44,161.71 485.44,162.17 485.44,162.64 485.45,163.10 485.45,163.56 485.46,164.03 485.47,164.49 485.49,164.96 485.50,165.43 485.51,165.90 485.53,166.37 485.55,166.85 485.57,167.33 485.59,167.81 485.62,168.29 485.64,168.78 485.67,169.27 485.70,169.76 485.74,170.26 485.77,170.76 485.81,171.27 485.86,171.77 485.90,172.29 485.96,172.81 486.01,173.33 486.08,173.85 486.15,174.38 486.22,174.92 486.31,175.45 486.40,175.99 486.51,176.53 486.62,177.07 486.75,177.61 486.90,178.15 487.06,178.69 487.23,179.22 487.43,179.75 487.65,180.27 487.89,180.78 488.16,181.27 488.45,181.75 488.76,182.21 489.10,182.66 489.47,183.08 489.87,183.48 490.29,183.85 490.73,184.21 491.20,184.53 491.68,184.83 492.19,185.11 492.71,185.36 493.24,185.59 493.78,185.80 494.33,185.99 494.89,186.16 495.46,186.31 496.02,186.45 496.59,186.57 497.16,186.68 497.73,186.78 498.29,186.87 498.86,186.95 499.42,187.02 499.97,187.09 500.52,187.15 501.07,187.20 501.61,187.25 502.15,187.30 502.69,187.34 503.22,187.38 503.74,187.41 504.27,187.45 504.78,187.48 505.30,187.50 505.81,187.53 506.32,187.55 506.82,187.57 507.32,187.59 507.82,187.61 508.32,187.63 508.81,187.64 509.30,187.65 509.80,187.67 510.28,187.67 510.77,187.68 511.26,187.69 511.75,187.69 512.23,187.70 512.72,187.70 513.20,187.70 513.68,187.70 514.17,187.70 514.65,187.69 515.14,187.69 515.63,187.68 516.12,187.67 516.60,187.67 517.10,187.65 517.59,187.64 518.08,187.63 518.58,187.61 519.08,187.59 519.58,187.57 520.08,187.55 520.59,187.53 521.10,187.50 521.62,187.48 522.13,187.45 522.66,187.41 523.18,187.38 523.71,187.34 524.25,187.30 524.79,187.25 525.33,187.20 525.88,187.15 526.43,187.09 526.98,187.02 527.54,186.95 528.11,186.87 528.67,186.78 529.24,186.68 529.81,186.57 530.38,186.45 530.94,186.31 531.51,186.16 532.07,185.99 532.62,185.80 533.16,185.59 533.69,185.36 534.21,185.11 534.72,184.83 535.20,184.53 535.67,184.21 536.11,183.85 536.53,183.48 536.93,183.08 537.30,182.66 537.64,182.21 537.95,181.75 538.24,181.27 538.51,180.78 538.75,180.27 538.97,179.75 539.17,179.22 539.34,178.69 539.50,178.15 539.65,177.61 539.78,177.07 539.89,176.53 540.00,175.99 540.09,175.45 540.18,174.92 540.25,174.38 540.32,173.85 540.39,173.33 540.44,172.81 540.50,172.29 540.54,171.77 540.59,171.27 540.63,170.76 540.66,170.26 540.70,169.76 540.73,169.27 540.76,168.78 540.78,168.29 540.81,167.81 540.83,167.33 540.85,166.85 540.87,166.37 540.89,165.90 540.90,165.43 540.91,164.96 540.93,164.49 540.94,164.03 540.95,163.56 540.95,163.10 540.96,162.64 540.96,162.17 540.96,161.71" fill="#ffab5b"/>
<polygon points="539.10,161.25 539.10,160.82 539.10,160.39 539.10,159.96 539.10,159.52 539.09,159.09 539.09,158.66 539.09,158.22 539.09,157.78 539.08,157.34 539.08,156.90 539.07,156.46 539.07,156.01 539.06,155.56 539.05,155.11 539.04,154.65 539.03,154.19 539.02,153.73 539.01,153.26 539.00,152.79 538.98,152.31 538.96,151.83 538.94,151.34 538.92,150.85 538.89,150.35 538.86,149.85 538.82,149.35 538.78,148.84 538.73,148.32 538.67,147.80 538.60,147.28 538.52,146.75 538.44,146.23 538.33,145.70 538.22,145.17 538.09,144.65 537.93,144.13 537.76,143.62 537.57,143.11 537.35,142.61 537.11,142.13 536.85,141.67 536.55,141.22 536.23,140.79 535.88,140.38 535.51,140.00 535.10,139.64 534.68,139.31 534.23,139.00 533.76,138.72 533.27,138.47 532.76,138.24 532.24,138.03 531.71,137.85 531.17,137.69 530.62,137.54 530.07,137.42 529.52,137.30 528.97,137.21 528.42,137.12 527.87,137.05 527.32,136.99 526.77,136.93 526.23,136.88 525.69,136.84 525.16,136.81 524.64,136.78 524.12,136.75 523.60,136.73 523.09,136.71 522.58,136.69 522.08,136.67 521.59,136.66 521.09,136.65 520.61,136.64 520.12,136.63 519.65,136.62 519.17,136.61 518.70,136.61 518.23,136.60 517.76,136.60 517.30,136.59 516.84,136.59 516.38,136.59 515.92,136.58 515.47,136.58 515.01,136.58 514.56,136.58 514.10,136.58 513.65,136.58 513.20,136.57 512.75,136.58 512.30,136.58 511.84,136.58 511.39,136.58 510.93,136.58 510.48,136.58 510.02,136.59 509.56,136.59 509.10,136.59 508.64,136.60 508.17,136.60 507.70,136.61 507.23,136.61 506.75,136.62 506.28,136.63 505.79,136.64 505.31,136.65 504.81,136.66 504.32,136.67 503.82,136.69 503.31,136.71 502.80,136.73 502.28,136.75 501.76,136.78 501.24,136.81 500.71,136.84 500.17,136.88 499.63,136.93 499.08,136.99 498.53,137.05 497.98,137.12 497.43,137.21 496.88,137.30 496.33,137.42 495.78,137.54 495.23,137.69 494.69,137.85 494.16,138.03 493.64,138.24 493.13,138.47 492.64,138.72 492.17,139.00 491.72,139.31 491.30,139.64 490.89,140.00 490.52,140.38 490.17,140.79 489.85,141.22 489.55,141.67 489.29,142.13 489.05,142.61 488.83,143.11 488.64,143.62 488.47,144.13 488.31,144.65 488.18,145.17 488.07,145.70 487.96,146.23 487.88,146.75 487.80,147.28 487.73,147.80 487.67,148.32 487.62,148.84 487.58,149.35 487.54,149.85 487.51,150.35 487.48,150.85 487.46,151.34 487.44,151.83 487.42,152.31 487.40,152.79 487.39,153.26 487.38,153.73 487.37,154.19 487.36,154.65 487.35,155.11 487.34,155.56 487.33,156.01 487.33,156.46 487.32,156.90 487.32,157.34 487.31,157.78 487.31,158.22 487.31,158.66 487.31,159.09 487.30,159.52 487.30,159.96 487.30,160.39 487.30,160.82 487.30,161.25 487.30,161.68 487.30,162.11 487.30,162.54 487.30,162.98 487.31,163.41 487.31,163.84 487.31,164.28 487.31,164.72 487.32,165.16 487.32,165.60 487.33,166.04 487.33,166.49 487.34,166.94 487.35,167.39 487.36,167.85 487.37,168.31 487.38,168.77 487.39,169.24 487.40,169.71 487.42,170.19 487.44,170.67 487.46,171.16 487.48,171.65 487.51,172.15 487.54,172.65 487.58,173.15 487.62,173.66 487.67,174.18 487.73,174.70 487.80,175.22 487.88,175.75 487.96,176.27 488.07,176.80 488.18,177.33 488.31,177.85 488.47,178.37 488.64,178.88 488.83,179.39 489.05,179.89 489.29,180.37 489.55,180.83 489.85,181.28 490.17,181.71 490.52,182.12 490.89,182.50 491.30,182.86 491.72,183.19 492.17,183.50 492.64,183.78 493.13,184.03 493.64,184.26 494.16,184.47 494.69,184.65 495.23,184.81 495.78,184.96 496.33,185.08 496.88,185.20 497.43,185.29 497.98,185.38 498.53,185.45 499.08,185.51 499.63,185.57 500.17,185.62 500.71,185.66 501.24,185.69 501.76,185.72 502.28,185.75 502.80,185.77 503.31,185.79 503.82,185.81 504.32,185.83 504.81,185.84 505.31,185.85 505.79,185.86 506.28,185.87 506.75,185.88 507.23,185.89 507.70,185.89 508.17,185.90 508.64,185.90 509.10,185.91 509.56,185.91 510.02,185.91 510.48,185.92 510.93,185.92 511.39,185.92 511.84,185.92 512.30,185.92 512.75,185.92 513.20,185.93 513.65,185.92 514.10,185.92 514.56,185.92 515.01,185.92 515.47,185.92 515.92,185.92 516.38,185.91 516.84,185.91 517.30,185.91 517.76,185.90 518.23,185.90 518.70,185.89 519.17,185.89 519.65,185.88 520.12,185.87 520.61,185.86 521.09,185.85 521.59,185.84 522.08,185.83 522.58,185.81 523.09,185.79 523.60,185.77 524.12,185.75 524.64,185.72 525.16,185.69 525.69,185.66 526.23,185.62 526.77,185.57 527.32,185.51 527.87,185.45 528.42,185.38 528.97,185.29 529.52,185.20 530.07,185.08 530.62,184.96 531.17,184.81 531.71,184.65 532.24,184.47 532.76,184.26 533.27,184.03 533.76,183.78 534.23,183.50 534.68,183.19 535.10,182.86 535.51,182.50 535.88,182.12 536.23,181.71 536.55,181.28 536.85,180.83 537.11,180.37 537.35,179.89 537.57,179.39 537.76,178.88 537.93,178.37 538.09,177.85 538.22,177.33 538.33,176.80 538.44,176.27 538.52,175.75 538.60,175.22 538.67,174.70 538.73,174.18 538.78,173.66 538.82,173.15 538.86,172.65 538.89,172.15 538.92,171.65 538.94,171.16 538.96,170.67 538.98,170.19 539.00,169.71 539.01,169.24 539.02,168.77 539.03,168.31 539.04,167.85 539.05,167.39 539.06,166.94 539.07,166.49 539.07,166.04 539.08,165.60 539.08,165.16 539.09,164.72 539.09,164.28 539.09,163.84 539.09,163.41 539.10,162.98 539.10,162.54 539.10,162.11 539.10,161.68" fill="#ff7f42"/>
<polygon points="536.72,161.25 536.72,160.86 536.72,160.47 536.72,160.08 536.72,159.68 536.73,159.29 536.73,158.89 536.74,158.50 536.75,158.10 536.76,157.70 536.76,157.29 536.77,156.88 536.78,156.47 536.79,156.06 536.81,155.64 536.82,155.22 536.83,154.79 536.84,154.36 536.85,153.93 536.86,153.49 536.87,153.04 536.88,152.59 536.89,152.13 536.89,151.67 536.90,151.20 536.90,150.72 536.89,150.24 536.88,149.75 536.86,149.26 536.84,148.77 536.81,148.26 536.77,147.76 536.72,147.25 536.65,146.74 536.57,146.23 536.47,145.73 536.35,145.22 536.22,144.73 536.06,144.24 535.87,143.76 535.66,143.29 535.42,142.84 535.16,142.41 534.86,142.00 534.54,141.62 534.19,141.25 533.81,140.92 533.40,140.61 532.97,140.33 532.52,140.08 532.05,139.85 531.56,139.65 531.06,139.47 530.54,139.32 530.02,139.19 529.49,139.08 528.96,138.99 528.43,138.91 527.89,138.85 527.36,138.80 526.83,138.76 526.30,138.73 525.78,138.70 525.27,138.69 524.76,138.68 524.25,138.67 523.75,138.67 523.26,138.68 522.77,138.68 522.29,138.69 521.82,138.70 521.35,138.71 520.89,138.72 520.43,138.73 519.98,138.74 519.53,138.75 519.09,138.76 518.65,138.77 518.21,138.78 517.78,138.79 517.35,138.80 516.93,138.81 516.51,138.82 516.09,138.82 515.67,138.83 515.26,138.83 514.85,138.84 514.43,138.84 514.02,138.84 513.61,138.84 513.20,138.85 512.79,138.84 512.38,138.84 511.97,138.84 511.55,138.84 511.14,138.83 510.73,138.83 510.31,138.82 509.89,138.82 509.47,138.81 509.05,138.80 508.62,138.79 508.19,138.78 507.75,138.77 507.31,138.76 506.87,138.75 506.42,138.74 505.97,138.73 505.51,138.72 505.05,138.71 504.58,138.70 504.11,138.69 503.63,138.68 503.14,138.68 502.65,138.67 502.15,138.67 501.64,138.68 501.13,138.69 500.62,138.70 500.10,138.73 499.57,138.76 499.04,138.80 498.51,138.85 497.97,138.91 497.44,138.99 496.91,139.08 496.38,139.19 495.86,139.32 495.34,139.47 494.84,139.65 494.35,139.85 493.88,140.08 493.43,140.33 493.00,140.61 492.59,140.92 492.21,141.25 491.86,141.62 491.54,142.00 491.24,142.41 490.98,142.84 490.74,143.29 490.53,143.76 490.34,144.24 490.18,144.73 490.05,145.22 489.93,145.73 489.83,146.23 489.75,146.74 489.68,147.25 489.63,147.76 489.59,148.26 489.56,148.77 489.54,149.26 489.52,149.75 489.51,150.24 489.50,150.72 489.50,151.20 489.51,151.67 489.51,152.13 489.52,152.59 489.53,153.04 489.54,153.49 489.55,153.93 489.56,154.36 489.57,154.79 489.58,155.22 489.59,155.64 489.61,156.06 489.62,156.47 489.63,156.88 489.64,157.29 489.64,157.70 489.65,158.10 489.66,158.50 489.67,158.89 489.67,159.29 489.68,159.68 489.68,160.08 489.68,160.47 489.68,160.86 489.68,161.25 489.68,161.64 489.68,162.03 489.68,162.42 489.68,162.82 489.67,163.21 489.67,163.61 489.66,164.00 489.65,164.40 489.64,164.80 489.64,165.21 489.63,165.62 489.62,166.03 489.61,166.44 489.59,166.86 489.58,167.28 489.57,167.71 489.56,168.14 489.55,168.57 489.54,169.01 489.53,169.46 489.52,169.91 489.51,170.37 489.51,170.83 489.50,171.30 489.50,171.78 489.51,172.26 489.52,172.75 489.54,173.24 489.56,173.73 489.59,174.24 489.63,174.74 489.68,175.25 489.75,175.76 489.83,176.27 489.93,176.77 490.05,177.28 490.18,177.77 490.34,178.26 490.53,178.74 490.74,179.21 490.98,179.66 491.24,180.09 491.54,180.50 491.86,180.88 492.21,181.25 492.59,181.58 493.00,181.89 493.43,182.17 493.88,182.42 494.35,182.65 494.84,182.85 495.34,183.03 495.86,183.18 496.38,183.31 496.91,183.42 497.44,183.51 497.97,183.59 498.51,183.65 499.04,183.70 499.57,183.74 500.10,183.77 500.62,183.80 501.13,183.81 501.64,183.82 502.15,183.83 502.65,183.83 503.14,183.82 503.63,183.82 504.11,183.81 504.58,183.80 505.05,183.79 505.51,183.78 505.97,183.77 506.42,183.76 506.87,183.75 507.31,183.74 507.75,183.73 508.19,183.72 508.62,183.71 509.05,183.70 509.47,183.69 509.89,183.68 510.31,183.68 510.73,183.67 511.14,183.67 511.55,183.66 511.97,183.66 512.38,183.66 512.79,183.66 513.20,183.65 513.61,183.66 514.02,183.66 514.43,183.66 514.85,183.66 515.26,183.67 515.67,183.67 516.09,183.68 516.51,183.68 516.93,183.69 517.35,183.70 517.78,183.71 518.21,183.72 518.65,183.73 519.09,183.74 519.53,183.75 519.98,183.76 520.43,183.77 520.89,183.78 521.35,183.79 521.82,183.80 522.29,183.81 522.77,183.82 523.26,183.82 523.75,183.83 524.25,183.83 524.76,183.82 525.27,183.81 525.78,183.80 526.30,183.77 526.83,183.74 527.36,183.70 527.89,183.65 528.43,183.59 528.96,183.51 529.49,183.42 530.02,183.31 530.54,183.18 531.06,183.03 531.56,182.85 532.05,182.65 532.52,182.42 532.97,182.17 533.40,181.89 533.81,181.58 534.19,181.25 534.54,180.88 534.86,180.50 535.16,180.09 535.42,179.66 535.66,179.21 535.87,178.74 536.06,178.26 536.22,177.77 536.35,177.28 536.47,176.77 536.57,176.27 536.65,175.76 536.72,175.25 536.77,174.74 536.81,174.24 536.84,173.73 536.86,173.24 536.88,172.75 536.89,172.26 536.90,171.78 536.90,171.30 536.89,170.83 536.89,170.37 536.88,169.91 536.87,169.46 536.86,169.01 536.85,168.57 536.84,168.14 536.83,167.71 536.82,167.28 536.81,166.86 536.79,166.44 536.78,166.03 536.77,165.62 536.76,165.21 536.76,164.80 536.75,164.40 536.74,164.00 536.73,163.61 536.73,163.21 536.72,162.82 536.72,162.42 536.72,162.03 536.72,161.64" fill="#ff4f28"/>
<polygon points="535.22,161.25 535.22,160.88 535.22,160.52 535.22,160.15 535.23,159.78 535.24,159.41 535.25,159.04 535.26,158.67 535.27,158.29 535.29,157.92 535.31,157.54 535.32,157.15 535.34,156.77 535.37,156.37 535.39,155.98 535.41,155.58 535.44,155.18 535.46,154.77 535.49,154.35 535.51,153.93 535.54,153.50 535.57,153.07 535.59,152.63 535.62,152.19 535.64,151.73 535.66,151.27 535.67,150.81 535.68,150.34 535.68,149.86 535.68,149.38 535.67,148.89 535.65,148.40 535.62,147.90 535.58,147.41 535.52,146.91 535.44,146.41 535.35,145.92 535.23,145.43 535.09,144.96 534.93,144.49 534.74,144.03 534.52,143.60 534.27,143.18 533.99,142.78 533.68,142.41 533.35,142.06 532.98,141.74 532.59,141.44 532.17,141.18 531.73,140.94 531.27,140.73 530.79,140.55 530.30,140.39 529.80,140.26 529.29,140.15 528.77,140.06 528.25,139.99 527.73,139.93 527.21,139.89 526.69,139.86 526.17,139.84 525.66,139.83 525.16,139.83 524.65,139.83 524.16,139.84 523.67,139.86 523.19,139.87 522.71,139.89 522.25,139.92 521.79,139.94 521.33,139.97 520.88,139.99 520.44,140.02 520.01,140.04 519.58,140.07 519.15,140.09 518.73,140.11 518.32,140.13 517.91,140.15 517.50,140.17 517.10,140.19 516.70,140.21 516.30,140.22 515.91,140.23 515.52,140.25 515.13,140.25 514.74,140.26 514.35,140.27 513.97,140.27 513.58,140.28 513.20,140.28 512.82,140.28 512.43,140.27 512.05,140.27 511.66,140.26 511.27,140.25 510.88,140.25 510.49,140.23 510.10,140.22 509.70,140.21 509.30,140.19 508.90,140.17 508.49,140.15 508.08,140.13 507.67,140.11 507.25,140.09 506.82,140.07 506.39,140.04 505.96,140.02 505.52,139.99 505.07,139.97 504.61,139.94 504.15,139.92 503.69,139.89 503.21,139.87 502.73,139.86 502.24,139.84 501.75,139.83 501.24,139.83 500.74,139.83 500.23,139.84 499.71,139.86 499.19,139.89 498.67,139.93 498.15,139.99 497.63,140.06 497.11,140.15 496.60,140.26 496.10,140.39 495.61,140.55 495.13,140.73 494.67,140.94 494.23,141.18 493.81,141.44 493.42,141.74 493.05,142.06 492.72,142.41 492.41,142.78 492.13,143.18 491.88,143.60 491.66,144.03 491.47,144.49 491.31,144.96 491.17,145.43 491.05,145.92 490.96,146.41 490.88,146.91 490.82,147.41 490.78,147.90 490.75,148.40 490.73,148.89 490.72,149.38 490.72,149.86 490.72,150.34 490.73,150.81 490.74,151.27 490.76,151.73 490.78,152.19 490.81,152.63 490.83,153.07 490.86,153.50 490.89,153.93 490.91,154.35 490.94,154.77 490.96,155.18 490.99,155.58 491.01,155.98 491.03,156.37 491.06,156.77 491.08,157.15 491.09,157.54 491.11,157.92 491.13,158.29 491.14,158.67 491.15,159.04 491.16,159.41 491.17,159.78 491.18,160.15 491.18,160.52 491.18,160.88 491.19,161.25 491.18,161.62 491.18,161.98 491.18,162.35 491.17,162.72 491.16,163.09 491.15,163.46 491.14,163.83 491.13,164.21 491.11,164.58 491.09,164.96 491.08,165.35 491.06,165.73 491.03,166.13 491.01,166.52 490.99,166.92 490.96,167.32 490.94,167.73 490.91,168.15 490.89,168.57 490.86,169.00 490.83,169.43 490.81,169.87 490.78,170.31 490.76,170.77 490.74,171.23 490.73,171.69 490.72,172.16 490.72,172.64 490.72,173.12 490.73,173.61 490.75,174.10 490.78,174.60 490.82,175.09 490.88,175.59 490.96,176.09 491.05,176.58 491.17,177.07 491.31,177.54 491.47,178.01 491.66,178.47 491.88,178.90 492.13,179.32 492.41,179.72 492.72,180.09 493.05,180.44 493.42,180.76 493.81,181.06 494.23,181.32 494.67,181.56 495.13,181.77 495.61,181.95 496.10,182.11 496.60,182.24 497.11,182.35 497.63,182.44 498.15,182.51 498.67,182.57 499.19,182.61 499.71,182.64 500.23,182.66 500.74,182.67 501.24,182.67 501.75,182.67 502.24,182.66 502.73,182.64 503.21,182.63 503.69,182.61 504.15,182.58 504.61,182.56 505.07,182.53 505.52,182.51 505.96,182.48 506.39,182.46 506.82,182.43 507.25,182.41 507.67,182.39 508.08,182.37 508.49,182.35 508.90,182.33 509.30,182.31 509.70,182.29 510.10,182.28 510.49,182.27 510.88,182.25 511.27,182.25 511.66,182.24 512.05,182.23 512.43,182.23 512.82,182.22 513.20,182.22 513.58,182.22 513.97,182.23 514.35,182.23 514.74,182.24 515.13,182.25 515.52,182.25 515.91,182.27 516.30,182.28 516.70,182.29 517.10,182.31 517.50,182.33 517.91,182.35 518.32,182.37 518.73,182.39 519.15,182.41 519.58,182.43 520.01,182.46 520.44,182.48 520.88,182.51 521.33,182.53 521.79,182.56 522.25,182.58 522.71,182.61 523.19,182.63 523.67,182.64 524.16,182.66 524.65,182.67 525.16,182.67 525.66,182.67 526.17,182.66 526.69,182.64 527.21,182.61 527.73,182.57 528.25,182.51 528.77,182.44 529.29,182.35 529.80,182.24 530.30,182.11 530.79,181.95 531.27,181.77 531.73,181.56 532.17,181.32 532.59,181.06 532.98,180.76 533.35,180.44 533.68,180.09 533.99,179.72 534.27,179.32 534.52,178.90 534.74,178.47 534.93,178.01 535.09,177.54 535.23,177.07 535.35,176.58 535.44,176.09 535.52,175.59 535.58,175.09 535.62,174.60 535.65,174.10 535.67,173.61 535.68,173.12 535.68,172.64 535.68,172.16 535.67,171.69 535.66,171.23 535.64,170.77 535.62,170.31 535.59,169.87 535.57,169.43 535.54,169.00 535.51,168.57 535.49,168.15 535.46,167.73 535.44,167.32 535.41,166.92 535.39,166.52 535.37,166.13 535.34,165.73 535.32,165.35 535.31,164.96 535.29,164.58 535.27,164.21 535.26,163.83 535.25,163.46 535.24,163.09 535.23,162.72 535.22,162.35 535.22,161.98 535.22,161.62" fill="#ff1b0d"/>
<rect x="461.4" y="111.9" width="103.60" height="98.70" fill="none" stroke="#777" stroke-width="0.6"/>
<line x1="461.40" y1="210.6" x2="461.40" y2="211.9" stroke="#555" stroke-width="0.5"/>
<line x1="460.09999999999997" y1="210.60" x2="461.4" y2="210.60" stroke="#555" stroke-width="0.5"/>
<text x="461.40" y="216.60" text-anchor="middle" font-size="4.4" fill="#333">0</text>
<text x="459.20" y="212.10" text-anchor="end" font-size="4.4" fill="#333">0</text>
<line x1="474.35" y1="210.6" x2="474.35" y2="211.9" stroke="#555" stroke-width="0.5"/>
<line x1="460.09999999999997" y1="198.26" x2="461.4" y2="198.26" stroke="#555" stroke-width="0.5"/>
<text x="474.35" y="216.60" text-anchor="middle" font-size="4.4" fill="#333">100</text>
<text x="459.20" y="199.76" text-anchor="end" font-size="4.4" fill="#333">100</text>
<line x1="487.30" y1="210.6" x2="487.30" y2="211.9" stroke="#555" stroke-width="0.5"/>
<line x1="460.09999999999997" y1="185.93" x2="461.4" y2="185.93" stroke="#555" stroke-width="0.5"/>
<text x="487.30" y="216.60" text-anchor="middle" font-size="4.4" fill="#333">200</text>
<text x="459.20" y="187.43" text-anchor="end" font-size="4.4" fill="#333">200</text>
<line x1="500.25" y1="210.6" x2="500.25" y2="211.9" stroke="#555" stroke-width="0.5"/>
<line x1="460.09999999999997" y1="173.59" x2="461.4" y2="173.59" stroke="#555" stroke-width="0.5"/>
<text x="500.25" y="216.60" text-anchor="middle" font-size="4.4" fill="#333">300</text>
<text x="459.20" y="175.09" text-anchor="end" font-size="4.4" fill="#333">300</text>
<line x1="513.20" y1="210.6" x2="513.20" y2="211.9" stroke="#555" stroke-width="0.5"/>
<line x1="460.09999999999997" y1="161.25" x2="461.4" y2="161.25" stroke="#555" stroke-width="0.5"/>
<text x="513.20" y="216.60" text-anchor="middle" font-size="4.4" fill="#333">400</text>
<text x="459.20" y="162.75" text-anchor="end" font-size="4.4" fill="#333">400</text>
<line x1="526.15" y1="210.6" x2="526.15" y2="211.9" stroke="#555" stroke-width="0.5"/>
<line x1="460.09999999999997" y1="148.91" x2="461.4" y2="148.91" stroke="#555" stroke-width="0.5"/>
<text x="526.15" y="216.60" text-anchor="middle" font-size="4.4" fill="#333">500</text>
<text x="459.20" y="150.41" text-anchor="end" font-size="4.4" fill="#333">500</text>
<line x1="539.10" y1="210.6" x2="539.10" y2="211.9" stroke="#555" stroke-width="0.5"/>
<line x1="460.09999999999997" y1="136.57" x2="461.4" y2="136.57" stroke="#555" stroke-width="0.5"/>
<text x="539.10" y="216.60" text-anchor="middle" font-size="4.4" fill="#333">600</text>
<text x="459.20" y="138.07" text-anchor="end" font-size="4.4" fill="#333">600</text>
<line x1="552.05" y1="210.6" x2="552.05" y2="211.9" stroke="#555" stroke-width="0.5"/>
<line x1="460.09999999999997" y1="124.24" x2="461.4" y2="124.24" stroke="#555" stroke-width="0.5"/>
<text x="552.05" y="216.60" text-anchor="middle" font-size="4.4" fill="#333">700</text>
<text x="459.20" y="125.74" text-anchor="end" font-size="4.4" fill="#333">700</text>
<line x1="565.00" y1="210.6" x2="565.00" y2="211.9" stroke="#555" stroke-width="0.5"/>
<line x1="460.09999999999997" y1="111.90" x2="461.4" y2="111.90" stroke="#555" stroke-width="0.5"/>
<text x="565.00" y="216.60" text-anchor="middle" font-size="4.4" fill="#333">800</text>
<text x="459.20" y="113.40" text-anchor="end" font-size="4.4" fill="#333">800</text>
<path d="M488.99 182.56L490.79 184.36M488.99 184.36L490.79 182.56M488.99 171.45L490.79 173.25M488.99 173.25L490.79 171.45M488.99 160.35L490.79 162.15M488.99 162.15L490.79 160.35M488.99 149.25L490.79 151.05M488.99 151.05L490.79 149.25M488.99 138.14L490.79 139.94M488.99 139.94L490.79 138.14M500.64 182.56L502.44 184.36M500.64 184.36L502.44 182.56M500.64 171.45L502.44 173.25M500.64 173.25L502.44 171.45M500.64 160.35L502.44 162.15M500.64 162.15L502.44 160.35M500.64 149.25L502.44 151.05M500.64 151.05L502.44 149.25M500.64 138.14L502.44 139.94M500.64 139.94L502.44 138.14M512.30 182.56L514.10 184.36M512.30 184.36L514.10 182.56M512.30 171.45L514.10 173.25M512.30 173.25L514.10 171.45M512.30 160.35L514.10 162.15M512.30 162.15L514.10 160.35M512.30 149.25L514.10 151.05M512.30 151.05L514.10 149.25M512.30 138.14L514.10 139.94M512.30 139.94L514.10 138.14M523.96 182.56L525.75 184.36M523.96 184.36L525.75 182.56M523.96 171.45L525.75 173.25M523.96 173.25L525.75 171.45M523.96 160.35L525.75 162.15M523.96 162.15L525.75 160.35M523.96 149.25L525.75 151.05M523.96 151.05L525.75 149.25M523.96 138.14L525.75 139.94M523.96 139.94L525.75 138.14M535.61 182.56L537.41 184.36M535.61 184.36L537.41 182.56M535.61 171.45L537.41 173.25M535.61 173.25L537.41 171.45M535.61 160.35L537.41 162.15M535.61 162.15L537.41 160.35M535.61 149.25L537.41 151.05M535.61 151.05L537.41 149.25M535.61 138.14L537.41 139.94M535.61 139.94L537.41 138.14" stroke="#222" stroke-width="0.85" fill="none"/>
<rect x="571.7" y="111.90" width="5.20" height="98.60" fill="#ff1b0d"/>
<rect x="571.7" y="118.47" width="5.20" height="92.03" fill="#ff4f28"/>
<rect x="571.7" y="125.05" width="5.20" height="85.45" fill="#ff7f42"/>
<rect x="571.7" y="131.62" width="5.20" height="78.88" fill="#ffab5b"/>
<rect x="571.7" y="138.19" width="5.20" height="72.31" fill="#e5ce74"/>
<rect x="571.7" y="144.77" width="5.20" height="65.73" fill="#c3e98b"/>
<rect x="571.7" y="151.34" width="5.20" height="59.16" fill="#a2f9a0"/>
<rect x="571.7" y="157.91" width="5.20" height="52.59" fill="#80ffb4"/>
<rect x="571.7" y="164.49" width="5.20" height="46.01" fill="#5ef9c6"/>
<rect x="571.7" y="171.06" width="5.20" height="39.44" fill="#3be9d6"/>
<rect x="571.7" y="177.63" width="5.20" height="32.87" fill="#19cee3"/>
<rect x="571.7" y="184.21" width="5.20" height="26.29" fill="#08abee"/>
<rect x="571.7" y="190.78" width="5.20" height="19.72" fill="#2b7ff6"/>
<rect x="571.7" y="197.35" width="5.20" height="13.15" fill="#4c4ffc"/>
<rect x="571.7" y="203.93" width="5.20" height="6.57" fill="#6e1bff"/>
<rect x="571.7" y="111.9" width="5.20" height="98.60" fill="none" stroke="#777" stroke-width="0.4"/>
<line x1="576.9" y1="209.51" x2="578.1999999999999" y2="209.51" stroke="#555" stroke-width="0.5"/>
<text x="579.50" y="211.21" font-size="5" font-weight="bold" fill="#333">10</text>
<line x1="576.9" y1="197.46" x2="578.1999999999999" y2="197.46" stroke="#555" stroke-width="0.5"/>
<text x="579.50" y="199.16" font-size="5" font-weight="bold" fill="#333">14</text>
<line x1="576.9" y1="185.41" x2="578.1999999999999" y2="185.41" stroke="#555" stroke-width="0.5"/>
<text x="579.50" y="187.11" font-size="5" font-weight="bold" fill="#333">18</text>
<line x1="576.9" y1="173.36" x2="578.1999999999999" y2="173.36" stroke="#555" stroke-width="0.5"/>
<text x="579.50" y="175.06" font-size="5" font-weight="bold" fill="#333">22</text>
<line x1="576.9" y1="161.31" x2="578.1999999999999" y2="161.31" stroke="#555" stroke-width="0.5"/>
<text x="579.50" y="163.01" font-size="5" font-weight="bold" fill="#333">26</text>
<line x1="576.9" y1="149.26" x2="578.1999999999999" y2="149.26" stroke="#555" stroke-width="0.5"/>
<text x="579.50" y="150.96" font-size="5" font-weight="bold" fill="#333">30</text>
<line x1="576.9" y1="137.21" x2="578.1999999999999" y2="137.21" stroke="#555" stroke-width="0.5"/>
<text x="579.50" y="138.91" font-size="5" font-weight="bold" fill="#333">34</text>
<line x1="576.9" y1="125.16" x2="578.1999999999999" y2="125.16" stroke="#555" stroke-width="0.5"/>
<text x="579.50" y="126.86" font-size="5" font-weight="bold" fill="#333">38</text>
<line x1="576.9" y1="113.11" x2="578.1999999999999" y2="113.11" stroke="#555" stroke-width="0.5"/>
<text x="579.50" y="114.81" font-size="5" font-weight="bold" fill="#333">42</text>
<text x="571.30" y="109.10" text-anchor="middle" font-size="5" font-weight="bold" fill="#333">1e10</text>
<rect x="32" y="16" width="252" height="203" fill="none" stroke="#5c5c5c" stroke-width="1.6"/>
<line x1="28" y1="219.00" x2="32" y2="219.00" stroke="#5c5c5c" stroke-width="1.2"/>
<text x="25.5" y="221.60" text-anchor="end" font-size="9.2" fill="#111" class="t">0</text>
<line x1="30" y1="206.31" x2="32" y2="206.31" stroke="#5c5c5c" stroke-width="1.2"/>
<line x1="28" y1="193.62" x2="32" y2="193.62" stroke="#5c5c5c" stroke-width="1.2"/>
<text x="25.5" y="196.22" text-anchor="end" font-size="9.2" fill="#111" class="t">5</text>
<line x1="30" y1="180.94" x2="32" y2="180.94" stroke="#5c5c5c" stroke-width="1.2"/>
<line x1="28" y1="168.25" x2="32" y2="168.25" stroke="#5c5c5c" stroke-width="1.2"/>
<text x="25.5" y="170.85" text-anchor="end" font-size="9.2" fill="#111" class="t">10</text>
<line x1="30" y1="155.56" x2="32" y2="155.56" stroke="#5c5c5c" stroke-width="1.2"/>
<line x1="28" y1="142.88" x2="32" y2="142.88" stroke="#5c5c5c" stroke-width="1.2"/>
<text x="25.5" y="145.47" text-anchor="end" font-size="9.2" fill="#111" class="t">15</text>
<line x1="30" y1="130.19" x2="32" y2="130.19" stroke="#5c5c5c" stroke-width="1.2"/>
<line x1="28" y1="117.50" x2="32" y2="117.50" stroke="#5c5c5c" stroke-width="1.2"/>
<text x="25.5" y="120.10" text-anchor="end" font-size="9.2" fill="#111" class="t">20</text>
<line x1="30" y1="104.81" x2="32" y2="104.81" stroke="#5c5c5c" stroke-width="1.2"/>
<line x1="28" y1="92.12" x2="32" y2="92.12" stroke="#5c5c5c" stroke-width="1.2"/>
<text x="25.5" y="94.72" text-anchor="end" font-size="9.2" fill="#111" class="t">25</text>
<line x1="30" y1="79.44" x2="32" y2="79.44" stroke="#5c5c5c" stroke-width="1.2"/>
<line x1="28" y1="66.75" x2="32" y2="66.75" stroke="#5c5c5c" stroke-width="1.2"/>
<text x="25.5" y="69.35" text-anchor="end" font-size="9.2" fill="#111" class="t">30</text>
<line x1="30" y1="54.06" x2="32" y2="54.06" stroke="#5c5c5c" stroke-width="1.2"/>
<line x1="28" y1="41.38" x2="32" y2="41.38" stroke="#5c5c5c" stroke-width="1.2"/>
<text x="25.5" y="43.98" text-anchor="end" font-size="9.2" fill="#111" class="t">35</text>
<line x1="30" y1="28.69" x2="32" y2="28.69" stroke="#5c5c5c" stroke-width="1.2"/>
<line x1="28" y1="16.00" x2="32" y2="16.00" stroke="#5c5c5c" stroke-width="1.2"/>
<text x="25.5" y="18.60" text-anchor="end" font-size="9.2" fill="#111" class="t">40</text>
<line x1="32.00" y1="219" x2="32.00" y2="223" stroke="#5c5c5c" stroke-width="1.2"/>
<text x="32.00" y="232.2" text-anchor="middle" font-size="9.1" fill="#111" class="t">0</text>
<line x1="53.00" y1="219" x2="53.00" y2="221" stroke="#5c5c5c" stroke-width="1.2"/>
<line x1="74.00" y1="219" x2="74.00" y2="223" stroke="#5c5c5c" stroke-width="1.2"/>
<text x="74.00" y="232.2" text-anchor="middle" font-size="9.1" fill="#111" class="t">100</text>
<line x1="95.00" y1="219" x2="95.00" y2="221" stroke="#5c5c5c" stroke-width="1.2"/>
<line x1="116.00" y1="219" x2="116.00" y2="223" stroke="#5c5c5c" stroke-width="1.2"/>
<text x="116.00" y="232.2" text-anchor="middle" font-size="9.1" fill="#111" class="t">200</text>
<line x1="137.00" y1="219" x2="137.00" y2="221" stroke="#5c5c5c" stroke-width="1.2"/>
<line x1="158.00" y1="219" x2="158.00" y2="223" stroke="#5c5c5c" stroke-width="1.2"/>
<text x="158.00" y="232.2" text-anchor="middle" font-size="9.1" fill="#111" class="t">300</text>
<line x1="179.00" y1="219" x2="179.00" y2="221" stroke="#5c5c5c" stroke-width="1.2"/>
<line x1="200.00" y1="219" x2="200.00" y2="223" stroke="#5c5c5c" stroke-width="1.2"/>
<text x="200.00" y="232.2" text-anchor="middle" font-size="9.1" fill="#111" class="t">400</text>
<line x1="221.00" y1="219" x2="221.00" y2="221" stroke="#5c5c5c" stroke-width="1.2"/>
<line x1="242.00" y1="219" x2="242.00" y2="223" stroke="#5c5c5c" stroke-width="1.2"/>
<text x="242.00" y="232.2" text-anchor="middle" font-size="9.1" fill="#111" class="t">500</text>
<line x1="263.00" y1="219" x2="263.00" y2="221" stroke="#5c5c5c" stroke-width="1.2"/>
<line x1="284.00" y1="219" x2="284.00" y2="223" stroke="#5c5c5c" stroke-width="1.2"/>
<text x="284.00" y="232.2" text-anchor="middle" font-size="9.1" fill="#111" class="t">600</text>
<text x="158.0" y="248.8" text-anchor="middle" font-size="10.6" fill="#111" class="t">Distance (mm)</text>
<text transform="translate(11,117) rotate(-90)" text-anchor="middle" font-size="10.5" fill="#111" class="t">Plasma density (10<tspan font-size="6.8" dy="-4">10</tspan><tspan dy="4"> cm</tspan><tspan font-size="6.8" dy="-4">-3</tspan><tspan dy="4">)</tspan></text>
<text x="261.8" y="10.1" text-anchor="middle" font-size="10.8" fill="#111" class="t">(a)</text>
<path d="M30.10 216.20L32.00 214.30L33.90 216.20L32.00 218.10ZM34.30 214.30L36.20 212.40L38.10 214.30L36.20 216.20ZM38.50 211.30L40.40 209.40L42.30 211.30L40.40 213.20ZM42.70 206.60L44.60 204.70L46.50 206.60L44.60 208.50ZM46.90 199.30L48.80 197.40L50.70 199.30L48.80 201.20ZM51.10 192.00L53.00 190.10L54.90 192.00L53.00 193.90ZM55.30 186.10L57.20 184.20L59.10 186.10L57.20 188.00ZM59.50 180.20L61.40 178.30L63.30 180.20L61.40 182.10ZM63.70 175.30L65.60 173.40L67.50 175.30L65.60 177.20ZM67.90 167.30L69.80 165.40L71.70 167.30L69.80 169.20ZM72.10 157.30L74.00 155.40L75.90 157.30L74.00 159.20ZM76.30 147.80L78.20 145.90L80.10 147.80L78.20 149.70ZM80.50 141.00L82.40 139.10L84.30 141.00L82.40 142.90ZM84.70 136.70L86.60 134.80L88.50 136.70L86.60 138.60ZM88.90 129.00L90.80 127.10L92.70 129.00L90.80 130.90ZM93.10 122.50L95.00 120.60L96.90 122.50L95.00 124.40ZM97.30 115.70L99.20 113.80L101.10 115.70L99.20 117.60ZM101.50 109.40L103.40 107.50L105.30 109.40L103.40 111.30ZM105.70 103.20L107.60 101.30L109.50 103.20L107.60 105.10ZM109.90 98.30L111.80 96.40L113.70 98.30L111.80 100.20ZM114.10 92.50L116.00 90.60L117.90 92.50L116.00 94.40ZM118.30 87.30L120.20 85.40L122.10 87.30L120.20 89.20ZM122.50 82.30L124.40 80.40L126.30 82.30L124.40 84.20ZM126.70 75.40L128.60 73.50L130.50 75.40L128.60 77.30ZM130.90 70.60L132.80 68.70L134.70 70.60L132.80 72.50ZM135.10 66.80L137.00 64.90L138.90 66.80L137.00 68.70ZM139.30 64.30L141.20 62.40L143.10 64.30L141.20 66.20ZM143.50 61.60L145.40 59.70L147.30 61.60L145.40 63.50ZM147.70 60.30L149.60 58.40L151.50 60.30L149.60 62.20ZM151.90 57.90L153.80 56.00L155.70 57.90L153.80 59.80ZM156.10 57.60L158.00 55.70L159.90 57.60L158.00 59.50ZM160.30 56.60L162.20 54.70L164.10 56.60L162.20 58.50ZM164.50 53.70L166.40 51.80L168.30 53.70L166.40 55.60ZM168.70 52.10L170.60 50.20L172.50 52.10L170.60 54.00ZM172.90 49.40L174.80 47.50L176.70 49.40L174.80 51.30ZM177.10 48.10L179.00 46.20L180.90 48.10L179.00 50.00ZM181.30 48.10L183.20 46.20L185.10 48.10L183.20 50.00ZM185.50 46.70L187.40 44.80L189.30 46.70L187.40 48.60ZM189.70 45.20L191.60 43.30L193.50 45.20L191.60 47.10ZM193.90 45.00L195.80 43.10L197.70 45.00L195.80 46.90ZM198.10 45.50L200.00 43.60L201.90 45.50L200.00 47.40ZM202.30 43.80L204.20 41.90L206.10 43.80L204.20 45.70ZM206.50 44.00L208.40 42.10L210.30 44.00L208.40 45.90ZM210.70 43.80L212.60 41.90L214.50 43.80L212.60 45.70ZM214.90 44.30L216.80 42.40L218.70 44.30L216.80 46.20ZM219.10 43.90L221.00 42.00L222.90 43.90L221.00 45.80ZM223.30 46.30L225.20 44.40L227.10 46.30L225.20 48.20ZM227.50 46.70L229.40 44.80L231.30 46.70L229.40 48.60ZM231.70 48.50L233.60 46.60L235.50 48.50L233.60 50.40ZM235.90 49.30L237.80 47.40L239.70 49.30L237.80 51.20ZM240.10 51.40L242.00 49.50L243.90 51.40L242.00 53.30ZM244.30 54.40L246.20 52.50L248.10 54.40L246.20 56.30ZM248.50 56.20L250.40 54.30L252.30 56.20L250.40 58.10ZM252.70 58.80L254.60 56.90L256.50 58.80L254.60 60.70ZM256.90 58.80L258.80 56.90L260.70 58.80L258.80 60.70ZM261.10 62.90L263.00 61.00L264.90 62.90L263.00 64.80ZM265.30 67.30L267.20 65.40L269.10 67.30L267.20 69.20ZM269.50 70.50L271.40 68.60L273.30 70.50L271.40 72.40ZM273.70 75.00L275.60 73.10L277.50 75.00L275.60 76.90ZM277.90 80.20L279.80 78.30L281.70 80.20L279.80 82.10ZM282.10 87.30L284.00 85.40L285.90 87.30L284.00 89.20Z" fill="#0000ff"/>
<rect x="342" y="16" width="252" height="203" fill="none" stroke="#5c5c5c" stroke-width="1.6"/>
<line x1="338" y1="219.00" x2="342" y2="219.00" stroke="#5c5c5c" stroke-width="1.2"/>
<text x="335.5" y="221.60" text-anchor="end" font-size="9.2" fill="#111" class="t">0</text>
<line x1="340" y1="198.70" x2="342" y2="198.70" stroke="#5c5c5c" stroke-width="1.2"/>
<line x1="338" y1="178.40" x2="342" y2="178.40" stroke="#5c5c5c" stroke-width="1.2"/>
<text x="335.5" y="181.00" text-anchor="end" font-size="9.2" fill="#111" class="t">5</text>
<line x1="340" y1="158.10" x2="342" y2="158.10" stroke="#5c5c5c" stroke-width="1.2"/>
<line x1="338" y1="137.80" x2="342" y2="137.80" stroke="#5c5c5c" stroke-width="1.2"/>
<text x="335.5" y="140.40" text-anchor="end" font-size="9.2" fill="#111" class="t">10</text>
<line x1="340" y1="117.50" x2="342" y2="117.50" stroke="#5c5c5c" stroke-width="1.2"/>
<line x1="338" y1="97.20" x2="342" y2="97.20" stroke="#5c5c5c" stroke-width="1.2"/>
<text x="335.5" y="99.80" text-anchor="end" font-size="9.2" fill="#111" class="t">15</text>
<line x1="340" y1="76.90" x2="342" y2="76.90" stroke="#5c5c5c" stroke-width="1.2"/>
<line x1="338" y1="56.60" x2="342" y2="56.60" stroke="#5c5c5c" stroke-width="1.2"/>
<text x="335.5" y="59.20" text-anchor="end" font-size="9.2" fill="#111" class="t">20</text>
<line x1="340" y1="36.30" x2="342" y2="36.30" stroke="#5c5c5c" stroke-width="1.2"/>
<line x1="338" y1="16.00" x2="342" y2="16.00" stroke="#5c5c5c" stroke-width="1.2"/>
<text x="335.5" y="18.60" text-anchor="end" font-size="9.2" fill="#111" class="t">25</text>
<line x1="342.00" y1="219" x2="342.00" y2="223" stroke="#5c5c5c" stroke-width="1.2"/>
<text x="342.00" y="232.2" text-anchor="middle" font-size="9.1" fill="#111" class="t">0</text>
<line x1="363.00" y1="219" x2="363.00" y2="221" stroke="#5c5c5c" stroke-width="1.2"/>
<line x1="384.00" y1="219" x2="384.00" y2="223" stroke="#5c5c5c" stroke-width="1.2"/>
<text x="384.00" y="232.2" text-anchor="middle" font-size="9.1" fill="#111" class="t">100</text>
<line x1="405.00" y1="219" x2="405.00" y2="221" stroke="#5c5c5c" stroke-width="1.2"/>
<line x1="426.00" y1="219" x2="426.00" y2="223" stroke="#5c5c5c" stroke-width="1.2"/>
<text x="426.00" y="232.2" text-anchor="middle" font-size="9.1" fill="#111" class="t">200</text>
<line x1="447.00" y1="219" x2="447.00" y2="221" stroke="#5c5c5c" stroke-width="1.2"/>
<line x1="468.00" y1="219" x2="468.00" y2="223" stroke="#5c5c5c" stroke-width="1.2"/>
<text x="468.00" y="232.2" text-anchor="middle" font-size="9.1" fill="#111" class="t">300</text>
<line x1="489.00" y1="219" x2="489.00" y2="221" stroke="#5c5c5c" stroke-width="1.2"/>
<line x1="510.00" y1="219" x2="510.00" y2="223" stroke="#5c5c5c" stroke-width="1.2"/>
<text x="510.00" y="232.2" text-anchor="middle" font-size="9.1" fill="#111" class="t">400</text>
<line x1="531.00" y1="219" x2="531.00" y2="221" stroke="#5c5c5c" stroke-width="1.2"/>
<line x1="552.00" y1="219" x2="552.00" y2="223" stroke="#5c5c5c" stroke-width="1.2"/>
<text x="552.00" y="232.2" text-anchor="middle" font-size="9.1" fill="#111" class="t">500</text>
<line x1="573.00" y1="219" x2="573.00" y2="221" stroke="#5c5c5c" stroke-width="1.2"/>
<line x1="594.00" y1="219" x2="594.00" y2="223" stroke="#5c5c5c" stroke-width="1.2"/>
<text x="594.00" y="232.2" text-anchor="middle" font-size="9.1" fill="#111" class="t">600</text>
<text x="468.0" y="248.8" text-anchor="middle" font-size="10.6" fill="#111" class="t">Distance (mm)</text>
<text transform="translate(321,117) rotate(-90)" text-anchor="middle" font-size="10.5" fill="#111" class="t">Plasma density (10<tspan font-size="6.8" dy="-4">10</tspan><tspan dy="4"> cm</tspan><tspan font-size="6.8" dy="-4">-3</tspan><tspan dy="4">)</tspan></text>
<text x="568" y="10.1" text-anchor="middle" font-size="10.8" fill="#111" class="t">(b)</text>
<path d="M340.10 215.30L342.00 213.40L343.90 215.30L342.00 217.20ZM344.30 212.40L346.20 210.50L348.10 212.40L346.20 214.30ZM348.50 208.50L350.40 206.60L352.30 208.50L350.40 210.40ZM352.70 202.90L354.60 201.00L356.50 202.90L354.60 204.80ZM356.90 193.60L358.80 191.70L360.70 193.60L358.80 195.50ZM361.10 184.20L363.00 182.30L364.90 184.20L363.00 186.10ZM365.30 174.70L367.20 172.80L369.10 174.70L367.20 176.60ZM369.50 166.50L371.40 164.60L373.30 166.50L371.40 168.40ZM373.70 158.80L375.60 156.90L377.50 158.80L375.60 160.70ZM377.90 153.20L379.80 151.30L381.70 153.20L379.80 155.10ZM382.10 146.40L384.00 144.50L385.90 146.40L384.00 148.30ZM386.30 140.00L388.20 138.10L390.10 140.00L388.20 141.90ZM390.50 133.30L392.40 131.40L394.30 133.30L392.40 135.20ZM394.70 125.70L396.60 123.80L398.50 125.70L396.60 127.60ZM398.90 118.20L400.80 116.30L402.70 118.20L400.80 120.10ZM403.10 112.70L405.00 110.80L406.90 112.70L405.00 114.60ZM407.30 102.20L409.20 100.30L411.10 102.20L409.20 104.10ZM411.50 95.40L413.40 93.50L415.30 95.40L413.40 97.30ZM415.70 88.50L417.60 86.60L419.50 88.50L417.60 90.40ZM419.90 81.50L421.80 79.60L423.70 81.50L421.80 83.40ZM424.10 77.90L426.00 76.00L427.90 77.90L426.00 79.80ZM428.30 73.00L430.20 71.10L432.10 73.00L430.20 74.90ZM432.50 68.60L434.40 66.70L436.30 68.60L434.40 70.50ZM436.70 66.20L438.60 64.30L440.50 66.20L438.60 68.10ZM440.90 62.20L442.80 60.30L444.70 62.20L442.80 64.10ZM445.10 58.60L447.00 56.70L448.90 58.60L447.00 60.50ZM449.30 56.70L451.20 54.80L453.10 56.70L451.20 58.60ZM453.50 55.40L455.40 53.50L457.30 55.40L455.40 57.30ZM457.70 57.80L459.60 55.90L461.50 57.80L459.60 59.70ZM461.90 55.40L463.80 53.50L465.70 55.40L463.80 57.30ZM466.10 55.60L468.00 53.70L469.90 55.60L468.00 57.50ZM470.30 54.20L472.20 52.30L474.10 54.20L472.20 56.10ZM474.50 55.30L476.40 53.40L478.30 55.30L476.40 57.20ZM478.70 53.90L480.60 52.00L482.50 53.90L480.60 55.80ZM482.90 56.30L484.80 54.40L486.70 56.30L484.80 58.20ZM487.10 57.30L489.00 55.40L490.90 57.30L489.00 59.20ZM491.30 56.30L493.20 54.40L495.10 56.30L493.20 58.20ZM495.50 55.70L497.40 53.80L499.30 55.70L497.40 57.60ZM499.70 53.70L501.60 51.80L503.50 53.70L501.60 55.60ZM503.90 54.50L505.80 52.60L507.70 54.50L505.80 56.40ZM508.10 53.90L510.00 52.00L511.90 53.90L510.00 55.80ZM512.30 56.30L514.20 54.40L516.10 56.30L514.20 58.20ZM516.50 55.50L518.40 53.60L520.30 55.50L518.40 57.40ZM520.70 54.90L522.60 53.00L524.50 54.90L522.60 56.80ZM524.90 54.00L526.80 52.10L528.70 54.00L526.80 55.90ZM529.10 54.30L531.00 52.40L532.90 54.30L531.00 56.20ZM533.30 55.50L535.20 53.60L537.10 55.50L535.20 57.40ZM537.50 54.60L539.40 52.70L541.30 54.60L539.40 56.50ZM541.70 53.50L543.60 51.60L545.50 53.50L543.60 55.40ZM545.90 53.90L547.80 52.00L549.70 53.90L547.80 55.80ZM550.10 53.90L552.00 52.00L553.90 53.90L552.00 55.80ZM554.30 54.00L556.20 52.10L558.10 54.00L556.20 55.90ZM558.50 55.20L560.40 53.30L562.30 55.20L560.40 57.10ZM562.70 55.20L564.60 53.30L566.50 55.20L564.60 57.10ZM566.90 58.40L568.80 56.50L570.70 58.40L568.80 60.30ZM571.10 57.50L573.00 55.60L574.90 57.50L573.00 59.40ZM575.30 60.00L577.20 58.10L579.10 60.00L577.20 61.90ZM579.50 64.20L581.40 62.30L583.30 64.20L581.40 66.10ZM583.70 66.90L585.60 65.00L587.50 66.90L585.60 68.80ZM587.90 71.90L589.80 70.00L591.70 71.90L589.80 73.80ZM592.10 74.30L594.00 72.40L595.90 74.30L594.00 76.20Z" fill="#0000ff"/>
<line x1="174.6" y1="23" x2="174.6" y2="62" stroke="#8a8a8a" stroke-width="1" stroke-dasharray="1.3 1.3"/>
<line x1="241.7" y1="23" x2="241.7" y2="62" stroke="#8a8a8a" stroke-width="1" stroke-dasharray="1.3 1.3"/>
<line x1="178.6" y1="29.3" x2="237.7" y2="29.3" stroke="#8a8a8a" stroke-width="1.1"/>
<path d="M175.79999999999998 29.3L180.6 27.8L180.6 30.8Z M240.5 29.3L235.7 27.8L235.7 30.8Z" fill="#000"/>
<text x="207.4" y="27.3" text-anchor="middle" font-size="10.5" fill="#111" class="t">2 %</text>
<text x="209" y="40.2" text-anchor="middle" font-size="10.5" fill="#111" class="t">160 mm</text>
<line x1="150" y1="48" x2="150" y2="93" stroke="#8a8a8a" stroke-width="1" stroke-dasharray="1.3 1.3"/>
<line x1="258.9" y1="48" x2="258.9" y2="93" stroke="#8a8a8a" stroke-width="1" stroke-dasharray="1.3 1.3"/>
<line x1="154" y1="77.4" x2="254.89999999999998" y2="77.4" stroke="#8a8a8a" stroke-width="1.1"/>
<path d="M151.2 77.4L156 75.9L156 78.9Z M257.7 77.4L252.89999999999998 75.9L252.89999999999998 78.9Z" fill="#000"/>
<text x="205.8" y="74.9" text-anchor="middle" font-size="10.5" fill="#111" class="t">5 %</text>
<text x="206.9" y="88.1" text-anchor="middle" font-size="10.5" fill="#111" class="t">240 mm</text>
<line x1="447.1" y1="38" x2="447.1" y2="77" stroke="#8a8a8a" stroke-width="1" stroke-dasharray="1.3 1.3"/>
<line x1="577.2" y1="38" x2="577.2" y2="77" stroke="#8a8a8a" stroke-width="1" stroke-dasharray="1.3 1.3"/>
<line x1="451.1" y1="45.4" x2="573.2" y2="45.4" stroke="#8a8a8a" stroke-width="1.1"/>
<path d="M448.3 45.4L453.1 43.9L453.1 46.9Z M576.0 45.4L571.2 43.9L571.2 46.9Z" fill="#000"/>
<text x="517.4" y="29.8" text-anchor="middle" font-size="10.5" fill="#111" class="t">2 %</text>
<text x="518.8" y="42.6" text-anchor="middle" font-size="10.5" fill="#111" class="t">310 mm</text>
<line x1="435" y1="53" x2="435" y2="99" stroke="#8a8a8a" stroke-width="1" stroke-dasharray="1.3 1.3"/>
<line x1="590" y1="53" x2="590" y2="99" stroke="#8a8a8a" stroke-width="1" stroke-dasharray="1.3 1.3"/>
<line x1="439" y1="83.9" x2="586" y2="83.9" stroke="#8a8a8a" stroke-width="1.1"/>
<path d="M436.2 83.9L441 82.4L441 85.4Z M588.8 83.9L584 82.4L584 85.4Z" fill="#000"/>
<text x="513.8" y="81.8" text-anchor="middle" font-size="10.5" fill="#111" class="t">5 %</text>
<text x="515.5" y="95.1" text-anchor="middle" font-size="10.5" fill="#111" class="t">370 mm</text>
</svg></body></html>
